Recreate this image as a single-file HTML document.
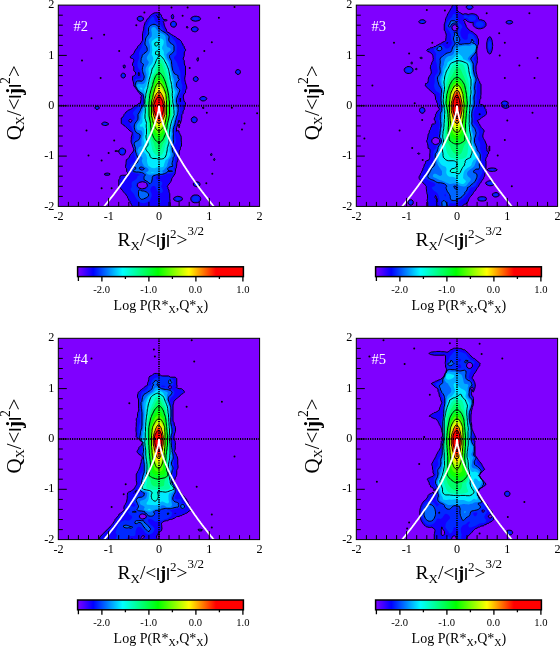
<!DOCTYPE html><html><head><meta charset="utf-8"><style>html,body{margin:0;padding:0;background:#fff;width:560px;height:646px;overflow:hidden}svg{display:block;font-family:"Liberation Serif",serif}</style></head><body>
<svg width="560" height="646" viewBox="0 0 560 646">
<defs><linearGradient id="cbg" x1="0" x2="1" y1="0" y2="0"><stop offset="0.0000" stop-color="#7f00ff"/><stop offset="0.0943" stop-color="#0000ff"/><stop offset="0.2714" stop-color="#00ffff"/><stop offset="0.4857" stop-color="#00ff00"/><stop offset="0.6714" stop-color="#ffff00"/><stop offset="0.8343" stop-color="#ff0000"/><stop offset="1.0000" stop-color="#ff0000"/></linearGradient><clipPath id="pc"><rect x="58.3" y="5.1" width="201.3" height="201.3"/></clipPath></defs>
<g transform="translate(0,0)">
<rect x="58.3" y="5.1" width="201.3" height="201.3" fill="#7f00ff"/>
<g clip-path="url(#pc)">
<g transform="scale(.25)">
<path fill="#1300ff" d="M527 821l3 5 151 0 0-15-1-5 0-5-1-6 0-20-2-5-1-5 0-5-4-5 0-5-1-2-2-3 2-2 2-3 3-4 5-5 0-1 3-5 2-5 1-5 3-5 1-2 3-3 2-4 1-1 3-5 1-2 0-3 1-5 0-5 1-5 3-5 0-5 1-5 0-5 1-5 2-6 1-2 1-3 0-5 2-10 2-3 1-2 0-15 4-5 1-5 0-5 4-5 0-15-1-5 0-15-1-5-3-5-2-5-3-5 0-5-5-2-4 2-1 1 0-14 1-2 2-5 1-5 1-3 1-2 2-6 1-5 1-3 2 3 2 5 1 6 1 0 1-6 2-5 1-5 0-3 1-2 0-10 1-5 3-3 1-2 0-5 1-5 3-3 1-2 0-15 5-5 0-7-3-3-3-4 0-1-3-15 2-10 1-2 4-3 2-2 0-8 2-5 3-4 0-6-1-5-2-6-2-5 0-2-1-3-2-10 0-5 2-10 1-2 0-36-3-2-2-10 0-10-1-1-3-4 0-5 3-5 0-1 1-4 0-10 1-5 4-4 0-6-5-5 0-6-1 0-4-5 0-5-1 0-4-5-1-5-5-5-5-4 0-1-5 0-4-5-1 0-5-5-5-1-4-4-1 0-5-3-2-2-3-1-5-4-5-2-4-3-1-5 0-1-2-4-3-5 0-1-2-4-2-5-1-5 0-3-1-2-2-5 3-3 5 1 5-1 3-2-3-2-5-1-5 1-4-3-1-3-1-2-4-5 0-5-5-5 0-1-5-3-5-1-10 0-5 1-5 3-2 1-3 2-3 3-2 1-3 4-2 3-1 2-5 5-4 5 0 1-2 4-4 4 0 1-1 5-2 5-1 5-1 1 0 9-1 5-2 5-1 5-1 4 0 26-3 5-2 3 0 2-5 5 0 1-10 10-1 5-4 4 0 1-5 4 0 1-4 10-1 1-2 4-3 1-5 4-4 5 1 5 3 1 5 1 4 3 1 4 0 1-1 5-3 5-1 3 0 7 5 5 0 16 5 4 3 5-1 5-2 3-2 2-3 2-5 1 0 15 1 2 2 5 2 10 0 6 4 5 1 1 3 4 2 4 1 1 4 5 0 1 4 4 1 2 3 3 2 4 1 1 4 2 2 3-2 3-2 2 1 5 0 5-2 10 0 5-7 0-5 5-5 4-5 1-5 5-5 4-1 1-4 3-4 2-1 1-5 1-5 3-5 5-1 0-3 5-5 5-1 4-1 1-3 5-1 2-5 2 0 22 5 3 2 2 3 1 3 4 2 1 4 4 1 0 4 5 1 0 10 10 5 2 3 3 1 5-2 10-2 4 0 11-1 5 1 5 0 3 1 2 3 5 1 5 0 2 2 3 2 5 1 5-1 5-8 10-5 5-1 2-1 3-3 5-1 2-3 3-2 3-5 2 0 5-1 6 0 5-2 10 0 5 3 3 1 2 1 5-1 5 4 5 0 5-3 5-2 0-5 1-10 0-5 1-5 3-1 5 0 5-4 4 0 26 4 5 6 6 3 4 2 2 2 3 3 4 6 6 4 5 0 1 4 4 1 5 0 2 4 3 1 6 5 5 0 4 1 1 4 5 0 1 2 4zM555 751l-1-1-4-5-1-5 1-2 1-3 4-4 2-1 3-1 10-2 10 2 2 1 4 3 1 2 2 5 0 5-3 4-1 1-5 3-10 2-5 0-10-4zM626 62l-1-1 1-1 0 2zM631 70l-2-4 2-1 0 5zM636 73l-4-2 4-1 0 3zM721 407l0-4-1-5 1-5 0-1 1 1 0 10-1 4zM555 304l-1-2-1-5 1-5 1-3 2 3 0 10-2 2zM520 490l-2-2-3-5 3-5 2-2 3 2 2 1 3 4-3 4-2 1-3 2zM776 811l13 0 3-1 5-3 1-1 4-5 1-6-1-5-4-5-1-1-5-3-3-1-13 0-4 2-5 3 0 1-3 4-1 5 1 6 3 4 0 1 5 3 4 2zM697 801l4 2 5 2 5 1 10-2 5-3 2 0 2-6-2-5-2-1-5-2-10-2-5 1-5 2-4 2-1 1-2 4 2 5 1 1zM779 745l3 1 5 1 5-1 3-1 2-1 3-4 0-5-3-5-5-2-5-1-5 1-5 2-4 5 1 5 3 4 2 1zM419 700l5 1 11 0 3-1 2-5-5-2-6-1-10 2-1 1 1 5zM854 639l3 4 3-4-2-5-2 0-2 5zM484 619l1 1 5 0 4-1 1 0 5-4 0-1 2-5 1-5-2-5-5-5-1 0-5-2-5 1-3 1-5 5-2 5 0 5 3 5 2 3 4 2zM842 619l0 2 5 1 1-3-1-5-2 0-3 2 0 3zM459 604l1 1 5 1 5-1 4-1-4 0-5-2-5 2-1 0zM716 509l0 3 1-3 1-5 2-5-4-2-3 2 2 5 1 5zM408 499l1 0 5 2 5 1 5 0 5-2 4-1 1-5-5-3-5-2-5-1-5 1-5 3-2 2 1 5zM769 488l3 2 5 1 5-1 2-2 3-2 1-3 1-5-2-5-5-5-1 0-4-1-5 1-5 5-1 0-1 5 1 5 1 3 2 2zM380 433l4 4 5 1 5-2 3-3-1-5-2-2-5-2-5 1-4 3 0 5zM810 433l2 1 4-1-2-5-3 0-1 5zM807 403l5 1 5-1 2 0 3-2 4-3 1-5-5-5-5-2-5 0-5 1-2 1-3 2-3 3 1 5 2 2 5 3zM775 322l2 2 5 2 5-1 4-3 1-2 1-3-1-5-5-5-5-1-3 1-5 5-1 5 2 5zM485 307l5 5 5 0 5-4 1-1 1-5-1-5-1-1-5-3-5 0-5 4 0 1-1 4 1 4 0 1zM948 297l5 1 3-1 2-1 3-4 1-5-2-5-2-2-5-2-5 1-4 3-1 3-1 2 1 5 5 5zM495 272l3 0 2-1 1-4 0-5-1-1-5-1-2 2 0 5 2 5zM788 242l4 3 1-3 1-5-1-5-1-2-2 2-3 5 1 5zM773 126l4 1 5 0 2-1 3-1 5-4 0-1 1-4-1-2-2-3-3-2-5-2-5 0-5 2-4 2-1 1-2 4 1 5 1 1 5 4 1 0zM746 111l1 1 5-1 0-3-2-2-4 0 0 5zM686 106l5 2 5 1 5-2 1-1 3-5 1-5-2-5-3-4-3-1-2-1-5 0-1 1-4 2-2 3-2 5 1 5 3 5zM551 81l4 2 5 2 5-1 5-2 2-1 2-5-1-5-3-3-3-2-2-1-5 0-4 1-1 0-5 4-1 1 0 5 1 4 1 1zM767 81l5 2 10 2 15-3 2-1 3-4 1-1-1-3-1-2-4-3-5-2-1 0-4-1-10 0-3 1-2 1-5 2-2 2-2 5 4 5zM690 76l2 0 2-5 1-5-2-5-2-4-5 4-1 5 1 5 0 1 4 4z"/>
<path fill="#0029ff" d="M563 811l2 0 10 2 5-1 6-2 5-3 3-1 2-1 3-4 2-2 1-4 2-5 2-3 0-2 1-5-1-5 0-2-2-3-2-5-1-5 1-5 2-5 5-5 2-1 5 0 3 1 2 1 2 4 2 5 1 2 1 3 3 5 1 1 5 3 3 1 2 1 5 1 5-5 0-7-2-5-3-5 0-1-2-4 2-3 1-2 2-5 0-5-5-5-3-1-5-3-3-1-2-1-5-3-1-1-2-5 3-3 5-2 5 0 5-1 5 0 20-8 4-1 1-1 10 0 5-1 5-2 2-1 5-5-4-10 2-5 0-1 4-4 0-21 1-5-1-5 1-5 0-1 1-4 1-5-1-5-1-4 0-1-2-5-3-2-2-3-1-5 1-5 0-5 2-4 2-1 3-4 1-1 2-5 0-10-3-15 0-5-2-10 0-15 2-5 0-2 1-3 4-10 0-2 1-4 2-10 2-5 0-2 1-3 4-10 0-1 3-4 2-10 0-5-2-5 0-5-2-5-1-3 0-2-4-10 0-10 1-5 2-5 1-3 1-2 2-5 2-4 2-1 3-5 0-4 1-1 2-10 0-5 1-5-2-6-2-4 0-1-2-10 0-5-2-10 0-15-1-2 0-3-4-10-1-3 0-2-2-5-3-5-1-5-2-5-2-3 0-2-4-5-1-1-3-4-2-3 0-5 1-2 5-5 4-5 0-15 1-5 0-11-2-10-2-5-2-4 0-1-4-5-1-1-3-4-2-2-2-3-3-3-1-2-4-3-1-2-4-2-3-3-2-1-10-8-1-1-8-10-1-2-2-3-3-4-1-1-2-5-2-3-3-2-2-2-5-2-2-1-3-2-4-3-1-2-2-3-1-5-2-5 0-1-5-4-5 4-1 1-4 5-3 5-2 5 0 1-3 4-1 5-1 3-2 2-3 5 0 7-1 3 0 15-4 10-1 0-2 5-2 10 0 5-1 1-1 4-2 5-1 5-1 2-1 3-2 5-1 6-1 0-3 5-2 3 0 2-3 5-1 5 0 5 1 5 0 10-6 15-1 5 0 11 1 4 2 5 2 3 2 2 3 5 4 10 2 10 0 5-1 2-4 3-1 1-10 2-5 0-3 2-2 5-1 5-2 5 1 5 0 6 2 3 1 2 4 5 0 1 3 4 2 3 2 2 3 4 5 5 2 1 3 3 3 2 2 3 1 2 2 10 0 10 1 5 1 2 1 3-5 5-1 0-10 4-1 1-4 2-4 3-5 5-1 2-4 3-1 2-2 3-5 5-1 5 1 5 2 2 2 3 2 5 0 5-3 5-1 1-5 2 0 2-1 5-4 4-5 1-2 1 2 4 0 1 4 5 1 1 2 4 1 5 2 3 0 2 4 10 1 5 0 7 1 3 1 5-2 5-3 5-2 10 3 15 4 10 0 10 1 5-1 5 0 5 2 5 1 5 1 0 1 5 0 5-2 5-5 4-1 2-4 3-2 2-3 2-5 5-1 3 5 5 1 2 1 3-1 1-2 4-1 5 3 2 5 2 2 1 3 1 5 2 10 2 5 2 5 3 1 0-1 0-10 4 0 1-1 5-3 5-1 1-5 4-5 3-4 2-1 1-3 4-1 5 1 5 0 5-1 5-1 2-3 3 1 5 2 4 1 1 4 5 1 0 4 5 0 1 3 4 2 5 0 1 3 4 2 4 1 1 4 6 5 4 0 1 5 4 3 1zM555 755l-5-3-2-2-3-5 0-1-1-4 1-1 1-4 4-5 1 0 4-3 5-2 1 0 4-1 10 0 3 1 2 1 6 2 5 5 1 2 2 5-1 5-2 5-1 0-4 4-3 1-3 2-5 1-10 0-5-1-5-2zM632 811l9 0 3-5-2-5-1-2-5 0-3 2-5 5 3 4 1 1zM776 806l1 0 5 1 5-1 2 0 3-2 3-3 2-5 0-1-2-5-3-3-3-2-2 0-5-1-5 1-1 0-4 4-2 1-1 5 1 6 2 1 4 4zM706 801l5 1 5-1 3 0 2-2 3-4-5-5-3 0-5-1-5 1-5 5 0 1 5 5zM779 740l3 2 5 1 5-1 2-2 1-5-3-3-5-1-5 1-3 3 0 5zM485 614l5 1 2-1 3-2 2-3 0-5-2-4-1-1-4-1-5 0-1 1-4 5 1 5 4 5zM418 499l5 0 1-1 2-4-2-1-5 0-4 1 3 5zM771 483l1 2 5 2 5-2 1-2 1-5-2-4-1-1-4-1-5 1 0 1-2 4 1 5zM383 433l1 1 5 1 4-2-1-5-3-1-5 1-1 5zM806 398l1 1 5 1 5-1 3-1 1-5-4-3-5 0-5 1-2 2 1 5zM781 322l1 1 1-1 4-1 2-4-2-5-5-1-4 1-1 4 0 2 4 4zM490 307l0 1 5 0 1-1 2-5-2-5-6 0-2 5 2 5zM947 292l1 1 5 1 3-2 2-4 0-1-5-5-1 0-4 2-2 3 1 5zM772 121l5 2 5 0 3-2 2-3 0-3-5-4-6 0-4 3-2 2 2 5zM687 101l4 4 5 0 5-4 1 0 0-5-1-3-1-2-4-2-5 0-2 2-3 4 0 3 1 3zM560 81l2 0 3-1 4-4-2-5-2-1-5-1-5 2-1 5 1 2 5 3zM780 81l7 0 5-3 3-2-2-5-1-1-5-1-5 0-5 1-4 1-1 2-2 3 2 1 5 3 3 1z"/>
<path fill="#0067ff" d="M563 795l2 2 5 0 5-1 1-1 4-2 6-2 0-1 5-3 2-2 2-5-2-5-2-3-2-2-3-2-6-2-2-1-3-1-5 0-5-1-3-3-6 0-1 1-1 4 0 15 1 5 3 5 2 3 3 2zM594 730l2 3 5 1 5-5 1-4 2-10 0-5 2-5 5-3 5-1 2-1 3-1 10 0 5-1 5 0 5-1 5-2 1 0 4-2 5-2 2-1 3-5 5 0 5 1 5 0 4-1-4-2-5 0-5 1-4-4-1-3 0-3 5-5 5-2 10-2 0-2-2-3-1-5 1-5 1-6 1-2 1-3 0-5 1-5 3-3 1-2 0-5-1-4 0-1-5-5-2-10 0-10-2-5 2-5 2-4 1-1 2-5 0-5-1-5 0-15 1-5 0-5-1-5 0-10 2-10 1-4 1-1 2-5 2-10 0-1 1-5 2-5 1-5 1-4 0-1 4-10 1-5 0-3 1-2 0-5 1-5-1-5 0-5-1-1 0-4-4-10-1-3 0-13 1-4 4-10 0-2 2-3 2-5 1-3 1-2 2-5-1-5-2-3-3-2-5-5-2-5 0-8 1-3 3-5 1-2 5-5 1-3-1 0-4-5 0-10-1 0-5-3-5-2-5-4 0-1-2-5-3-4 0-1-4-20 0-5-1-5 0-5-1-5-3-5-1-2-2-3-1-5 0-5 3-4 2-1 3-2 4-3 1-2 3-3 2-5 0-16-2-5-5-5-3-1-5-3 0-1-4-5-1-2-1-3 0-5 1-5 0-5-4-5-6-6-5-4-5-3-4-2-1-1-5-3-2-1-3-3-3-2-2-4-1-1-3-5-6-6-5-2-5-1-5 1-5 2-2 1-3 2-3 3-2 3-1 2-1 5 0 10 1 5-1 5-3 5-4 5-1 2-2 3-2 5 0 5-1 5-1 3 0 8 2 4 4 5 2 6 1 5 0 5-3 5-6 4 0 1-5 3-5 5-1 2-1 5-2 5-1 2 0 3-1 5 0 5 1 3 2 2 3 2 4 3-1 5-2 5-1 3 0 2-1 5 1 5 0 3 1 2 1 5 2 5 1 3 1 2 1 5-1 5-1 3 0 2-4 5-1 1-5 2-5-1-10 0-5 2 0 1-2 5-1 5-1 6 3 5 1 1 2 4 3 5 4 5 6 6 5 3 2 1 5 5 2 5 1 5 0 5 1 5 0 10 1 5-2 3-2 2-2 5-1 2-2 3-6 10-1 5-1 1-2 4-6 10 0 15-1 5-1 2-2 3-3 4-1 1-4 6-2 5-1 5 0 5 2 10 1 3 1 2 4 5 0 1 5 3 3 1 2 1 5 4 1 5-1 3 0 2-2 5-3 5-5 4-1 1-4 1-5 3-1 1-2 5 0 5 2 5 1 3 1 2 1 5-1 5 2 10 2 5 0 3 1 2 3 5 1 5 1 0 2 10-1 5-2 6-5 4 0 1-5 2-5 1-1 2-1 5 2 2 5 1 3 2 0 5-3 2-5 5-2 3 2 2 5 0 5 1 10 0 10 2 1 0 4 1 5 3 2 1 5 5-5 5-1 5 0 5 1 5 3 1 6 3 0 1 5 2 3 3zM570 680l-5 0-5-3-3-2 1-5 2-1 5-1 5 1 1 1 4 2 3 3-3 3-4 2-1 0z"/>
<path fill="#00a9ff" d="M588 695l3 2 5 2 10 0 15-3 5 0 5-1 5 0 5-1 5-2 5-1 2-1-2-3-5-2-17 0 2-2 5-1 10 2 5-2 3-2 2-1 3-4 5-5 2-3 3-2 0-5 1-5 1-3 1-2 2-6 0-5 2-1 4-4 1-2 2-3 2-5 1-4 0-1 1-5-1-4 0-6-2-10 1-5-3-5 4-10 0-1 1-4 0-10-1-5 0-5 2-10 0-20 2-10 1-4 1-1 1-5 2-5 1-6 0-1 1-4 2-5 1-5 1-2 1-3 2-5 1-5 0-5 1-5 0-20-1-5-2-5-1-5-1-1 0-4-1-5 1-5 0-4 1-1 2-10 2-5 0-1 2-4 1-5-1-5-2-2-2-3-3-5-2-5-1-5 0-16-1-5-1-3 0-2-4-10-1-2 0-3-2-5-2-10-1-1-1-4-7-35-2-4-1-1-4-5 0-1-3-4-2-10 0-5 5-5 0-1 5-4 1 0 4-4 2-1 0-5-2-4-2-1-3-2-5-1-3-3-2-5 0-5-1-5 0-5-2-10 0-5-1-5-1-2-2-3-3-3-4-2-1-1-5-2-4-2-1-1-5-3-1-1-4-3-2-2-3-4-1-1-3-5-1-1-5-2-5 1-4 2-1 3-1 2 0 5 1 5 0 1 1 4 0 10-1 5 0 1-5 4 0 1-5 4 0 2-2 3 1 5 1 2 0 3 2 5 2 10 0 16-1 5-2 5-1 3-2 2-3 5 0 1-3 4-1 5 1 5 3 4 0 1 4 5 0 5-3 5-1 3-2 2-6 10-1 5 0 5 2 10 2 5 0 14-1 1-2 10-2 5-1 2-2 3-3 3-5 2-5 0-10-2-4 2-1 1-3 5 2 5 1 2 1 3 3 5 6 6 5 3 1 1 4 2 3 3 2 3 1 2 1 5 0 30-1 5-1 2-1 3-2 10-2 5-1 5-6 15-1 5 0 10-1 5-1 2-1 3-4 5 0 1-4 5-1 1-2 4-2 5 0 5 1 5 3 5 5 2 5 0 5 1 2 2 2 5 1 5 0 5-4 20 0 25-1 0-5 3-4 2-1 1-1 4-3 5-1 2 0 5 1 3 3 5 1 2 4 3 1 2 5 3 0 1 3 4 2 4 1 1-1 1-2 4-1 5 3 9 1 2 3 5 1 3 1 2 4 2 6 2 0 1 5 3 2 2 2 5-3 5-1 1-5 2-3 2 3 2 2 3z"/>
<path fill="#00eaff" d="M602 690l4 1 5 0 5-1 2 0-2-1-10 0-4 1zM604 670l2 1 10 2 5-1 5-2 2 0 3-1 5-1 5 1 5 0 5-1 4-3 1-5 0-1 1-4 2-5 2-6 2-5 3-1 5-4 4-5 1-1 2-4 2-5 0-5-2-10 0-10 1-5-1-5 2-5 2-10 0-5-1-5 0-5 1-5 0-5 1-5 0-15 1-5 0-5 1-5 1-3 1-2 2-10 2-6 1-5 8-20 1-5 0-30-2-5-2-10-1-3 0-22 2-10 2-5 0-5-6-15-1-5 0-5-1-6-1-5 0-5-1-5-2-5-1-5-1-4 0-1-4-20-1-3 0-2-1-5-2-5-1-5-1-3-1-2-1-5-2-5-1-3-1-2-4-5-3-5-2-3-1-2-1-5-2-5-1-3-2-2 2-5-1-5-2-5-2-3-2-2-1-5 1-6 2-3 1-2 2-5 1-5 0-5-1-5-5-5-3-1-5-1-5-2-5-1-5 1-5 3-2 1-3 2-5 3 0 1-4 4-1 5 0 5 2 10 0 6 1 5 0 5-1 5 0 5-2 5 3 5 4 10 0 5-2 10-2 5-3 5-5 5-4 5-1 2-2 3 0 10 1 5 0 10-4 20 0 2-1 3-1 5-2 5-1 5 0 2-2 4-2 5-2 3-1 2-3 5 1 5 2 5 0 5 1 5 0 5-1 5 0 20-1 5 0 5-2 10 0 15-1 1 0 4-2 5-2 10-1 4 0 21-3 6-2 1-4 4-1 0-1 5 1 2 5 1 5-1 2 3 3 4 1 1 2 10 0 10-2 10-1 1 0 4-1 5 1 5 0 5 1 0 1 5 0 10-2 5-4 5-1 3 0 9 2 3 3 4 6 6 4 5 1 3 0 2 2 5 1 5-1 5 0 5 1 6 1 5 1 2 1 3 2 5 2 0 5 3 3 2zM565 358l5 0-1-5-4-3-5 1 0 2 5 5z"/>
<path fill="#00ffda" d="M626 634l5 2 15 0 5-1 4-1 6-6 2-4 2-5 1-4 0-1 3-15 0-5 1-5 1-2 1-3 1-5 2-5 1-5 0-20 1-5 0-5 1-5 0-5 1-5 0-5 2-10 0-2 1-3 2-10 2-6 0-1 1-4 2-5 2-4 0-1 4-10 1-3 1-2-1-5 0-10-1-5 0-10-4-20 0-10-1-5 0-5-1-5 0-10 1-5-1-5 0-5-2-10 0-5-1-4 0-2-2-10-2-5-1-5 0-1-1-4 0-5-4-20 0-1-1-4-1-5-2-5-1-2-1-3-2-5-2-4 0-1-3-5-2-4-1-1-2-5-2-3-1-2-4-5-5-5 0-1-5-4-5 1-2 4-3 4 0 1-4 5-1 3-1 2-4 10 0 1-2 4-3 5 0 2-2 3-3 4-1 1-2 5-2 10 0 1-1 4-2 5-1 5-1 3-1 2-1 5-2 5-1 5 0 4-1 1-2 10-1 6-1 5 0 2-1 3-2 5-2 10-2 5-1 5 0 5-2 10-1 4 0 11-1 5 1 5 0 13 1 2 0 20-1 5 0 16 2 4 1 5 2 5 1 5 0 2-1 4 0 10 1 4 0 25-1 1-1 5 0 5 1 5 1 2 1 3 3 5 1 2 0 3 1 5 0 5-1 3-1 2-5 5-2 5 1 5 2 3 1 2 5 5 4 5 3 5 1 5 1 2 2 3 3 3 5 2 15 0zM622 217l4 1 5 2 5 0 1-3 0-5-1-3-5-5-5 0-3 3-1 5 0 5zM620 181l1 2 5 1 4-3 1 0 3-5 0-5-3-1-5-1-5 2-1 0-1 5 1 5z"/>
<path fill="#00ffa0" d="M622 619l4 3 5 2 5 0 5-1 5-3 1-1 4-5 2-5 3-5 3-15 2-4 0-1 1-5 4-10 0-1 1-4 7-35 0-5 2-10 0-3 1-2 0-5 2-10 2-6 0-1 1-4 4-10 0-1 1-4 2-5 1-5 0-10-1-5 0-10-1-5 0-10-1-5 0-5-1-4 0-1-1-5 0-5-1-5 0-5-1-5 0-5-2-10 0-10-2-10-1-6-1-5-1-2 0-3-4-20-1-4 0-1-2-5-2-10-1-3-1-2-1-5-2-5-1-3-1-2-1-5-2-5-1-3-1-2-4-10-5-5 0-1-5-1-3 2-2 1-3 4-2 5 0 1-2 4-1 5-2 5 0 1-1 4-8 20-1 2-1 3-4 5-1 0-4 10 0 4-1 1-2 10-2 5 0 5-1 5-1 6-2 5-1 5-2 5-1 5-2 5 0 1-2 4-3 15 0 2-1 3-3 15-2 3 0 3 3 4 2 10 0 5 1 0 0 10 1 5 0 15 2 10 0 5 1 5 1 1 0 4 1 6 0 25 1 5 0 10 1 5 2 5 2 10 2 5 1 2 1 3 3 15 1 4 0 1 3 15 2 4 0 1 3 5 2 3 2 2 3 4 1 1z"/>
<path fill="#00ff66" d="M627 604l4 4 5 0 5-5 2-4 2-5 1-2 1-3 2-5 1-5 1-1 1-4 4-5 3-5 4-10 1-5 2-5 0-1 1-4 1-5 2-5 0-5 1-5 0-1 1-4 0-5 2-10 0-5 2-6 1-5 2-5 1-5 1-3 1-2 2-10 0-15-1-5 0-25-1-5 0-5-1-4 0-1-1-5 0-5-1-5 0-5-7-35-1-4 0-2-2-10-2-5-2-10-2-5-1-5-1-2-1-3-1-5-2-5-1-3-1-2-1-5-2-5-1-4 0-1-4-10-1-2-5-3-3 5-2 4-1 1-1 5-2 5-1 3-1 2-6 15-3 2-4 3-1 3-1 2-4 10 0 2-1 3-2 5-2 10 0 3-1 2-1 6-1 5-2 5 0 1-2 4-1 5-2 5 0 2-1 3-2 5 0 5-2 10 0 5-1 0 0 5-2 5-2 4-1 1 1 1 3 4 1 5 0 5 1 4 0 26 2 10 0 5 2 10 1 4 0 1 1 6 0 10 1 5 0 20 2 5 1 3 0 2 2 5 1 5 2 3 0 2 2 5 6 10 1 5 1 2 1 3 1 5 2 5 1 2 1 3 2 5 2 4 1 1z"/>
<path fill="#00ff29" d="M631 569l5 1 4-1 1 0 5-4 1-1 4-5 3-5 2-4 0-1 2-5 3-5 0-1 1-4 2-5 2-10 0-1 1-4 1-5 0-5 2-10 1-4 0-2 2-5 5-25 0-50-2-10 0-5-1-5 0-5-6-30-2-5-1-5-2-6-1-5-2-4 0-1-4-10-1-2-1-3-3-5-1-2-2-3-3-4-1-1-4-5-10 4-4 1-1 2-2 3-3 5 0 1-2 4-2 5-1 4-1 1-1 5-2 5-1 5 0 1-1 5-4 10 0 2-1 3-2 5-2 10-2 5 0 5-1 5 0 5-1 5 0 5-1 5 0 55 5 25 1 6 0 5 1 5 0 5 1 5 0 5 3 15 3 5 1 3 1 2 2 5 2 3 1 2 3 5 6 6 5 4z"/>
<path fill="#10ff00" d="M629 549l2 1 5 1 5-2 1 0 5-5 4-5 3-5 2-4 1-1 1-5 2-5 1-2 1-3 2-10 2-5 0-2 1-3 1-6 3-15 0-1 1-4 1-5 0-10 1-5 0-35-1-5 0-10-1-5 0-5-1-5 0-5-2-10-2-5-1-4 0-1-2-5-1-5-2-5-2-6-2-5-1-1-2-4-3-5 0-1-3-4-2-3-5-5-5-1-5 2-2 2-3 4-1 1-3 5-1 4-1 1-4 10-2 6-2 5-1 5-2 5-2 10-1 4 0 1-4 20 0 5-1 5 0 3-1 2 0 10-1 5 0 35 1 5 1 4 0 1 4 20 1 6 0 5 3 15 4 10 1 5 2 4 0 1 4 5 1 1 3 4 5 5z"/>
<path fill="#4eff00" d="M628 534l3 1 5 1 5-1 6-6 4-5 3-5 2-4 1-1 1-5 2-5 1-2 1-3 2-5 1-6 0-5 1-3 0-2 3-15 0-15 1-5 0-30-1-5 0-15-1-5 0-10-2-5 0-2-1-3-2-5-1-5-1-3-1-2-4-10 0-1-3-5-2-4-1-1-3-5-1-1-3-4-2-2-5-1-5 3-4 5-1 2-3 3-2 4-1 1-2 6-1 5-1 2-1 3-1 5-2 5-1 5 0 2-1 3-4 20 0 5-3 15 0 50 2 10 1 2 0 3 2 10 1 6 2 5 1 5 2 5 1 5 1 1 1 4 4 5 2 5 5 5z"/>
<path fill="#8dff00" d="M627 519l4 3 5 2 5-2 4-3 1-1 3-4 2-2 2-3 2-5 1-1 2-4 2-5 1-5 0-1 5-25 0-60-1-5 0-10-1-5 0-5-2-5-1-5-4-10-1-3-1-2-3-5-1-3-2-2-3-6-5-5-5-1-5 1-4 5-3 6-2 5-1 2-1 3-2 5-2 10-2 5-3 15 0 2-1 3-2 5-2 10 0 55 1 5 2 5 1 5 1 4 0 1 1 5 2 6 6 15 1 1 2 4 3 4 1 1z"/>
<path fill="#d0ff00" d="M629 509l2 1 5 2 5-1 7-7 3-4 1-1 2-5 3-6 2-10 2-5 0-1 1-4 2-10 0-45-2-10 0-5-1-5 0-5-3-15-2-4-1-1-4-10-1 0-3-5-1-2-3-3-2-3-5-1-5 3 0 1-4 5-1 2-1 3-2 5-2 4-1 1-2 5-1 5-1 3-1 2-1 5-2 5-1 5 0 2-1 3-2 5-1 5 0 5 1 5 0 35 1 5 2 5 2 10 2 5 1 3 1 2 2 6 2 3 1 2 3 5 1 1 3 4z"/>
<path fill="#ffe900" d="M629 499l2 1 5 3 5-2 3-2 2-2 2-3 3-4 1-2 6-15 1-5 2-5 1-5 0-25-1-5 0-16-1-4-4-20 0-2-1-3-1-5-2-5-1-2-2-3-2-5-6-6-5-1-2 2-3 2-2 3-3 3-1 2-3 5-1 2-1 3-4 10 0 1-1 4-2 5-1 5-1 3-1 2-1 5 0 5 1 5 0 15 1 4 0 16 1 5 2 5 1 5 1 3 1 2 4 10 4 6 1 1 3 4z"/>
<path fill="#ff9800" d="M627 488l4 4 5 2 5-2 5-5 3-4 2-3 1-2 2-5 2-4 0-1 4-10 0-35-1-5 0-5-1-5-2-5 0-2-1-3-1-5-2-5-1-2-1-3-3-5-1-3-2-2-3-5-2 0-3-1-3 1-2 1-5 5-2 4-3 5 0 1-2 4-2 5-1 4-1 1-1 5-2 5-1 5 0 10 1 5 0 20 3 15 1 3 1 2 4 10 3 5 2 4 1 1z"/>
<path fill="#ff5100" d="M629 483l2 2 5 2 5-2 5-5 1-2 3-5 1-1 2-4 2-5 1-1 1-4 0-5 1-5 0-30-2-10-2-5-1-5-2-5-3-5-2-4-1-1-3-5-1-2-5-3-5 3-2 2-3 4-1 1-3 5-1 3-1 2-6 15-1 5 0 30 2 10 1 4 0 1 4 10 1 2 2 3 3 5 0 1 3 4z"/>
<path fill="#ff0900" d="M631 478l5 3 5-2 0-1 4-5 1 0 3-5 2-3 1-2 2-5 0-5 1-5 1-2 0-3 1-5 0-15-1-5 0-3-1-2-2-5-1-5-1-4-1-1-2-5-2-4-1-1-4-5-5-4-5 3-1 1-4 5-3 5-2 4-1 1-4 10 0 1-1 4-1 5 0 25 2 5 0 1 2 4 2 10 1 1 2 4 3 4 1 1 4 5z"/>
<path fill="#ff0000" d="M629 468l2 2 5 3 5-3 2-2 3-4 0-1 3-5 2-5 3-15 0-5 2-10-4-10-1-5 0-1-2-4-2-5-1-2-3-3-2-4-3-1-2-1-2 1-3 1-3 4-2 2-1 3-4 5 0 1-1 4-2 5-2 4 0 1-1 5 0 10 1 5 0 5 3 5 1 5 1 3 1 2 3 5 1 2 3 3z"/>
<path fill="none" stroke="#000" stroke-width="3.8" d="M681 826l0-15-1-5 0-5-1-6 0-20-2-5-1-5 0-5-4-5 0-5-1-2-2-3 2-2 2-3 3-4 5-5 0-1 3-5 2-5 1-5 3-5 1-2 3-3 2-4 1-1 3-5 1-2 0-3 1-5 0-5 1-5 3-5 0-5 1-5 0-5 1-5 2-6 1-2 1-3 0-5 2-10 2-3 1-2 0-15 4-5 1-5 0-5 4-5 0-15-1-5 0-15-1-5-3-5-2-5-3-5 0-5-5-2-4 2-1 1 0-14 1-2 2-5 1-5 1-3 1-2 2-6 1-5 1-3 2 3 2 5 1 6 1 0 1-6 2-5 1-5 0-3 1-2 0-10 1-5 3-3 1-2 0-5 1-5 3-3 1-2 0-15 5-5 0-7-3-3-3-4 0-1-3-15 2-10 1-2 4-3 2-2 0-8 2-5 3-4 0-6-1-5-2-6-2-5 0-2-1-3-2-10 0-5 2-10 1-2 0-36-3-2-2-10 0-10-1-1-3-4 0-5 3-5 0-1 1-4 0-10 1-5 4-4 0-6-5-5 0-6-1 0-4-5 0-5-1 0-4-5-1-5-5-5-5-4 0-1-5 0-4-5-1 0-5-5-5-1-4-4-1 0-5-3-2-2-3-1-5-4-5-2-4-3-1-5 0-1-2-4-3-5 0-1-2-4-2-5-1-5 0-3-1-2-2-5 3-3 5 1 5-1 3-2-3-2-5-1-5 1-4-3-1-3-1-2-4-5 0-5-5-5 0-1-5-3-5-1-10 0-5 1-5 3-2 1-3 2-3 3-2 1-3 4-2 3-1 2-5 5-4 5 0 1-2 4-4 4 0 1-1 5-2 5-1 5-1 1 0 9-1 5-2 5-1 5-1 4 0 26-3 5-2 3 0 2-5 5 0 1-10 10-1 5-4 4 0 1-5 4 0 1-4 10-1 1-2 4-3 1-5 4-4 5 1 5 3 1 5 1 4 3 1 4 0 1-1 5-3 5-1 3 0 7 5 5 0 16 5 4 3 5-1 5-2 3-2 2-3 2-5 1 0 15 1 2 2 5 2 10 0 6 4 5 1 1 3 4 2 4 1 1 4 5 0 1 4 4 1 2 3 3 2 4 1 1 4 2 2 3-2 3-2 2 1 5 0 5-2 10 0 5-7 0-5 5-5 4-5 1-5 5-5 4-1 1-4 3-4 2-1 1-5 1-5 3-5 5-1 0-3 5-5 5-1 4-1 1-3 5-1 2-5 2 0 22 5 3 2 2 3 1 3 4 2 1 4 4 1 0 4 5 1 0 10 10 5 2 3 3 1 5-2 10-2 4 0 11-1 5 1 5 0 3 1 2 3 5 1 5 0 2 2 3 2 5 1 5-1 5-8 10-5 5-1 2-1 3-3 5-1 2-3 3-2 3-5 2 0 5-1 6 0 5-2 10 0 5 3 3 1 2 1 5-1 5 4 5 0 5-3 5-2 0-5 1-10 0-5 1-5 3-1 5 0 5-4 4 0 26 4 5 6 6 3 4 2 2 2 3 3 4 6 6 4 5 0 1 4 4 1 5 0 2 4 3 1 6 5 5 0 4 1 1 4 5 0 1 2 4 3 5M776 811l13 0 3-1 5-3 1-1 4-5 1-6-1-5-4-5-1-1-5-3-3-1-13 0-4 2-5 3 0 1-3 4-1 5 1 6 3 4 0 1 5 3 4 2M697 801l4 2 5 2 5 1 10-2 5-3 2 0 2-6-2-5-2-1-5-2-10-2-5 1-5 2-4 2-1 1-2 4 2 5 1 1M555 751l-1-1-4-5-1-5 1-2 1-3 4-4 2-1 3-1 10-2 10 2 2 1 4 3 1 2 2 5 0 5-3 4-1 1-5 3-10 2-5 0-10-4M779 745l3 1 5 1 5-1 3-1 2-1 3-4 0-5-3-5-5-2-5-1-5 1-5 2-4 5 1 5 3 4 2 1M419 700l5 1 11 0 3-1 2-5-5-2-6-1-10 2-1 1 1 5M854 639l3 4 3-4-2-5-2 0-2 5M484 619l1 1 5 0 4-1 1 0 5-4 0-1 2-5 1-5-2-5-5-5-1 0-5-2-5 1-3 1-5 5-2 5 0 5 3 5 2 3 4 2M842 619l0 2 5 1 1-3-1-5-2 0-3 2 0 3M459 604l1 1 5 1 5-1 4-1-4 0-5-2-5 2-1 0M716 509l0 3 1-3 1-5 2-5-4-2-3 2 2 5 1 5M408 499l1 0 5 2 5 1 5 0 5-2 4-1 1-5-5-3-5-2-5-1-5 1-5 3-2 2 1 5M520 490l-2-2-3-5 3-5 2-2 3 2 2 1 3 4-3 4-2 1-3 2M769 488l3 2 5 1 5-1 2-2 3-2 1-3 1-5-2-5-5-5-1 0-4-1-5 1-5 5-1 0-1 5 1 5 1 3 2 2M380 433l4 4 5 1 5-2 3-3-1-5-2-2-5-2-5 1-4 3 0 5M810 433l2 1 4-1-2-5-3 0-1 5M721 407l0-4-1-5 1-5 0-1 1 1 0 10-1 4M807 403l5 1 5-1 2 0 3-2 4-3 1-5-5-5-5-2-5 0-5 1-2 1-3 2-3 3 1 5 2 2 5 3M775 322l2 2 5 2 5-1 4-3 1-2 1-3-1-5-5-5-5-1-3 1-5 5-1 5 2 5M485 307l5 5 5 0 5-4 1-1 1-5-1-5-1-1-5-3-5 0-5 4 0 1-1 4 1 4 0 1M555 304l-1-2-1-5 1-5 1-3 2 3 0 10-2 2M948 297l5 1 3-1 2-1 3-4 1-5-2-5-2-2-5-2-5 1-4 3-1 3-1 2 1 5 5 5M495 272l3 0 2-1 1-4 0-5-1-1-5-1-2 2 0 5 2 5M788 242l4 3 1-3 1-5-1-5-1-2-2 2-3 5 1 5M773 126l4 1 5 0 2-1 3-1 5-4 0-1 1-4-1-2-2-3-3-2-5-2-5 0-5 2-4 2-1 1-2 4 1 5 1 1 5 4 1 0M746 111l1 1 5-1 0-3-2-2-4 0 0 5M686 106l5 2 5 1 5-2 1-1 3-5 1-5-2-5-3-4-3-1-2-1-5 0-1 1-4 2-2 3-2 5 1 5 3 5M551 81l4 2 5 2 5-1 5-2 2-1 2-5-1-5-3-3-3-2-2-1-5 0-4 1-1 0-5 4-1 1 0 5 1 4 1 1M767 81l5 2 10 2 15-3 2-1 3-4 1-1-1-3-1-2-4-3-5-2-1 0-4-1-10 0-3 1-2 1-5 2-2 2-2 5 4 5M690 76l2 0 2-5 1-5-2-5-2-4-5 4-1 5 1 5 0 1 4 4M636 73l-4-2 4-1 0 3M631 70l-2-4 2-1 0 5M626 62l-1-1 1-1 0 2M563 795l2 2 5 0 5-1 1-1 4-2 6-2 0-1 5-3 2-2 2-5-2-5-2-3-2-2-3-2-6-2-2-1-3-1-5 0-5-1-3-3-6 0-1 1-1 4 0 15 1 5 3 5 2 3 3 2M594 730l2 3 5 1 5-5 1-4 2-10 0-5 2-5 5-3 5-1 2-1 3-1 10 0 5-1 5 0 5-1 5-2 1 0 4-2 5-2 2-1 3-5 5 0 5 1 5 0 4-1-4-2-5 0-5 1-4-4-1-3 0-3 5-5 5-2 10-2 0-2-2-3-1-5 1-5 1-6 1-2 1-3 0-5 1-5 3-3 1-2 0-5-1-4 0-1-5-5-2-10 0-10-2-5 2-5 2-4 1-1 2-5 0-5-1-5 0-15 1-5 0-5-1-5 0-10 2-10 1-4 1-1 2-5 2-10 0-1 1-5 2-5 1-5 1-4 0-1 4-10 1-5 0-3 1-2 0-5 1-5-1-5 0-5-1-1 0-4-4-10-1-3 0-13 1-4 4-10 0-2 2-3 2-5 1-3 1-2 2-5-1-5-2-3-3-2-5-5-2-5 0-8 1-3 3-5 1-2 5-5 1-3-1 0-4-5 0-10-1 0-5-3-5-2-5-4 0-1-2-5-3-4 0-1-4-20 0-5-1-5 0-5-1-5-3-5-1-2-2-3-1-5 0-5 3-4 2-1 3-2 4-3 1-2 3-3 2-5 0-16-2-5-5-5-3-1-5-3 0-1-4-5-1-2-1-3 0-5 1-5 0-5-4-5-6-6-5-4-5-3-4-2-1-1-5-3-2-1-3-3-3-2-2-4-1-1-3-5-6-6-5-2-5-1-5 1-5 2-2 1-3 2-3 3-2 3-1 2-1 5 0 10 1 5-1 5-3 5-4 5-1 2-2 3-2 5 0 5-1 5-1 3 0 8 2 4 4 5 2 6 1 5 0 5-3 5-6 4 0 1-5 3-5 5-1 2-1 5-2 5-1 2 0 3-1 5 0 5 1 3 2 2 3 2 4 3-1 5-2 5-1 3 0 2-1 5 1 5 0 3 1 2 1 5 2 5 1 3 1 2 1 5-1 5-1 3 0 2-4 5-1 1-5 2-5-1-10 0-5 2 0 1-2 5-1 5-1 6 3 5 1 1 2 4 3 5 4 5 6 6 5 3 2 1 5 5 2 5 1 5 0 5 1 5 0 10 1 5-2 3-2 2-2 5-1 2-2 3-6 10-1 5-1 1-2 4-6 10 0 15-1 5-1 2-2 3-3 4-1 1-4 6-2 5-1 5 0 5 2 10 1 3 1 2 4 5 0 1 5 3 3 1 2 1 5 4 1 5-1 3 0 2-2 5-3 5-5 4-1 1-4 1-5 3-1 1-2 5 0 5 2 5 1 3 1 2 1 5-1 5 2 10 2 5 0 3 1 2 3 5 1 5 1 0 2 10-1 5-2 6-5 4 0 1-5 2-5 1-1 2-1 5 2 2 5 1 3 2 0 5-3 2-5 5-2 3 2 2 5 0 5 1 10 0 10 2 1 0 4 1 5 3 2 1 5 5-5 5-1 5 0 5 1 5 3 1 6 3 0 1 5 2 3 3M570 680l-5 0-5-3-3-2 1-5 2-1 5-1 5 1 1 1 4 2 3 3-3 3-4 2-1 0M626 634l5 2 15 0 5-1 4-1 6-6 2-4 2-5 1-4 0-1 3-15 0-5 1-5 1-2 1-3 1-5 2-5 1-5 0-20 1-5 0-5 1-5 0-5 1-5 0-5 2-10 0-2 1-3 2-10 2-6 0-1 1-4 2-5 2-4 0-1 4-10 1-3 1-2-1-5 0-10-1-5 0-10-4-20 0-10-1-5 0-5-1-5 0-10 1-5-1-5 0-5-2-10 0-5-1-4 0-2-2-10-2-5-1-5 0-1-1-4 0-5-4-20 0-1-1-4-1-5-2-5-1-2-1-3-2-5-2-4 0-1-3-5-2-4-1-1-2-5-2-3-1-2-4-5-5-5 0-1-5-4-5 1-2 4-3 4 0 1-4 5-1 3-1 2-4 10 0 1-2 4-3 5 0 2-2 3-3 4-1 1-2 5-2 10 0 1-1 4-2 5-1 5-1 3-1 2-1 5-2 5-1 5 0 4-1 1-2 10-1 6-1 5 0 2-1 3-2 5-2 10-2 5-1 5 0 5-2 10-1 4 0 11-1 5 1 5 0 13 1 2 0 20-1 5 0 16 2 4 1 5 2 5 1 5 0 2-1 4 0 10 1 4 0 25-1 1-1 5 0 5 1 5 1 2 1 3 3 5 1 2 0 3 1 5 0 5-1 3-1 2-5 5-2 5 1 5 2 3 1 2 5 5 4 5 3 5 1 5 1 2 2 3 3 3 5 2 15 0M622 217l4 1 5 2 5 0 1-3 0-5-1-3-5-5-5 0-3 3-1 5 0 5M620 181l1 2 5 1 4-3 1 0 3-5 0-5-3-1-5-1-5 2-1 0-1 5 1 5M631 569l5 1 4-1 1 0 5-4 1-1 4-5 3-5 2-4 0-1 2-5 3-5 0-1 1-4 2-5 2-10 0-1 1-4 1-5 0-5 2-10 1-4 0-2 2-5 5-25 0-50-2-10 0-5-1-5 0-5-6-30-2-5-1-5-2-6-1-5-2-4 0-1-4-10-1-2-1-3-3-5-1-2-2-3-3-4-1-1-4-5-10 4-4 1-1 2-2 3-3 5 0 1-2 4-2 5-1 4-1 1-1 5-2 5-1 5 0 1-1 5-4 10 0 2-1 3-2 5-2 10-2 5 0 5-1 5 0 5-1 5 0 5-1 5 0 55 5 25 1 6 0 5 1 5 0 5 1 5 0 5 3 15 3 5 1 3 1 2 2 5 2 3 1 2 3 5 6 6 5 4M627 519l4 3 5 2 5-2 4-3 1-1 3-4 2-2 2-3 2-5 1-1 2-4 2-5 1-5 0-1 5-25 0-60-1-5 0-10-1-5 0-5-2-5-1-5-4-10-1-3-1-2-3-5-1-3-2-2-3-6-5-5-5-1-5 1-4 5-3 6-2 5-1 2-1 3-2 5-2 10-2 5-3 15 0 2-1 3-2 5-2 10 0 55 1 5 2 5 1 5 1 4 0 1 1 5 2 6 6 15 1 1 2 4 3 4 1 1M627 488l4 4 5 2 5-2 5-5 3-4 2-3 1-2 2-5 2-4 0-1 4-10 0-35-1-5 0-5-1-5-2-5 0-2-1-3-1-5-2-5-1-2-1-3-3-5-1-3-2-2-3-5-2 0-3-1-3 1-2 1-5 5-2 4-3 5 0 1-2 4-2 5-1 4-1 1-1 5-2 5-1 5 0 10 1 5 0 20 3 15 1 3 1 2 4 10 3 5 2 4 1 1M629 468l2 2 5 3 5-3 2-2 3-4 0-1 3-5 2-5 3-15 0-5 2-10-4-10-1-5 0-1-2-4-2-5-1-2-3-3-2-4-3-1-2-1-2 1-3 1-3 4-2 2-1 3-4 5 0 1-1 4-2 5-2 4 0 1-1 5 0 10 1 5 0 5 3 5 1 5 1 3 1 2 3 5 1 2 3 3"/>
</g>
<g fill="#000"><circle cx="136.3" cy="25.2" r="1"/><circle cx="144.4" cy="12.6" r="1"/><circle cx="104.1" cy="34.8" r="1"/><circle cx="91.5" cy="38.3" r="1"/><circle cx="119.2" cy="50.9" r="1"/><circle cx="82.0" cy="60.5" r="1"/><circle cx="100.6" cy="78.1" r="1"/><circle cx="171.5" cy="7.6" r="1"/><circle cx="187.6" cy="7.6" r="1"/><circle cx="182.6" cy="15.7" r="1"/><circle cx="218.9" cy="17.7" r="1"/><circle cx="234.5" cy="7.1" r="1"/><circle cx="211.8" cy="42.3" r="1"/><circle cx="204.3" cy="50.9" r="1"/><circle cx="189.7" cy="68.0" r="1"/><circle cx="86.5" cy="130.4" r="1"/><circle cx="114.2" cy="140.5" r="1"/><circle cx="108.6" cy="153.1" r="1"/><circle cx="88.5" cy="155.6" r="1"/><circle cx="101.6" cy="160.6" r="1"/><circle cx="101.6" cy="188.3" r="1"/><circle cx="111.6" cy="188.3" r="1"/><circle cx="206.8" cy="112.8" r="1"/><circle cx="231.9" cy="107.8" r="1"/><circle cx="257.1" cy="113.3" r="1"/><circle cx="244.5" cy="123.4" r="1"/><circle cx="242.0" cy="129.4" r="1"/><circle cx="212.3" cy="173.7" r="1"/><circle cx="206.3" cy="183.3" r="1"/></g>
<line x1="159.0" y1="5.1" x2="159.0" y2="206.4" stroke="#000" stroke-width="1.9" stroke-dasharray="1.1 1.2"/>
<line x1="58.3" y1="105.8" x2="259.6" y2="105.8" stroke="#000" stroke-width="1.9" stroke-dasharray="1.1 1.2"/>
<path fill="none" stroke="#fff" stroke-width="1.8" d="M98.6 213.2 99.1 212.6 99.6 212.0 100.1 211.4 100.6 210.8 101.1 210.2 101.6 209.6 102.1 209.0 102.6 208.3 103.1 207.7 103.6 207.1 104.1 206.5 104.6 205.9 105.1 205.3 105.6 204.6 106.1 204.0 106.6 203.4 107.1 202.8 107.6 202.1 108.1 201.5 108.6 200.9 109.1 200.2 109.6 199.6 110.1 199.0 110.6 198.3 111.1 197.7 111.6 197.0 112.2 196.4 112.7 195.7 113.2 195.1 113.7 194.4 114.2 193.8 114.7 193.1 115.2 192.4 115.7 191.8 116.2 191.1 116.7 190.4 117.2 189.8 117.7 189.1 118.2 188.4 118.7 187.7 119.2 187.0 119.7 186.4 120.2 185.7 120.7 185.0 121.2 184.3 121.7 183.6 122.2 182.9 122.7 182.2 123.2 181.5 123.7 180.7 124.2 180.0 124.7 179.3 125.2 178.6 125.7 177.9 126.2 177.1 126.7 176.4 127.3 175.7 127.8 174.9 128.3 174.2 128.8 173.4 129.3 172.7 129.8 171.9 130.3 171.2 130.8 170.4 131.3 169.6 131.8 168.8 132.3 168.1 132.8 167.3 133.3 166.5 133.8 165.7 134.3 164.9 134.8 164.1 135.3 163.3 135.8 162.4 136.3 161.6 136.8 160.8 137.3 159.9 137.8 159.1 138.3 158.3 138.8 157.4 139.3 156.5 139.8 155.7 140.3 154.8 140.8 153.9 141.3 153.0 141.8 152.1 142.4 151.2 142.9 150.3 143.4 149.3 143.9 148.4 144.4 147.4 144.9 146.5 145.4 145.5 145.9 144.5 146.4 143.5 146.9 142.5 147.4 141.5 147.9 140.4 148.4 139.4 148.9 138.3 149.4 137.2 149.9 136.1 150.4 134.9 150.9 133.8 151.4 132.6 151.9 131.4 152.4 130.2 152.9 128.9 153.4 127.6 153.9 126.3 154.4 124.9 154.9 123.4 155.4 121.9 155.9 120.3 156.4 118.7 156.9 116.9 157.5 114.9 158.0 112.8 158.5 110.2 159.0 105.8 159.5 110.2 160.0 112.8 160.5 114.9 161.0 116.9 161.5 118.7 162.0 120.3 162.5 121.9 163.0 123.4 163.5 124.9 164.0 126.3 164.5 127.6 165.0 128.9 165.5 130.2 166.0 131.4 166.5 132.6 167.0 133.8 167.5 134.9 168.0 136.1 168.5 137.2 169.0 138.3 169.5 139.4 170.0 140.4 170.5 141.5 171.0 142.5 171.5 143.5 172.0 144.5 172.5 145.5 173.1 146.5 173.6 147.4 174.1 148.4 174.6 149.3 175.1 150.3 175.6 151.2 176.1 152.1 176.6 153.0 177.1 153.9 177.6 154.8 178.1 155.7 178.6 156.5 179.1 157.4 179.6 158.3 180.1 159.1 180.6 159.9 181.1 160.8 181.6 161.6 182.1 162.4 182.6 163.3 183.1 164.1 183.6 164.9 184.1 165.7 184.6 166.5 185.1 167.3 185.6 168.1 186.1 168.8 186.6 169.6 187.1 170.4 187.6 171.2 188.2 171.9 188.7 172.7 189.2 173.4 189.7 174.2 190.2 174.9 190.7 175.7 191.2 176.4 191.7 177.1 192.2 177.9 192.7 178.6 193.2 179.3 193.7 180.0 194.2 180.7 194.7 181.5 195.2 182.2 195.7 182.9 196.2 183.6 196.7 184.3 197.2 185.0 197.7 185.7 198.2 186.4 198.7 187.0 199.2 187.7 199.7 188.4 200.2 189.1 200.7 189.8 201.2 190.4 201.7 191.1 202.2 191.8 202.7 192.4 203.3 193.1 203.8 193.8 204.3 194.4 204.8 195.1 205.3 195.7 205.8 196.4 206.3 197.0 206.8 197.7 207.3 198.3 207.8 199.0 208.3 199.6 208.8 200.2 209.3 200.9 209.8 201.5 210.3 202.1 210.8 202.8 211.3 203.4 211.8 204.0 212.3 204.6 212.8 205.3 213.3 205.9 213.8 206.5 214.3 207.1 214.8 207.7 215.3 208.3 215.8 209.0 216.3 209.6 216.8 210.2 217.3 210.8 217.8 211.4 218.3 212.0 218.9 212.6 219.4 213.2"/>
</g>
<rect x="58.3" y="5.1" width="201.3" height="201.3" fill="none" stroke="#000" stroke-width="1"/>
<path stroke="#000" stroke-width="1" d="M68.4 206.4V201.9M58.3 196.4H62.8M78.4 206.4V201.9M58.3 186.3H62.8M88.5 206.4V201.9M58.3 176.2H62.8M98.6 206.4V201.9M58.3 166.2H62.8M108.6 206.4V197.9M58.3 156.1H66.8M118.7 206.4V201.9M58.3 146.0H62.8M128.8 206.4V201.9M58.3 136.0H62.8M138.8 206.4V201.9M58.3 125.9H62.8M148.9 206.4V201.9M58.3 115.8H62.8M159.0 206.4V197.9M58.3 105.8H66.8M169.0 206.4V201.9M58.3 95.7H62.8M179.1 206.4V201.9M58.3 85.6H62.8M189.2 206.4V201.9M58.3 75.6H62.8M199.2 206.4V201.9M58.3 65.5H62.8M209.3 206.4V197.9M58.3 55.4H66.8M219.4 206.4V201.9M58.3 45.4H62.8M229.4 206.4V201.9M58.3 35.3H62.8M239.5 206.4V201.9M58.3 25.2H62.8M249.6 206.4V201.9M58.3 15.2H62.8"/>
<text x="54.3" y="209.5" font-size="12.2" text-anchor="end">-2</text>
<text x="58.5" y="220.2" font-size="12.2" text-anchor="middle">-2</text>
<text x="54.3" y="159.2" font-size="12.2" text-anchor="end">-1</text>
<text x="108.8" y="220.2" font-size="12.2" text-anchor="middle">-1</text>
<text x="54.3" y="108.9" font-size="12.2" text-anchor="end">0</text>
<text x="159.0" y="220.2" font-size="12.2" text-anchor="middle">0</text>
<text x="54.3" y="58.5" font-size="12.2" text-anchor="end">1</text>
<text x="209.3" y="220.2" font-size="12.2" text-anchor="middle">1</text>
<text x="54.3" y="8.2" font-size="12.2" text-anchor="end">2</text>
<text x="259.6" y="220.2" font-size="12.2" text-anchor="middle">2</text>
<text x="73.4" y="30.9" font-size="14.5" fill="#fff">#2</text>
<text transform="translate(21.0,140.3) rotate(-90)" font-size="21">Q<tspan font-size="12.5" dy="2.5">X</tspan><tspan dy="-2.5">/&lt;</tspan><tspan font-family="Liberation Sans" font-weight="bold" font-size="13.4" dy="-2.9">|</tspan><tspan font-weight="bold" dy="2.9">j</tspan><tspan font-family="Liberation Sans" font-weight="bold" font-size="13.4" dy="-2.9">|</tspan><tspan font-size="13.7" dy="-8.1">2</tspan><tspan dy="11">&gt;</tspan></text>
<text x="117.5" y="246.3" font-size="19.5">R<tspan font-size="13" dy="4">X</tspan><tspan dy="-4">/&lt;</tspan><tspan font-family="Liberation Sans" font-weight="bold" font-size="12.6" dy="-2.7">|</tspan><tspan font-weight="bold" dy="2.7">j</tspan><tspan font-family="Liberation Sans" font-weight="bold" font-size="12.6" dy="-2.7">|</tspan><tspan font-size="13" dy="-6.1">2</tspan><tspan dy="8.8">&gt;</tspan><tspan font-size="13" dy="-11.5">3/2</tspan></text>
<rect x="77.6" y="266.8" width="165.8" height="9.8" fill="url(#cbg)" stroke="#000" stroke-width="1.5"/>
<path stroke="#000" stroke-width="1.3" d="M78.4 276.6V281.1M101.9 276.6V281.6M125.4 276.6V279.1M148.9 276.6V281.6M172.4 276.6V279.1M195.9 276.6V281.6M219.4 276.6V279.1M242.9 276.6V281.6"/>
<text x="101.6" y="293.2" font-size="10.6" text-anchor="middle">-2.0</text>
<text x="148.6" y="293.2" font-size="10.6" text-anchor="middle">-1.0</text>
<text x="195.4" y="293.2" font-size="10.6" text-anchor="middle">0.0</text>
<text x="242.9" y="293.2" font-size="10.6" text-anchor="middle">1.0</text>
<text x="113.6" y="309.5" font-size="14">Log P(R*<tspan font-size="10" dy="3">X</tspan><tspan dy="-3">,Q*</tspan><tspan font-size="10" dy="3">X</tspan><tspan dy="-3">)</tspan></text>
</g>
<g transform="translate(298,0)">
<rect x="58.3" y="5.1" width="201.3" height="201.3" fill="#7f00ff"/>
<g clip-path="url(#pc)">
<g transform="scale(.25)">
<path fill="#1300ff" d="M519 826l139 0 2-5 1-1 5-3 5-1 5-3 1-2 3-5 1-2 3-9 2-3 1-2 4-5 5-5 3-5 2-2 1-3 4-5 5-5 2-5 3-3 1-2 5-5 2-5 2-3 1-2 4-5 1 0 2-5 2-3 1-2 5-5 1-5 3-5 1-1 0-9 3-5 1-5 0-5 1-3 0-32-1-1-1-5 2-1 0-4 2-5 3-3 0-7 5-4 0-8-5-2-1-1 0-5-2-10 2-5-8-20-1-2-2-3-3-5 0-1-2-4-1-5 2-10 1-3 1-2 2-5-3-5 0-1-5-4-5-5-1-3-2-2-2-5-1-3-3-2-1-6-1 0-4-5 4-3 5-1 10-10 3-1 3-2 5-3 5-5 2-5 0-5-2-5 0-5-5-5 0-10-5 0-5-5-6 0-5-5 1-5 0-5 1-5 3-5 1 0-1-5 0-5 1-5 0-41-1 0-4-5 0-5-1-1-3-4-1-5-1-1-2-4-2-5-2-10-2-5 0-5-1-5 0-15 1-5 2-5 1-4 1-1 0-10 1-5-1-5 0-5-1-5 0-5-1-5 0-10 1-5 0-2 1-3 1-6 1-5 2-3 1-2 0-20-1-1-3-4-1-5-1-2-2-3-5-5-3-1-4-4-1 0-4-5-1 0-5-1-4-4-1 0-10-10 0-1-3-4-1-5-1-2-2-3-2-5 0-5-5-5 4-3 5 1 7 7 3 1 5 2 10 2 5-1 1 1-1 2-1 3 1 5 0 1 3 4 2 2 4 3 1 1 5 1 5 2 10 0 5-2 6-1 1-1 4-3 2-2 3-4 0-9-1-2-4-5 0-1-5-3-4-1-2-1-5-1-5 0-4-3 0-5-1-3-1-2-4-5-5-3-5-2-2 0-3-1-10 0-3 1-2 0-5 2-5-2-5-1-5 0-2 1-3 1-5-1-5-4-2-1-3-1-5-4 0-1-5-4 0-11-2-5-3-5-10 0-5 5-1 5-4 5-3 6-2 3-1 2-3 5-1 2-2 3-2 5-1 3-1 2-3 5-1 3-1 2 0 5-1 5-2 5-1 4-1 1 0 25 1 0 3 5 1 5 1 1 1 4 1 5-1 5 0 5-1 5 0 6-5 4-6 2-5 3-5 4-5 1-5 4-5 1-5 5-6 0-4 4-5 1-5 0 0 1-5 4-5 0-5 5 0 1 5 5 5 0 5 5 5 3 2 2 2 5 1 5 0 3 1 2 0 5-1 1 0 4-3 5-2 3 0 2-1 5-4 5 0 5-1 5 1 4 1 1 2 10 0 5-2 5-1 1-3 4-2 4-1 1-2 5-1 5 0 5-1 5 0 1-2 4-3 2-5 0 0 3-1 6 1 0 4 5 10 10 1 0 4 5 1 0 10 10 5 3 2 2 1 5 2 5 0 10 4 5 1 5 0 2 3 3 0 5-1 5 3 5 4 5 1 5-10 10-1 5-4 4 0 6-1 5-4 4 0 8 4 3 0 5-1 6-3 3-5-2-5 3 0 6-2 5-3 2 0 3-1 5-4 4 0 6-1 5-4 3 0 7-3 15-2 2 0 7 1 1 2 5 2 10 0 9 5 1 3 5 0 10-1 5 0 15-1 5-1 4-1 1-4 2-5 2-2 1-3 2 0 4-1 5-4 3 0 2-1 5-2 5-2 2-1 3 0 5-4 4 0 1-1 5-4 4 0 1-1 5-4 5-1 5 1 4 0 1 4 5 20 20 1 2 3 3 0 10 1 5 0 5 1 5 0 2 1 3 2 5 0 15-2 6 2 5 1 5 0 15zM540 574l-4-5-1-5 1-5 4-5 5-3 5-1 5 1 5 2 2 1 3 4 1 1 1 5-1 5-1 1-3 4-2 1-5 2-5 1-5-1-5-3zM550 793l-2-3 1-5 1-3 2 3 2 5-4 3zM555 807l-2-1 1-5 1-6 0-2 1 2 1 6 1 5-3 1zM560 821l0-1 0 1zM596 174l-1-3 1-1 3 1-3 3zM626 123l-5-2-4-5-1-5 1-5 4-5 5-2 5 1 3 1 2 1 2 4 2 5-2 5-2 4-2 1-3 1-5 1zM442 816l3 3 5 2 5-1 5-4 1-5 0-5-1-2-5-5-5 0-5 1-1 1-3 5-1 5 2 5zM721 801l5 2 5 1 11 0 5-1 5-2 0-1 2-5-2-5-5-2-5-1-11 0-5 1-5 2-2 5 2 5 0 1zM781 785l1 1 5 2 5 0 5-1 4-2 1 0 3-5-2-5-1-1-5-3-5-1-5 1-5 2-4 2-1 5 4 5zM756 740l1 0 5 2 5 1 5 0 5-1 5-2 4-5 0-5-4-4-3-1-2-1-5-1-5 0-5 1-4 1-1 1-5 4-1 0 0 5 5 5zM766 685l6 0 5 1 5-1 5 0 5-2 5-3-4-5-1-1-10-2-10 0-10 2-2 1-3 5 5 3 4 2zM478 614l2 2 5 1 2-3-2-2-5 0-2 2zM764 604l3 0 0-20-2 0-2 10 1 5 0 5zM488 448l2 2 5 3 5 0 5-4 1-1 2-5-1-5-2-5-5-3-5-1-5 3-1 1-3 5 0 5 2 5zM817 428l5 3 5 2 5 0 5-1 5-2 3-2-3-4-1-1-2-5 2-5-2-5-2-1-5-2-5-1-5 1-5 2-1 1-3 5 3 5 1 2 4 3-4 5zM433 292l2 1 5 1 5 0 5-1 2-1 3-2 3-3 2-3 0-8-3-4-2-2-5-3-1 0-4-1-5 0-4 1-1 1-6 3-1 1-3 5 0 5 2 5 2 3 4 2zM469 277l1 1 5 1 1-2-1-4-5 2-1 2zM455 257l3-5-3-5-4 5 4 5zM487 232l3 2 5 1 3-3-3-3-5 0-3 3zM761 212l1 1 5 3 5-3 0-1 4-10 1-2 0-3 1-5 0-6 1-5-1-5 0-5-1-5 0-3-1-2-4-10 0-1-5-3-5 3-1 1-4 10 0 2-1 3-1 5 0 21 1 5 1 3 0 2 4 10zM485 91l5 2 5 1 5 0 5-1 4-2 1-3 1-2-6-6-5-1-5 0-5 1-2 1-5 5 2 5zM832 91l5 3 5 2 5 0 5-1 5-3 2-1-1-5-1-1-5-2-5-1-5 0-5 2-4 2-1 2 0 3zM678 35l3 2 10 0 4-2 5-5-1-5-3-2-4-3-12 0-4 3-3 2 0 5 3 4 2 1z"/>
<path fill="#0029ff" d="M569 821l1 4 0 1 33 0 0-5 2-5 1-1 5-2 5 0 5 1 10 0 5-2 1-1 4-3 3-2 2-1 5-4 0-1 5-3 3-2 2-1 5-5 3-4 2-2 2-3 5-5 3-4 1-1 6-15 3-4 1-1 4-1 5 0 5-3 3-1 2-3 1-2 4-10 0-1 4-4 1-5 3-5 2-3 2-2 2-5 1-3 2-2 3-5 0-2 1-3 1-5 0-5 1-5-1-5 0-5-1-5 0-5-1-1 0-4-2-6 0-5 2-5 0-10-2-10-2-5-1 0 0-5-2-5-1-5 0-5 1-5 0-5-2-10-1-1-2-4-3-4 0-1-1-5 1-5 2-5 2-10-3-15-1-2-1-3-3-5-1-1-2-4-3-3-1-2-4-3-2-2-2-6 0-5 2-10-3-15 2-10 2-5 1-3 1-2 2-5 2-4 1-1 3-5-1-5-2-5 2-5 0-5 1-5 0-5-2-5 3-15 0-31 2-10 0-10-1-5-1-1 0-4-4-10-1-2 0-3-1-5-2-5-1-5-1-3 0-15 1-2 2-10 0-5-3-4 0-1-3-5 1-5 2-4 1-1 4-10 1 0 1-5 0-10 1-5 2-5 0-4 1-2-1-2 0-3-2-5-1-5 1-5-1-5-2-5-3-5-2-3-1-2-3-5-1 0-5-4-1-1-4-1-5-2-5 3 0 1-1 4-1 5 0 5-1 5-2 2-5 1-5 0-4-3-1 0-5-5-3-5-2-4 0-1-2-10 2-10 0-2 1-3 5-5 0-5-1-2-1-3-4-5-5-3-2-2-6-10-1-5-1-4 0-1-4-10-1-2-4-3-1-2-2 2-3 1-3 4-1 5-1 1-3 4-2 1-3 4-10 10-2 4-1 1-2 5 0 10 2 5 1 1 2 4 3 3 1 2 4 5 2 5 3 4 0 1 1 5-1 5 0 10 4 10 1 4 0 3-2 3-2 5-1 2-3 3-2 3-3 3-2 1-5 1-5-1-2-1-3-4-1-2-5-3-1-2-4-2-5 2-2 0-3 1-10 4-5 4-1 2-5 5 0 5 1 1 3 4 2 3 1 2 2 5-2 10 1 5 0 5-1 5 1 5 2 5 1 5 0 2 1 3 0 5 3 15 0 5-2 5-2 3-2 2-3 4-1 1-2 5-1 5 0 5 1 5 0 5-2 10-1 6 2 10 3 5 1 2 2 3 3 3 4 2 1 1 5 3 1 1 1 5 0 30 2 5 1 5 0 1 1 4 0 10-1 4 0 6-4 5-4 20 0 5 1 5 0 5 2 5 0 2 1 4 1 5-1 5-1 4 0 1-2 10 0 15-2 10 0 5 4 3 2 2 3 5 0 1 1 4-1 4 0 1-3 5-2 2-4 3-1 1-5 4-2 0 2 5-3 5-2 2-4 3-1 1-2 4-2 10 0 15 2 5-2 10-1 3-2 3-5 5-3 2-4 3-1 1-3 4-2 10-3 5-1 5-1 3-1 2-4 5-3 5-2 3-2 2-3 4-2 1 2 1 5 2 4 2 1 0 5 3 5 2 5 3 10 4 5 3 2 0 3 3 3 2 2 5-5 5-5 2-5 3-1 0 1 2 2 3 3 4 5 5 3 1 2 2 5 3 0 1 4 4 1 3 1 2 2 5 2 10 0 2 1 4 0 5 3 15zM591 786l-2-1-3-3-1-2 1-2 5-1 1 3-1 5 0 1zM626 127l-3-1-2-1-5-4-1 0-2-5-1-5 1-5 2-5 1 0 5-4 2-1 3-1 5 0 1 1 4 1 5 5 3 4 1 5-1 5-3 4-5 5-4 1-1 1-5 0zM448 816l5 0 2-1 2-4-1-5-1-2-5-1-5 3 0 1-1 4 1 1 3 4zM731 801l11 0 5-4 1-2-1-1-5-4-11 0-5 4-1 1 1 2 5 4zM782 780l5 4 5 1 5-2 2-3-2-5-5-1-5 1-2 0-3 5zM758 735l4 2 5 2 5 0 5-2 2-2 0-5-2-1-5-2-5 0-5 2-3 1-1 5zM767 680l5 1 10 0 4-1-4-3-5-1-5 1-5 3zM495 448l5 0 3-5 0-5-3-3-5-1-4 4-1 5 5 5zM825 428l2 1 5 0 5-1 1 0-1 0-5-3-5 1-2 2zM823 418l4 1 4-1 5-5-5-5-4-1-4 1-5 5 5 5zM434 287l1 1 10 2 5-2 5-5 0-6-5-5-5-1-5 0-5 1-4 5-1 5 4 5zM763 197l4 4 3-4 2-3 0-2 1-6 0-10-1-5 0-2-2-3-3-4-4 4-1 3-1 2-1 5 0 10 1 6 1 2 1 3zM716 106l5 2 10 0 5-2 1 0 5-5 1-5-1-3-2-2-4-3-5-2-10 0-5 2-5 5-1 3 1 5 5 5zM492 91l3 1 5-1 2 0 3-4 1-1-1-1-5-2-5-1-5 3-2 1 2 3 2 2zM840 91l2 1 5 0 3-1-2-5-6 0-2 5zM685 81l1 1 10 2 10-2 2-1 3-4 1-1 0-5-1-2-2-3-3-2-5-2-5-1-5 1-5 2-3 2-2 3-2-3-3-2-5-3-5 1-4 4 3 5 1 1 5 0 5-1 4 5 5 5zM678 30l3 2 5 2 5-2 3-2-1-5-2-1-5-1-5 1-2 1-1 5z"/>
<path fill="#0067ff" d="M577 826l19 0 0-6-1-4-4-10-2 0-3-3-6 0-3 3-2 5 1 5 0 5 1 5zM614 801l2 0 5 1 5 0 5-1 5-4 4-2 1 0 10-4 0-1 5-3 1-2 10-10 0-5 5-5 4-5 2-10 3-1 5-3 2-1 3-5 5-4 2-1 3-2 5-5 2-3 3-5 4-10 1-5 0-5-2-5-3-2-5-2-3-1-1-5 4-5 1 0 4-3 5-1 5 1 3-2 2-5 0-5-1-5 0-5 1-5 0-3 1-3 2-10 0-15-2-5-1-2-2-3-3-3-1-2-3-5-1-2 0-3-2-5-1-5-2-2-1-3-2-5-2-4 0-17 2-4 2-5 1-5 0-2 1-3 0-5-1-2-1-3-1-5-2-5-1-1-3-4-2-2-1-3-3-5-1-2-1-3 1-6 0-15-1-5 0-15 1-5 0-2 1-3 1-5 2-5 1-5 3-5 1-5 0-15-1-5 0-10 2-10 1 0 1-5 0-10-2-10 1-5 0-5 1-6 1-5 2-5 0-1 1-4 0-10-1-1-2-4-2-5-1-2-1-3-4-20 0-20-1-5-3-5-1-2-2-3-3-5 1-5 4-5 0-1 5-4 0-1 5-4 0-1 3-4 2-4 1-1 0-5 2-10 0-6-1-5-2-2-2-3-3-2-5-1-3-2 3-2 3-3-3-2-4-3-1-5-1 5-2 5-1 5-1 1-5 2-5 1-15 0-5 1-3 0-2 1-10 0-2-1-2-5 3-5 1-1 1-4 0-5-1-2-1-3-3-5-1-2-2-3-2-5 0-5-1 0-5-1-5 1-2 0 2 3 1 2-1 5 0 1-2 4-2 5 0 5 1 5 2 5 1 1 2 4 1 5-3 3-1 2-4 5-1 0-2 6-2 5 0 1-1 4-3 5-1 1-5 2-5 1-4 1-1 0-5 3-3 2-2 2-4 3-2 1-4 4-1 0-5 5-2 5 1 5 0 10-1 5 0 5-1 5 1 5 0 5 1 5 0 5-1 5-2 5-1 2-2 3-3 4-1 1-1 5 0 5 2 10 2 5 1 5 2 5 1 1 3 5 1 2 2 3 2 5 0 10-1 5 0 10-1 5 0 15 1 5 0 5 3 15-1 5 0 10-3 5-2 4 0 1-1 5 0 20 1 5 0 3 1 2 0 6 1 5 0 5-1 5-1 4 0 1-1 5 0 5-1 5 0 5-2 10 0 5 5 5 2 5 1 5-1 5-2 5-5 5-1 2-2 3-2 5-1 1 0 4-2 5-1 5-2 5-5 5-1 5 0 20-1 5 0 6-1 5 0 5-2 3-1 2-4 3-5 5-1 2-2 5-2 3-1 2-2 5-2 3-1 2-3 5-1 2-1 3 1 5 5 4 2 1 3 2 5 2 4 1 1 0 5 3 4 2 1 1 5 3 4 1 1 1 10 0 10 2 5 2 1 0 5 4 1 1 3 5-3 5 1 5 2 5 1 2 1 3 3 5 1 0 3 5 2 3 1 2 2 5 0 5 1 5 1 2 3 4zM631 756l-2-1-3-2-1-3-2-5 3-1 5 1 1 0 4 5 1 0-1 4-1 1-4 1zM560 202l5 1 5-1 1 0 4-5 0-5-3-6-8 0-4 4-1 2-4 4 0 2 5 4zM603 106l3 3 3-3 2-3 1-2 4-5 5-3 5-1 5 0 3-1-3-4-1-1-4-3-10 0-5 1-1 2-2 5-1 5-5 5 1 5z"/>
<path fill="#00a9ff" d="M657 745l4 1 5 0 3-1 2-1 5-4 3-5 2-3 7-7 3-5 0-5-5-5-5-4-1-1-3-5-1-5 1-5 3-5 1-1 5-4 0-1 5-3 2-1 3-3 4-2 1-2 4-3 1-3 1-2 4-10 0-1 3-5 2-5 0-2 3-3 2-3 1-2 0-5-1-1-3-4-2-1-1-4-1-5-3-5-1-5 0-5-1-5-3-4-1-1-1-5-2-5-1-4 0-19 1-2 0-5-2-10-2-5-1-5-1-3 0-2-1-5 0-5-2-5-2-10 1-6 0-35 1-5 0-5 3-15 0-3 1-2 1-5 0-5 1-5-1-5 0-5-1-5 2-10 2-5 0-5 1-5-1-5 0-5-1-5 1-5 0-5 1-6 4-20-1-5-2-5-2-3 0-2-2-5-1-5 0-5-1-5 0-5-1-5 0-5-1-5 0-5-2-5-2-3-2-2-3-4-5-5-2-1 1-5 1-1 3-4 2-3 3-2 2-3 4-2 1-2 4-3 1-2 3-3 2-3 2-2 2-5 1-5 0-2 1-4-1 0-3-5-2-1-5-2-5 1-4 2-1 1-5 1-10 0-5-1-5 1-5 0-15 3-8 0-2 1-5 3-2 2-2 5-3 15-3 5-5 4-2 1-3 1-10 2-3 2-2 1-5 5-3 4-1 5-1 3-1 2-1 5 0 5-2 5-2 4 0 1-2 5-1 5 0 15-1 5-1 1-1 4-3 5-2 10 0 5 1 5 0 3 1 2 1 5 2 6 1 2 1 3 2 5 0 15-2 10 0 35 3 15 0 20-2 10 0 5-1 5 0 10-1 5 0 6 1 5 0 10-1 0 0 5-2 10 0 5-1 5 0 5-1 5-1 3 0 7 4 5 1 3 1 2 1 5-1 5-1 2-1 3-4 5-2 5-3 4-1 1 0 5-2 10-2 5-4 20 0 10-1 5 2 6 1 5 2 5 3 5 2 3 1 2 4 5 0 1 3 4 2 4 1 1 0 15-1 0-5 4-5-1-10-6-5-2-5 0-5 4 0 1-1 5 5 5 1 0 10 4 1 1 4 2 5 2 2 1 3 1 5 1 5 3 6 2 5 3 10 4 2 1 3 1 5 0 4-1 1 0 5-1 5 0 5 1 1 0 4 2 5 2 1 1 4 2 5 2 5 1 1 0z"/>
<path fill="#00eaff" d="M652 735l4 1 5 0 2-1 3-2 3-3 2-3 1-2-1-2-5-5-4-3-1-3-1-2 1-5 0-5 2-10 2-5 1-2 2-3 3-3 3-2 2-2 5-3 1 0 4-3 3-2 5-5 2-10 1 0 4-8 3-3 2-1 5-5 2-4 0-5-1-5-1-1-1-4-2-5-1-5 0-5-1-5 0-2-1-3-4-3-1-2-3-15 0-25-1-4 0-1-2-5-3-15 0-5-3-15 0-11 1-5 0-15-1-5 1-5 0-10 1-5 0-5 1-5 0-2 1-3 0-5 1-5 0-5 1-5-1-5 0-10 3-15 0-3 1-2 0-10-1-4 0-12 1-4 0-6 2-10 0-10-1-5-2-5-1-5-2-5-1-5 0-10-1-5 0-5-4-20-1-1-5-4-5-3-4-2-1-1-10-4-4-10-6-6-5-4 0-1-5-3-5 3 0 1-4 5-1 0-4 5-5 5-1 2-3 3-2 1-5 4-5 2-4 3-5 5 0 5-1 4-1 1-2 5-2 4-1 1-3 5-1 4-1 1-4 20-1 1-1 4-2 10 0 15 1 5 2 6 0 2 1 3 1 5 0 10-1 5-1 2 0 3-1 5 0 35 1 5 0 3 1 2 1 5 0 5 1 5 0 10-1 5 0 10-1 5 0 5-1 4 0 17-1 5 0 10-2 10 0 5-1 5-1 2 0 8-1 5 0 5 1 2 2 3 2 5 0 10-2 5-2 2-2 3-1 5-2 4 0 6-1 5 0 5-1 5-2 5-1 3 0 2-4 10 1 5 0 5 1 5 2 4 2 2 3 5 5 5 5 3 4 2 2 0 5 3 1 2 2 5 0 5-1 5 0 5 1 5 2 4 0 1 5 4 1 1 4 2 10 0 10 2 1 1 4 3 3 2 2 5-1 5 1 0 5 4 1 1 4 2 5 3 1 0z"/>
<path fill="#00ffda" d="M639 695l5 0 2-1 3-4 4-10 3-5 0-1 2-4 3-4 2-1 3-5 1 0-1-5 3-5-1-6 3-3 1-2 4-2 5-3 5-2 5-3 0-5 4-10 1-4 0-1 1-5 0-10-1-2 0-3-3-5-1-5 0-5-1-5 0-5 1-5 0-10-6-30 0-10-1-5 0-5-1-5 1-6 0-30 1-5 0-5 1-5 0-10 1-5 0-5 1-5 0-30 2-10 0-2 1-3 0-10-1-5 0-11 1-4 0-26-1-2-1-3-1-5-2-5-1-4 0-1-3-15 0-5-2-10 0-1-1-4-2-5-2-3-2-2-3-1-15-6-10-2-10 0-20 8-3 1-2 2-2 3-3 5 0 1-2 4-3 5 0 1-3 4-2 5-1 0-4 10 0 2-1 3-2 5-2 10 0 6-1 4-1 5 0 5 1 5 0 6 1 2 0 13-4 20 0 15-1 5 0 10 3 15 0 5 1 5 1 3 0 2 1 5 0 10-1 5 0 18-1 2 0 10-1 6 0 10-1 5 0 5-2 10-1 3 0 7-1 5 0 10 1 5 0 2 2 3 0 10-2 2 0 3-2 5 0 25 2 10 0 8 1 2 0 5 10 10 1 0 4 3 5 1 20 0 5 1 5 3 4 3 1 2 0 8-2 5-3 5-5 3-10 2-5 4-1 1-1 5 2 3 3 2 12 0 5 1 5 2 3 2z"/>
<path fill="#00ffa0" d="M625 634l1 1 5 1 5 0 5 1 10 0 5-1 4-2 1 0 10-4 1-1 3-5 1-3 1-2 2-10 0-5 2-10-1-5 1-5 0-6 1-4 2-5 1-5 0-5-1-5 0-10-1-5 0-5-1-5 0-5-1-5 0-10-1-5 0-16 1-5 0-15 1-5 0-10 1-5 0-10 1-5 0-15 1-5 0-30 1-5 0-5-1-5 0-15-1-5 0-11-5-25-2-5-1-3 0-2-2-5-1-5-2-5 0-1-1-4-1-5-2-5-1-4 0-1-3-5-2-3-2-2-3-1-5-2-5-1-10 0-10 4-1 0-5 5-4 5 0 1-2 4-3 5 0 2-2 3-2 5-1 4-1 1-4 10 0 2-1 3-4 10 0 3-1 2-3 15 0 6-1 5 0 2-1 3 0 5-4 20 0 8-1 2 0 25 5 25 1 2 0 57-1 2 0 5-1 5 0 5-2 10 0 10-1 5 0 17-1 3 0 5 1 2 0 3 4 10 0 5 1 2 1 3 0 5 2 10 4 10 3 5 4 5 1 2 4 3 1 1 5 2 5 1 4 1z"/>
<path fill="#00ff66" d="M627 614l4 3 5 2 5 0 5-1 5-3 1-1 3-5 1-1 1-4 2-5 1-5 1-2 1-3 4-10 5-5 3-5 2-3 1-2 1-5-1-5 0-15-1-5 0-20-1-5 0-15 1-6 0-10 1-5 0-10 1-5 0-10 1-5 0-5 1-5 0-10 1-5 0-20-1-5 0-15-1-5 0-5-2-10 0-5-1-5 0-5-2-6-1-5-2-5-1-5-8-20-1-1-2-4-2-5-1-3-1-2-2-5-2-4-1-1-4-5-5-2-5 1-2 1-3 3-1 2-4 5 0 1-2 4-3 5 0 1-2 4-3 5 0 1-3 4-2 3-2 2-2 5-1 3-1 2-4 10 0 2-3 9-2 10 0 1-1 4-1 5-2 5-1 5 0 3-1 2 0 10-1 5 0 5-1 5 0 10 2 10 1 2 0 3 1 5 2 5 2 10 0 25 1 5 0 21-1 5 0 3-1 2 0 5-1 5 0 5-1 5 0 30 1 5 2 4 0 1 4 5 5 5 1 2 1 3 3 5 1 2 1 3 2 5 2 3 1 2 4 5 5 5 1 0z"/>
<path fill="#00ff29" d="M623 574l3 1 10 2 10-2 3-1 2-1 5-3 2-1 3-2 4-3 1-3 1-2 0-10 1-5 0-5 1-5 0-15 1-5 0-20 1-6 0-10 1-5 0-5 1-5 0-10 1-5 0-5 1-5 0-5 1-5 0-5 1-5 0-10-1-5 0-5-1-5 0-5-1-5 0-5-3-15 0-1-1-4-3-15-1-2-1-4-3-5-1-1-2-4-3-4-1-1-4-5-5-4-1-1-4-2-5 0-5 1-3 1-2 1-5 4 0 1-4 4-1 2-2 3-3 5 0 1-3 4-2 6-2 5-1 5-2 5 0 1-2 4-2 10-1 3-1 2 0 5-1 5 0 5-1 5 0 5-1 5 0 5 3 15 1 3 0 2 3 15 0 5 1 5 0 10 1 2 0 13 1 5 0 16-1 5 0 16-1 4 1 2 0 3 4 20 0 5 1 1 2 4 3 2 3 3 2 1 5 3 2 1z"/>
<path fill="#10ff00" d="M623 554l3 1 5 2 5 1 10-2 2-2 3-2 2-3 3-4 0-1 4-10 1-4 0-1 4-20 0-5 1-5 0-5 1-6 0-10 1-5 0-10 1-5 0-5 1-5 0-10 1-5 0-5 1-5 0-15-1-5 0-5-1-5 0-5-1-5 0-5-2-10-1-2-1-3-2-10-2-5 0-2-1-3-3-6-1-1-3-4-5-5-2-1-5-3-3-1-4 0-3 1-5 3-2 1-3 4-2 1-3 5-4 6-1 4-1 1-2 5-1 5-1 2-1 3-2 5-1 5-1 3-1 2 0 5-1 5 0 5-1 5 0 5-1 5 0 10 3 15 0 5 1 1 0 4 1 5 0 10 1 5 0 15 1 5 0 5 1 6 0 5 1 4 0 6 1 5 0 5 1 5 0 5 2 5 1 2 1 3 2 5 2 2 2 3 5 5z"/>
<path fill="#4eff00" d="M624 539l2 1 5 3 5 0 5-1 5-3 4-5 1-2 2-3 2-5 1-2 1-3 3-15 1-3 0-2 1-5 0-6 1-5 0-5 1-5 0-5 1-5 0-5 1-5 0-15 1-5 0-25-1-5 0-5-1-5 0-10-2-10-2-5 0-1-1-4-1-5-2-5-1-3-1-2-2-5-4-6-3-2-3-3-2-1-5-1-5 2-1 0-4 3-3 2-4 6-2 5-1 1-2 4-2 5-1 3-1 2-2 5-1 5-1 2-1 3-1 5 0 5-1 5 0 10-1 5 0 15 1 5 0 10 1 5 0 10 1 5 0 15 1 3 0 7 1 5 0 6 3 15 1 0 1 5 2 5 1 5 1 1 1 4 3 5 1 1 3 4z"/>
<path fill="#8dff00" d="M631 529l5 1 5-1 5-5 0-1 3-4 6-15 1-4 0-1 1-5 1-6 1-5 0-5 2-10 0-5 1-5 0-5 1-5 0-10 1-5 0-20-2-10 0-5-1-5 0-5-1-5 0-5-2-5-1-5-1-2-1-3-4-10-3-5-2-3-5-5-5-2-5 2-3 3-2 1-3 4-2 4-1 1-2 5-2 4-1 1-4 10 0 2-2 3 0 5-1 5 0 5-1 5 0 5-1 5 0 40 1 5 0 10 1 5 0 5 1 5 0 5 1 5 0 6 1 3 0 2 3 5 2 4 0 1 3 5 2 3 1 2 3 5 1 0 5 5z"/>
<path fill="#d0ff00" d="M629 514l2 2 5 1 5-3 4-5 1-2 2-3 2-5 1-2 2-3 1-6 2-10 0-2 1-3 0-5 3-15 0-5 1-5 0-25-1-5 0-5-1-5 0-5-3-15 0-5-2-5-1-5-2-4-1-1-2-5-2-3-1-2-4-5-1 0-4-2-4 2-1 0-5 5-3 5-2 4-1 1-6 15-2 10 0 5-1 5 0 2-1 3-2 10 0 30 1 5 0 5 2 10 0 5 1 5 0 5 2 10 1 6 1 2 1 3 3 5 1 1 3 4 5 5z"/>
<path fill="#ffe900" d="M629 504l2 1 5 0 2-1 3-2 2-3 3-3 1-2 2-6 2-5 4-20 1-4 0-1 2-10 0-40-6-30-1-4-1-1-1-5-3-5 0-1-4-4-1-3-5-2 0-1 0 1-5 2-3 3-2 3-1 2-3 5-1 3-1 2-2 5-2 10 0 2-1 3-4 20 0 35 4 20 1 3 0 2 1 5 2 5 1 5 1 4 0 2 3 5 5 5z"/>
<path fill="#ff9800" d="M634 494l4 0 3-2 2-4 3-5 2-5 1-5 2-5 5-25 0-30-4-20-1-4 0-1-2-5-1-5-2-5 0-1-2-4-3-5-5-3-5 3-4 5-1 3-1 2-4 10 0 1-1 4-2 5-1 5-1 4 0 1-2 5-1 5 0 30 2 10 1 2 1 3 1 5 2 5 1 4 0 1 2 5 3 5 0 1 2 4 3 4 3 2z"/>
<path fill="#ff5100" d="M632 483l4 3 4-3 1-1 2-4 2-5 1-1 1-4 2-5 1-5 1-2 1-3 2-10 0-30-2-10-1-4 0-1-2-5-1-5-2-5 0-1-2-4-2-5-1-3-3-2-2-2-2 2-3 2-2 3-2 5-1 1-2 4-2 5-1 4-1 1-2 10-2 5 0 2-1 3 0 30 1 2 1 3 2 10 2 4 0 1 2 5 3 5 0 1 2 4 3 5 1 0z"/>
<path fill="#ff0900" d="M635 478l1 1 0-1 5-4 0-1 3-5 2-4 0-1 1-5 2-5 1-5 1-4 0-1 1-5 0-25-1-4-1-1-3-15-1-3-1-2-4-10-1 0-4-5-5 4 0 1-4 5-1 2-2 3-1 5-4 10-2 10 0 25 3 15 1 1 1 4 2 5 2 4 1 1 3 5 1 2 4 3z"/>
<path fill="#ff0000" d="M634 468l2 1 5-5 0-1 4-10 1-2 0-3 2-10 0-25-2-10 0-2-1-3-4-10 0-1-5-5-4 1-1 0-2 5-3 4 0 1-4 10-1 4 0 1-1 5 0 25 1 5 0 1 1 4 4 10 3 5 2 4 3 1z"/>
<path fill="none" stroke="#000" stroke-width="3.8" d="M560 821l0-1 0 1M658 826l2-5 1-1 5-3 5-1 5-3 1-2 3-5 1-2 3-9 2-3 1-2 4-5 5-5 3-5 2-2 1-3 4-5 5-5 2-5 3-3 1-2 5-5 2-5 2-3 1-2 4-5 1 0 2-5 2-3 1-2 5-5 1-5 3-5 1-1 0-9 3-5 1-5 0-5 1-3 0-32-1-1-1-5 2-1 0-4 2-5 3-3 0-7 5-4 0-8-5-2-1-1 0-5-2-10 2-5-8-20-1-2-2-3-3-5 0-1-2-4-1-5 2-10 1-3 1-2 2-5-3-5 0-1-5-4-5-5-1-3-2-2-2-5-1-3-3-2-1-6-1 0-4-5 4-3 5-1 10-10 3-1 3-2 5-3 5-5 2-5 0-5-2-5 0-5-5-5 0-10-5 0-5-5-6 0-5-5 1-5 0-5 1-5 3-5 1 0-1-5 0-5 1-5 0-41-1 0-4-5 0-5-1-1-3-4-1-5-1-1-2-4-2-5-2-10-2-5 0-5-1-5 0-15 1-5 2-5 1-4 1-1 0-10 1-5-1-5 0-5-1-5 0-5-1-5 0-10 1-5 0-2 1-3 1-6 1-5 2-3 1-2 0-20-1-1-3-4-1-5-1-2-2-3-5-5-3-1-4-4-1 0-4-5-1 0-5-1-4-4-1 0-10-10 0-1-3-4-1-5-1-2-2-3-2-5 0-5-5-5 4-3 5 1 7 7 3 1 5 2 10 2 5-1 1 1-1 2-1 3 1 5 0 1 3 4 2 2 4 3 1 1 5 1 5 2 10 0 5-2 6-1 1-1 4-3 2-2 3-4 0-9-1-2-4-5 0-1-5-3-4-1-2-1-5-1-5 0-4-3 0-5-1-3-1-2-4-5-5-3-5-2-2 0-3-1-10 0-3 1-2 0-5 2-5-2-5-1-5 0-2 1-3 1-5-1-5-4-2-1-3-1-5-4 0-1-5-4 0-11-2-5-3-5M442 816l3 3 5 2 5-1 5-4 1-5 0-5-1-2-5-5-5 0-5 1-1 1-3 5-1 5 2 5M555 807l-2-1 1-5 1-6 0-2 1 2 1 6 1 5-3 1M721 801l5 2 5 1 11 0 5-1 5-2 0-1 2-5-2-5-5-2-5-1-11 0-5 1-5 2-2 5 2 5 0 1M550 793l-2-3 1-5 1-3 2 3 2 5-4 3M781 785l1 1 5 2 5 0 5-1 4-2 1 0 3-5-2-5-1-1-5-3-5-1-5 1-5 2-4 2-1 5 4 5M756 740l1 0 5 2 5 1 5 0 5-1 5-2 4-5 0-5-4-4-3-1-2-1-5-1-5 0-5 1-4 1-1 1-5 4-1 0 0 5 5 5M766 685l6 0 5 1 5-1 5 0 5-2 5-3-4-5-1-1-10-2-10 0-10 2-2 1-3 5 5 3 4 2M478 614l2 2 5 1 2-3-2-2-5 0-2 2M764 604l3 0 0-20-2 0-2 10 1 5 0 5M540 574l-4-5-1-5 1-5 4-5 5-3 5-1 5 1 5 2 2 1 3 4 1 1 1 5-1 5-1 1-3 4-2 1-5 2-5 1-5-1-5-3M488 448l2 2 5 3 5 0 5-4 1-1 2-5-1-5-2-5-5-3-5-1-5 3-1 1-3 5 0 5 2 5M817 428l5 3 5 2 5 0 5-1 5-2 3-2-3-4-1-1-2-5 2-5-2-5-2-1-5-2-5-1-5 1-5 2-1 1-3 5 3 5 1 2 4 3-4 5M433 292l2 1 5 1 5 0 5-1 2-1 3-2 3-3 2-3 0-8-3-4-2-2-5-3-1 0-4-1-5 0-4 1-1 1-6 3-1 1-3 5 0 5 2 5 2 3 4 2M469 277l1 1 5 1 1-2-1-4-5 2-1 2M455 257l3-5-3-5-4 5 4 5M487 232l3 2 5 1 3-3-3-3-5 0-3 3M761 212l1 1 5 3 5-3 0-1 4-10 1-2 0-3 1-5 0-6 1-5-1-5 0-5-1-5 0-3-1-2-4-10 0-1-5-3-5 3-1 1-4 10 0 2-1 3-1 5 0 21 1 5 1 3 0 2 4 10M596 174l-1-3 1-1 3 1-3 3M626 123l-5-2-4-5-1-5 1-5 4-5 5-2 5 1 3 1 2 1 2 4 2 5-2 5-2 4-2 1-3 1-5 1M485 91l5 2 5 1 5 0 5-1 4-2 1-3 1-2-6-6-5-1-5 0-5 1-2 1-5 5 2 5M832 91l5 3 5 2 5 0 5-1 5-3 2-1-1-5-1-1-5-2-5-1-5 0-5 2-4 2-1 2 0 3M621 20l-5 5-1 5-4 5-3 6-2 3-1 2-3 5-1 2-2 3-2 5-1 3-1 2-3 5-1 3-1 2 0 5-1 5-2 5-1 4-1 1 0 25 1 0 3 5 1 5 1 1 1 4 1 5-1 5 0 5-1 5 0 6-5 4-6 2-5 3-5 4-5 1-5 4-5 1-5 5-6 0-4 4-5 1-5 0 0 1-5 4-5 0-5 5 0 1 5 5 5 0 5 5 5 3 2 2 2 5 1 5 0 3 1 2 0 5-1 1 0 4-3 5-2 3 0 2-1 5-4 5 0 5-1 5 1 4 1 1 2 10 0 5-2 5-1 1-3 4-2 4-1 1-2 5-1 5 0 5-1 5 0 1-2 4-3 2-5 0 0 3-1 6 1 0 4 5 10 10 1 0 4 5 1 0 10 10 5 3 2 2 1 5 2 5 0 10 4 5 1 5 0 2 3 3 0 5-1 5 3 5 4 5 1 5-10 10-1 5-4 4 0 6-1 5-4 4 0 8 4 3 0 5-1 6-3 3-5-2-5 3 0 6-2 5-3 2 0 3-1 5-4 4 0 6-1 5-4 3 0 7-3 15-2 2 0 7 1 1 2 5 2 10 0 9 5 1 3 5 0 10-1 5 0 15-1 5-1 4-1 1-4 2-5 2-2 1-3 2 0 4-1 5-4 3 0 2-1 5-2 5-2 2-1 3 0 5-4 4 0 1-1 5-4 4 0 1-1 5-4 5-1 5 1 4 0 1 4 5 20 20 1 2 3 3 0 10 1 5 0 5 1 5 0 2 1 3 2 5 0 15-2 6 2 5 1 5 0 15M680 20l-4 3-3 2 0 5 3 4 2 1 3 2 10 0 4-2 5-5-1-5-3-2-4-3M596 826l0-6-1-4-4-10-2 0-3-3-6 0-3 3-2 5 1 5 0 5 1 5M614 801l2 0 5 1 5 0 5-1 5-4 4-2 1 0 10-4 0-1 5-3 1-2 10-10 0-5 5-5 4-5 2-10 3-1 5-3 2-1 3-5 5-4 2-1 3-2 5-5 2-3 3-5 4-10 1-5 0-5-2-5-3-2-5-2-3-1-1-5 4-5 1 0 4-3 5-1 5 1 3-2 2-5 0-5-1-5 0-5 1-5 0-3 1-3 2-10 0-15-2-5-1-2-2-3-3-3-1-2-3-5-1-2 0-3-2-5-1-5-2-2-1-3-2-5-2-4 0-17 2-4 2-5 1-5 0-2 1-3 0-5-1-2-1-3-1-5-2-5-1-1-3-4-2-2-1-3-3-5-1-2-1-3 1-6 0-15-1-5 0-15 1-5 0-2 1-3 1-5 2-5 1-5 3-5 1-5 0-15-1-5 0-10 2-10 1 0 1-5 0-10-2-10 1-5 0-5 1-6 1-5 2-5 0-1 1-4 0-10-1-1-2-4-2-5-1-2-1-3-4-20 0-20-1-5-3-5-1-2-2-3-3-5 1-5 4-5 0-1 5-4 0-1 5-4 0-1 3-4 2-4 1-1 0-5 2-10 0-6-1-5-2-2-2-3-3-2-5-1-3-2 3-2 3-3-3-2-4-3-1-5-1 5-2 5-1 5-1 1-5 2-5 1-15 0-5 1-3 0-2 1-10 0-2-1-2-5 3-5 1-1 1-4 0-5-1-2-1-3-3-5-1-2-2-3-2-5 0-5-1 0-5-1-5 1-2 0 2 3 1 2-1 5 0 1-2 4-2 5 0 5 1 5 2 5 1 1 2 4 1 5-3 3-1 2-4 5-1 0-2 6-2 5 0 1-1 4-3 5-1 1-5 2-5 1-4 1-1 0-5 3-3 2-2 2-4 3-2 1-4 4-1 0-5 5-2 5 1 5 0 10-1 5 0 5-1 5 1 5 0 5 1 5 0 5-1 5-2 5-1 2-2 3-3 4-1 1-1 5 0 5 2 10 2 5 1 5 2 5 1 1 3 5 1 2 2 3 2 5 0 10-1 5 0 10-1 5 0 15 1 5 0 5 3 15-1 5 0 10-3 5-2 4 0 1-1 5 0 20 1 5 0 3 1 2 0 6 1 5 0 5-1 5-1 4 0 1-1 5 0 5-1 5 0 5-2 10 0 5 5 5 2 5 1 5-1 5-2 5-5 5-1 2-2 3-2 5-1 1 0 4-2 5-1 5-2 5-5 5-1 5 0 20-1 5 0 6-1 5 0 5-2 3-1 2-4 3-5 5-1 2-2 5-2 3-1 2-2 5-2 3-1 2-3 5-1 2-1 3 1 5 5 4 2 1 3 2 5 2 4 1 1 0 5 3 4 2 1 1 5 3 4 1 1 1 10 0 10 2 5 2 1 0 5 4 1 1 3 5-3 5 1 5 2 5 1 2 1 3 3 5 1 0 3 5 2 3 1 2 2 5 0 5 1 5 1 2 3 4M631 756l-2-1-3-2-1-3-2-5 3-1 5 1 1 0 4 5 1 0-1 4-1 1-4 1M560 202l5 1 5-1 1 0 4-5 0-5-3-6-8 0-4 4-1 2-4 4 0 2 5 4M603 106l3 3 3-3 2-3 1-2 4-5 5-3 5-1 5 0 3-1-3-4-1-1-4-3-10 0-5 1-1 2-2 5-1 5-5 5 1 5M639 695l5 0 2-1 3-4 4-10 3-5 0-1 2-4 3-4 2-1 3-5 1 0-1-5 3-5-1-6 3-3 1-2 4-2 5-3 5-2 5-3 0-5 4-10 1-4 0-1 1-5 0-10-1-2 0-3-3-5-1-5 0-5-1-5 0-5 1-5 0-10-6-30 0-10-1-5 0-5-1-5 1-6 0-30 1-5 0-5 1-5 0-10 1-5 0-5 1-5 0-30 2-10 0-2 1-3 0-10-1-5 0-11 1-4 0-26-1-2-1-3-1-5-2-5-1-4 0-1-3-15 0-5-2-10 0-1-1-4-2-5-2-3-2-2-3-1-15-6-10-2-10 0-20 8-3 1-2 2-2 3-3 5 0 1-2 4-3 5 0 1-3 4-2 5-1 0-4 10 0 2-1 3-2 5-2 10 0 6-1 4-1 5 0 5 1 5 0 6 1 2 0 13-4 20 0 15-1 5 0 10 3 15 0 5 1 5 1 3 0 2 1 5 0 10-1 5 0 18-1 2 0 10-1 6 0 10-1 5 0 5-2 10-1 3 0 7-1 5 0 10 1 5 0 2 2 3 0 10-2 2 0 3-2 5 0 25 2 10 0 8 1 2 0 5 10 10 1 0 4 3 5 1 20 0 5 1 5 3 4 3 1 2 0 8-2 5-3 5-5 3-10 2-5 4-1 1-1 5 2 3 3 2 12 0 5 1 5 2 3 2M623 574l3 1 10 2 10-2 3-1 2-1 5-3 2-1 3-2 4-3 1-3 1-2 0-10 1-5 0-5 1-5 0-15 1-5 0-20 1-6 0-10 1-5 0-5 1-5 0-10 1-5 0-5 1-5 0-5 1-5 0-5 1-5 0-10-1-5 0-5-1-5 0-5-1-5 0-5-3-15 0-1-1-4-3-15-1-2-1-4-3-5-1-1-2-4-3-4-1-1-4-5-5-4-1-1-4-2-5 0-5 1-3 1-2 1-5 4 0 1-4 4-1 2-2 3-3 5 0 1-3 4-2 6-2 5-1 5-2 5 0 1-2 4-2 10-1 3-1 2 0 5-1 5 0 5-1 5 0 5-1 5 0 5 3 15 1 3 0 2 3 15 0 5 1 5 0 10 1 2 0 13 1 5 0 16-1 5 0 16-1 4 1 2 0 3 4 20 0 5 1 1 2 4 3 2 3 3 2 1 5 3 2 1M631 529l5 1 5-1 5-5 0-1 3-4 6-15 1-4 0-1 1-5 1-6 1-5 0-5 2-10 0-5 1-5 0-5 1-5 0-10 1-5 0-20-2-10 0-5-1-5 0-5-1-5 0-5-2-5-1-5-1-2-1-3-4-10-3-5-2-3-5-5-5-2-5 2-3 3-2 1-3 4-2 4-1 1-2 5-2 4-1 1-4 10 0 2-2 3 0 5-1 5 0 5-1 5 0 5-1 5 0 40 1 5 0 10 1 5 0 5 1 5 0 5 1 5 0 6 1 3 0 2 3 5 2 4 0 1 3 5 2 3 1 2 3 5 1 0 5 5M634 494l4 0 3-2 2-4 3-5 2-5 1-5 2-5 5-25 0-30-4-20-1-4 0-1-2-5-1-5-2-5 0-1-2-4-3-5-5-3-5 3-4 5-1 3-1 2-4 10 0 1-1 4-2 5-1 5-1 4 0 1-2 5-1 5 0 30 2 10 1 2 1 3 1 5 2 5 1 4 0 1 2 5 3 5 0 1 2 4 3 4 3 2M634 468l2 1 5-5 0-1 4-10 1-2 0-3 2-10 0-25-2-10 0-2-1-3-4-10 0-1-5-5-4 1-1 0-2 5-3 4 0 1-4 10-1 4 0 1-1 5 0 25 1 5 0 1 1 4 4 10 3 5 2 4 3 1"/>
</g>
<g fill="#000"><circle cx="128.8" cy="10.1" r="1"/><circle cx="146.9" cy="10.6" r="1"/><circle cx="96.0" cy="42.8" r="1"/><circle cx="134.3" cy="42.8" r="1"/><circle cx="111.1" cy="53.4" r="1"/><circle cx="74.4" cy="85.6" r="1"/><circle cx="116.7" cy="103.2" r="1"/><circle cx="188.7" cy="13.2" r="1"/><circle cx="231.4" cy="13.2" r="1"/><circle cx="201.2" cy="33.3" r="1"/><circle cx="206.8" cy="42.8" r="1"/><circle cx="201.7" cy="55.4" r="1"/><circle cx="239.5" cy="57.9" r="1"/><circle cx="221.4" cy="65.5" r="1"/><circle cx="206.8" cy="78.1" r="1"/><circle cx="236.5" cy="78.1" r="1"/><circle cx="124.2" cy="119.9" r="1"/><circle cx="101.6" cy="130.4" r="1"/><circle cx="66.4" cy="138.5" r="1"/><circle cx="114.2" cy="148.0" r="1"/><circle cx="124.7" cy="160.1" r="1"/><circle cx="181.6" cy="114.3" r="1"/><circle cx="209.3" cy="120.4" r="1"/><circle cx="234.5" cy="112.8" r="1"/><circle cx="199.7" cy="155.6" r="1"/><circle cx="213.8" cy="186.3" r="1"/><circle cx="206.8" cy="140.0" r="1"/></g>
<line x1="159.0" y1="5.1" x2="159.0" y2="206.4" stroke="#000" stroke-width="1.9" stroke-dasharray="1.1 1.2"/>
<line x1="58.3" y1="105.8" x2="259.6" y2="105.8" stroke="#000" stroke-width="1.9" stroke-dasharray="1.1 1.2"/>
<path fill="none" stroke="#fff" stroke-width="1.8" d="M98.6 213.2 99.1 212.6 99.6 212.0 100.1 211.4 100.6 210.8 101.1 210.2 101.6 209.6 102.1 209.0 102.6 208.3 103.1 207.7 103.6 207.1 104.1 206.5 104.6 205.9 105.1 205.3 105.6 204.6 106.1 204.0 106.6 203.4 107.1 202.8 107.6 202.1 108.1 201.5 108.6 200.9 109.1 200.2 109.6 199.6 110.1 199.0 110.6 198.3 111.1 197.7 111.6 197.0 112.2 196.4 112.7 195.7 113.2 195.1 113.7 194.4 114.2 193.8 114.7 193.1 115.2 192.4 115.7 191.8 116.2 191.1 116.7 190.4 117.2 189.8 117.7 189.1 118.2 188.4 118.7 187.7 119.2 187.0 119.7 186.4 120.2 185.7 120.7 185.0 121.2 184.3 121.7 183.6 122.2 182.9 122.7 182.2 123.2 181.5 123.7 180.7 124.2 180.0 124.7 179.3 125.2 178.6 125.7 177.9 126.2 177.1 126.7 176.4 127.3 175.7 127.8 174.9 128.3 174.2 128.8 173.4 129.3 172.7 129.8 171.9 130.3 171.2 130.8 170.4 131.3 169.6 131.8 168.8 132.3 168.1 132.8 167.3 133.3 166.5 133.8 165.7 134.3 164.9 134.8 164.1 135.3 163.3 135.8 162.4 136.3 161.6 136.8 160.8 137.3 159.9 137.8 159.1 138.3 158.3 138.8 157.4 139.3 156.5 139.8 155.7 140.3 154.8 140.8 153.9 141.3 153.0 141.8 152.1 142.4 151.2 142.9 150.3 143.4 149.3 143.9 148.4 144.4 147.4 144.9 146.5 145.4 145.5 145.9 144.5 146.4 143.5 146.9 142.5 147.4 141.5 147.9 140.4 148.4 139.4 148.9 138.3 149.4 137.2 149.9 136.1 150.4 134.9 150.9 133.8 151.4 132.6 151.9 131.4 152.4 130.2 152.9 128.9 153.4 127.6 153.9 126.3 154.4 124.9 154.9 123.4 155.4 121.9 155.9 120.3 156.4 118.7 156.9 116.9 157.5 114.9 158.0 112.8 158.5 110.2 159.0 105.8 159.5 110.2 160.0 112.8 160.5 114.9 161.0 116.9 161.5 118.7 162.0 120.3 162.5 121.9 163.0 123.4 163.5 124.9 164.0 126.3 164.5 127.6 165.0 128.9 165.5 130.2 166.0 131.4 166.5 132.6 167.0 133.8 167.5 134.9 168.0 136.1 168.5 137.2 169.0 138.3 169.5 139.4 170.0 140.4 170.5 141.5 171.0 142.5 171.5 143.5 172.0 144.5 172.5 145.5 173.1 146.5 173.6 147.4 174.1 148.4 174.6 149.3 175.1 150.3 175.6 151.2 176.1 152.1 176.6 153.0 177.1 153.9 177.6 154.8 178.1 155.7 178.6 156.5 179.1 157.4 179.6 158.3 180.1 159.1 180.6 159.9 181.1 160.8 181.6 161.6 182.1 162.4 182.6 163.3 183.1 164.1 183.6 164.9 184.1 165.7 184.6 166.5 185.1 167.3 185.6 168.1 186.1 168.8 186.6 169.6 187.1 170.4 187.6 171.2 188.2 171.9 188.7 172.7 189.2 173.4 189.7 174.2 190.2 174.9 190.7 175.7 191.2 176.4 191.7 177.1 192.2 177.9 192.7 178.6 193.2 179.3 193.7 180.0 194.2 180.7 194.7 181.5 195.2 182.2 195.7 182.9 196.2 183.6 196.7 184.3 197.2 185.0 197.7 185.7 198.2 186.4 198.7 187.0 199.2 187.7 199.7 188.4 200.2 189.1 200.7 189.8 201.2 190.4 201.7 191.1 202.2 191.8 202.7 192.4 203.3 193.1 203.8 193.8 204.3 194.4 204.8 195.1 205.3 195.7 205.8 196.4 206.3 197.0 206.8 197.7 207.3 198.3 207.8 199.0 208.3 199.6 208.8 200.2 209.3 200.9 209.8 201.5 210.3 202.1 210.8 202.8 211.3 203.4 211.8 204.0 212.3 204.6 212.8 205.3 213.3 205.9 213.8 206.5 214.3 207.1 214.8 207.7 215.3 208.3 215.8 209.0 216.3 209.6 216.8 210.2 217.3 210.8 217.8 211.4 218.3 212.0 218.9 212.6 219.4 213.2"/>
</g>
<rect x="58.3" y="5.1" width="201.3" height="201.3" fill="none" stroke="#000" stroke-width="1"/>
<path stroke="#000" stroke-width="1" d="M68.4 206.4V201.9M58.3 196.4H62.8M78.4 206.4V201.9M58.3 186.3H62.8M88.5 206.4V201.9M58.3 176.2H62.8M98.6 206.4V201.9M58.3 166.2H62.8M108.6 206.4V197.9M58.3 156.1H66.8M118.7 206.4V201.9M58.3 146.0H62.8M128.8 206.4V201.9M58.3 136.0H62.8M138.8 206.4V201.9M58.3 125.9H62.8M148.9 206.4V201.9M58.3 115.8H62.8M159.0 206.4V197.9M58.3 105.8H66.8M169.0 206.4V201.9M58.3 95.7H62.8M179.1 206.4V201.9M58.3 85.6H62.8M189.2 206.4V201.9M58.3 75.6H62.8M199.2 206.4V201.9M58.3 65.5H62.8M209.3 206.4V197.9M58.3 55.4H66.8M219.4 206.4V201.9M58.3 45.4H62.8M229.4 206.4V201.9M58.3 35.3H62.8M239.5 206.4V201.9M58.3 25.2H62.8M249.6 206.4V201.9M58.3 15.2H62.8"/>
<text x="54.3" y="209.5" font-size="12.2" text-anchor="end">-2</text>
<text x="58.5" y="220.2" font-size="12.2" text-anchor="middle">-2</text>
<text x="54.3" y="159.2" font-size="12.2" text-anchor="end">-1</text>
<text x="108.8" y="220.2" font-size="12.2" text-anchor="middle">-1</text>
<text x="54.3" y="108.9" font-size="12.2" text-anchor="end">0</text>
<text x="159.0" y="220.2" font-size="12.2" text-anchor="middle">0</text>
<text x="54.3" y="58.5" font-size="12.2" text-anchor="end">1</text>
<text x="209.3" y="220.2" font-size="12.2" text-anchor="middle">1</text>
<text x="54.3" y="8.2" font-size="12.2" text-anchor="end">2</text>
<text x="259.6" y="220.2" font-size="12.2" text-anchor="middle">2</text>
<text x="73.4" y="30.9" font-size="14.5" fill="#fff">#3</text>
<text transform="translate(21.0,140.3) rotate(-90)" font-size="21">Q<tspan font-size="12.5" dy="2.5">X</tspan><tspan dy="-2.5">/&lt;</tspan><tspan font-family="Liberation Sans" font-weight="bold" font-size="13.4" dy="-2.9">|</tspan><tspan font-weight="bold" dy="2.9">j</tspan><tspan font-family="Liberation Sans" font-weight="bold" font-size="13.4" dy="-2.9">|</tspan><tspan font-size="13.7" dy="-8.1">2</tspan><tspan dy="11">&gt;</tspan></text>
<text x="117.5" y="246.3" font-size="19.5">R<tspan font-size="13" dy="4">X</tspan><tspan dy="-4">/&lt;</tspan><tspan font-family="Liberation Sans" font-weight="bold" font-size="12.6" dy="-2.7">|</tspan><tspan font-weight="bold" dy="2.7">j</tspan><tspan font-family="Liberation Sans" font-weight="bold" font-size="12.6" dy="-2.7">|</tspan><tspan font-size="13" dy="-6.1">2</tspan><tspan dy="8.8">&gt;</tspan><tspan font-size="13" dy="-11.5">3/2</tspan></text>
<rect x="77.6" y="266.8" width="165.8" height="9.8" fill="url(#cbg)" stroke="#000" stroke-width="1.5"/>
<path stroke="#000" stroke-width="1.3" d="M78.4 276.6V281.1M101.9 276.6V281.6M125.4 276.6V279.1M148.9 276.6V281.6M172.4 276.6V279.1M195.9 276.6V281.6M219.4 276.6V279.1M242.9 276.6V281.6"/>
<text x="101.6" y="293.2" font-size="10.6" text-anchor="middle">-2.0</text>
<text x="148.6" y="293.2" font-size="10.6" text-anchor="middle">-1.0</text>
<text x="195.4" y="293.2" font-size="10.6" text-anchor="middle">0.0</text>
<text x="242.9" y="293.2" font-size="10.6" text-anchor="middle">1.0</text>
<text x="113.6" y="309.5" font-size="14">Log P(R*<tspan font-size="10" dy="3">X</tspan><tspan dy="-3">,Q*</tspan><tspan font-size="10" dy="3">X</tspan><tspan dy="-3">)</tspan></text>
</g>
<g transform="translate(0,333.2)">
<rect x="58.3" y="5.1" width="201.3" height="201.3" fill="#7f00ff"/>
<g clip-path="url(#pc)">
<g transform="scale(.25)">
<path fill="#1300ff" d="M399 826l123 0 3-2 5 0 3 2 29 0 2-5 1-4 1-1 3-5 1-1 5 0 2 1 0 5-2 1-3 4-2 1-3 4 69 0 0-3-5 2-3-4-2-5 1-5 3-5 1-2 2-3 3-4 1-2 4-2 5-3 2-10-1-5 0-5-1-5 0-5 5-4 1-1 4-3 10-2 5 0 5-4 5-1 6 0 4-2 5-3 3 0 2-2 4-3 1-1 5-1 5 0 5-3 6 0 4-5 6 0 5-5 5 0 5-5 5-4 5-1 0-5-4-5-1-5 0-10-5-5 0-6-4-4-1-5 0-1-5-4 0-1-5-4-1-2-5-5-3-4-2-3-1-2-3-5-1-1-5-3-1-1-4-3-1-2-2-5-2-3-1-2-2-5-2-2-1-3-2-10 0-5 2-5 1-5 0-1 3-4 2-3 0-2 1-5 0-15 2-5 2-3 1-2 0-10-1-5 0-20-2-10-3-5 0-1-2-5-6-10 1-5 2-4 0-16 1-5-1-5 0-5-3-5-2-5 0-10 2-10 2-5 1-3 1-2 0-15-1-5 0-1-4-4 0-5-1-5 0-1-3-4-1-5 0-61 2-5 1-5 1-4 0-1 10-10 1 0 4-4 2-1 3-4 3-1 2-2 2-3 3-3 5-2 5-5 1 0 0-5-6-6-5-4-10 0-10-4-1-1 1-2 3-3-2-5 0-26-1 0-5-5-20 0-5-4-2-1-23 0-5-1-5-3-1-1-4 0-5-4-4-1-10 0-1 1-5 4-1 0-4 4-5 1-1 0-4 5 0 1-1 4 0 5-1 6-3 4 0 1-1 5 0 5-4 4-5 1-1 1-3 4-2 1-4 4-1 0-5 4-1 1-4 3-7 7-1 5-2 5 0 11 3 4 1 5 0 35 1 5-1 5-3 5-1 4 0 11-1 5-4 5 0 6 1 5-1 5 0 15-1 5 0 15 1 5 0 10-1 5 11 11 5 4 0 1 5 4 1 0 4 5-3 5-2 4 0 1-10 10 0 5-5 5 0 1-2 4 2 5 5 5 0 1 5 3 2 1 3 2 3 4 1 5-1 5-3 3 0 7-1 5-2 5-1 5-1 2 0 3-4 10-1 1-1 4-4 4 0 1-1 5-4 4 0 26 2 10 0 5-2 3-1 2-3 5-1 2-2 3-3 5-5 3-3 2-2 2-5 3-2 0-3 1-5 4 0 5-1 6 0 10-3 15-1 2-2 3-2 5-1 1-3 4-2 10 2 5-1 5-1 0-5 3-3 2-7 7-5 3-1 5-5 5-4 5-5 5-1 5-4 5-3 5-2 3-2 2-3 4-1 1-4 5-1 0-4 5-1 0-20 20 0 1-5 4 0 1-5 4 0 1-5 4 0 11zM535 640l0-1 1 0-1 1zM540 637l-1-3 1-1 4 1-4 3zM545 632l-1-3 1-1 2 1-2 3zM565 742l-3-2-2-1-2-4 0-5 2-3 3-2 2-1 5-1 10 2 0 1 5 4 0 5-4 5-1 1-10 2-5-1zM681 223l-2-1-5-5 2-5 0-1 5-2 3 3 1 5-2 5-2 1zM691 600l0-6 1 5-1 1zM701 721l-1-1 1-1 1 1-1 1zM795 790l2 1 10 0 0-1 2-5-2 0-5-1-5 0-5 1 3 5z"/>
<path fill="#0029ff" d="M463 826l42 0 3-5 2-3 3-2 2-2 5-2 5-1 11 0 4-2 2-3 0-11 1-5 2-5 0-1 2-4 3-4 2-1 3-1 5 1 1 0 4 4 2 1 3 4 1 1 4 5 1 0 3 5 1 2 4 4 2 0 5 4 5-1 5 0 5-2 2-1 3-3 2-3 3-4 0-1 2-5-1-5-1-2-5-5-2-3-3-1-9-9-1-2-3-3-1-5 0-5 4-2 5 0 5 1 2 1 3 2 10 6 5 1 15-3 3-1 2 0 10-4 2-1 3-1 5-1 5-2 2-1 3-2 5-3 5-5 0-1 1-4 2-5-1-5-2-1-5-3-5-1-3 0 3 0 5-1 5-3 3-1 2 0 5-1 5-2 10-2 2 0 3-1 4 1 1 0 5 3 5 1 5-2 3-2 3-5 0-5-3-5-3-3-10-2-1 0 1-4 1-1 0-5-1-1-2-4-3-2-5 1-4 1-6 0-5-3-1-2 0-5 1-3 4-8 1-3 1-2 0-5-1 0-1-5-3-5-1 0 0-5-5-4 0-1-1-5-5-5 0-5-2-5-1-5 1-5 2-5 0-5 1-5 0-5 2-5 3-15 0-15-2-10 2-10 0-5 1-5 0-5-1-2 0-4-2-10-2-5 1-5-3-15 0-5-1-5-2-5-1-3 0-19 2-3 2-5 1-5 0-2 1-3 2-10 0-5-1-5-2-5-5-25 0-11 1-5 0-30 1-5-1-5-1-1-1-4-1-5-2-5-1-2-1-3 0-5 1-5 0-1 14-14 1-3 1-2 1-5-2-5-5-5-5-4-5 2-5-2-2-1-3-5 0-5 5-3 5-2 5 3 5-2 3-1-1-5 1-5 0-5-1-6-2-2-2-3-3-2-5-2-1-1-4 0-5-1-10 0-10-2-10 0-5 2-2 1-3 1-5 0-10 4 0 1-5 4-1 0-4 8-1 3-2 10-2 1-5 2-3 2-1 5-1 2-2 3-5 5-4 2-4 3-1 0-5 1-3 4-2 4 0 1-1 5 0 10-4 20 0 16 1 4 0 15-3 15 0 10 1 6 1 5 0 5-2 10-2 5 0 5-1 2 0 3-1 5 0 5-1 5 1 5 0 5-2 10 3 5 0 1 3 4 2 3 1 2 4 3 2 2 3 4 1 1-1 3-1 2-1 5 0 10-1 5 0 5-1 5 0 5 1 5 2 5 2 6 0 15-1 2 0 4 1 4 1 5 0 20-1 5-1 2-1 3-3 5-1 0-3 5-2 10 0 10 2 10 0 5-1 5-1 1-3 4 0 5-1 5 0 5 1 5 2 5 1 5 1 0-6 6-5 1-5 2-2 2-3 1-10 10-3 4-2 5 0 6 5 2 4 2 1 0 5 4 1 1 1 5-2 2-5 2-5-1-5-2-2-1-3-2-1 2-3 5 0 5 4 5 0 5-5 2-5 3-1 0 1 1 5 4 2 5 3 2 5 2 1 1 3 5-2 5-2 3-2 2-3 2-5 2-5 0-10-2-5 2-2 1-3 1-5 3-2 1-5 5-3 5-1 0-8 20-1 4-1 1-1 5 0 6 2 1 2 4 0 5-2 5 0 1-2 4 0 5zM570 746l-1-1-4-1-5-2-3-2-2-3-2-2 1-5 1-1 3-4 2-3 5-1 10 0 5 2 6 3 2 4 1 5-3 5-6 3-5 2-1 0-4 1zM646 214l-2-2 2-2 5-1 10 2 3 1-3 1-5 2-5 0-5-1zM656 711l-1-1 3 0-2 1z"/>
<path fill="#0067ff" d="M589 790l2 2 5 2 1-4 4-3 1-2-1-5-5-5-4-5-6-6-5-4-1 0-4-5-1-2-1-3-9 0-5-1-4 1-11 0-5 4 0 1-1 5 1 1 5 1 5-2 5-3 5 0 5 3 1 0 3 5 1 2 2 3 3 5 1 0 4 5 0 1 9 9zM524 780l1 1 5-5 0-1-10-2-5-2-1-1-4-1-5-1-5 0-5 2-1 0 0 5 1 1 5 2 5 1 5 0 5-1 5 1 4 1zM593 730l3 1 5 1 5 0 5-1 2-1 3-3 1-2 1-5-2-2-2-3 2-1 4-4 1 0 5-1 5 0 10-2 3-2 2-1 15-3 5 0 5 1 10 0 5-1 4-1 1 0 5-2 10-2 5 0 2-1 1-5-1-5 1-5-3-2-5-2-5-1-5-3-2-2-3-5 0-8 1-2 4-10 1-1 3-5 1-5 0-5-1-5 0-5-4-3-1-2-1-5-5-5-1-5-2-3 0-2-1-5 0-20 1-5 0-1 1-4 2-10 2-4 1-1 0-5-1-5-3-5-2-3 0-11 1-1 2-5 2-3 1-2 1-5 0-5-1-6 0-5-1-1-1-4-2-5 1-5-2-10-1-2 0-8-1-5 0-5-1-5 0-5-1-5 0-5 2-10 1-4 1-1 1-5 0-15-1-5-1-4 0-1-3-15 0-21 1-5 0-25-1-5 0-5-1-5-1-3-1-2-1-5-2-5-1-1-1-4-2-5 0-5 1-5 2-4 5-5 2-1 3-5 2-5-2-4-1-1-4-3-5-2-1 0-4-1-5-1-5 0-15-3-5-3-3-2-2-3-4-2-1-3-4-2 3-5 1-4 1-1-1-2-2-3-3-2-5-1-1 3-4 3-2 2-3 5 4 5-5 5 0 5-2 5-2 3-3 2-2 2-4 3-1 0-5 4-2 1-3 2-5 3-1 0-5 4-1 1-2 5-2 3 0 2-2 10 0 5-3 4-1 1 0 10 1 5 0 7 1 3 1 5 0 5 1 5 0 51-1 5 0 5-1 5-1 1-1 4-2 5 0 5-1 5 0 5-1 1-1 4 0 5 1 2 2 3 2 5 5 5 1 2 3 3-2 5 2 10 0 5 1 5 0 10-1 5-2 5 2 5 1 6 0 10 1 5 0 4 1 1 0 5 1 5 0 30-1 5-1 1-1 4-2 5-1 5-1 1 0 4-1 5-2 5 0 10-1 5-1 1-3 4-1 5-1 2-2 3 0 5 2 5 1 0 4 4 3 1 2 2 5 3 2 0 0 5-1 6-1 0-5 4-1 1-4 1-5 0-5 1-5 2 0 1-4 5-1 3 0 2 4 10 1 2 1 3 3 5 0 5-3 5-1 2-2 3 2 3 3 2 2 0 5 1 5 0 10 2 5 2 0 2 1 3 5 1 3 4 2 4 2 1zM670 725l1 2 2-2 3-5-7 0 1 5zM529 715l1 0 5 1 5 0 5-1-5-3-5 1-5 2-1 0zM726 700l5 1 3-1 2-2 2-3 0-5-2-2-4-3-1 0-5 1-3 4 0 5 3 5zM676 202l6 0 4-3 1-2-1-1-3-4-2-6-2 0-3 3-1 3-1 5 2 5z"/>
<path fill="#00a9ff" d="M582 710l4 1 5 2 5 1 5 0 5-2 2-2 3-1 5-3 5-1 3 0 2-1 5 0 10-4 2-10 3-1 5-1 5 1 3 1 2 2 5 3 15 0 5-4 1-1 1-5-2-10 0-1-1-4-1-5 0-10 2-5 0-2 2-4 3-5 4-5 1 0 2-5 1-5-1-5-2-2-2-3-1-5-5-5-4-10 0-5-2-10-1-4 0-1-2-10 2-10 2-5 1-5 0-5-2-5-1-4 0-14 1-2 1-5 2-5 2-10 0-6-1-3 0-7-1-5 0-10-1-5 0-15-3-15 0-17 1-3 3-15 0-5-3-15-1-3 0-2-1-5 0-61-2-10-6-15-1-4 0-1-2-5-1-5 0-15 3-5 0-5-5-3-10-4-5-1-10-4-5-3-5-4-4-1-1-1-3 1-2 1-3 4-2 4-1 1-3 5-1 1-5 4-5 3-2 2-3 2-4 3-1 2-4 3-1 3-2 2-3 5-1 0-2 5-3 5-2 10 0 10 1 5 0 10 1 5 0 8 1 2 0 10-1 5 0 6-1 5 0 25-1 5 0 5-1 5-2 4 0 1-1 5 0 10-2 10 0 5 1 5 2 5 4 5 0 5 1 5 1 0 0 5 1 5 0 41 3 15 0 6 1 4 0 30-1 2 0 3-1 5-2 5-2 4 0 1-2 5 0 5-3 4 0 1-1 5 0 5-1 5-3 4-1 1-1 5-2 5-1 5 5 5 2 0 3 2 5 2 5 1 2 0 4 3 3 2-1 5 0 6-2 5 0 2-2 3-4 3-2 2-3 1-5 2-5 1-2 1-3 3-1 2 1 5 0 1 2 4 3 2 5 2 2 1 3 2 4 3-2 5-2 3 0 2 5 3 2 2z"/>
<path fill="#00eaff" d="M590 705l1 0 5 2 5-1 2-1-2-2-5-1-5 2-1 1zM587 685l4 1 5 0 5 1 10 0 5 1 5 0 10-2 3-1 2-3 2-2 3-4 3-1 2-2 5 0 4 2 1 0 5 3 4 2 1 0 5 1 2-1 3-5-2-10 0-15 1-6 1-1 2-4 3-1 5-3 0-1 5-2 2-3 3-1 2-4-1-5-5-5 0-5-1 0-4-5-1-2-2-3-2-10 0-5-1-2-1-3-1-5-2-5-1-4 0-3 1-3 0-5 1-5 0-30 3-15 0-1 1-4 1-5 0-26-1-5 0-20-1-4 0-1-1-5 0-5-1-5 0-10 1-5 0-5 1-5 0-10-1-5 0-5-1-5 0-5-1-5 0-15-1-5 0-21-1-5 0-15-2-10-2-5-1-3-1-2-4-10 0-1-2-4-3-15-5-5-1-5-4-5-5-3-4-2-1-1-5-2-5-1-5 1-4 3-6 6-5 3-1 1-4 3-3 2-2 1-5 5-3 4-2 5-1 0-4 10 0 2-2 3-1 5 0 5-1 5 0 10-1 5 1 5 0 15-2 10 0 6-1 5 0 10-1 5 0 20-2 10 0 15-1 1 0 9-1 5 0 10 1 5 0 2 2 3 2 10 0 5 1 5 0 36 4 20 0 35-3 15-1 0-2 5-1 5-4 10-2 10-1 1-1 4-2 5-2 3-1 2-1 5 1 5 1 2 5 1 5 2 3 0 2 1 6 1 5 2 2 1 3 3 1 2 0 5-1 6 0 3-1 2 0 5-1 5-2 5-1 2-3 3-2 5-1 0 1 0 1 5z"/>
<path fill="#00ffda" d="M614 670l2 1 5 1 4-2 1-1 3-4 2-4 1-1 1-5 0-5-1-6-1-3-1-2 1-5 19 0 1 1 5 0 5 1 5-1 3-1 2 0 10-4 3-1 2 0 5-3 5-2 0-1-1-4-4-5-3-5-2-1-3-4-2-5 0-5-1-5-2-5 0-5-1-5-1-2-1-3 0-30-1-5 0-10 2-10 0-1 1-4 2-10 0-11 1-5 0-40-2-10 0-10-1-5 0-10 1-5 0-20-1-5 0-5-1-5 0-10-1-5 0-10-1-6 0-10-2-10 0-5-1-5 0-5-2-10-2-5-1-2-1-3-2-5-2-4 0-1-4-10-1-3-1-2-3-5-1-1-5-3-2-1-3-3-3-2-2-1-5-1-5 1-3 1-2 1-5 3-2 1-3 2-4 3-1 1-3 4-4 10-1 5-4 10-3 15 0 3-1 2-1 5 0 5-1 5 0 5-2 10 0 5-1 0 0 6-1 5 0 5-1 5 0 10-1 5 0 20-1 5 0 20-1 3 0 7-1 5 0 5 1 5 0 7 1 3 1 5 0 5 1 5 0 20 1 6 0 5 1 5 1 3 0 2 1 5 0 5 1 5 0 20-1 5 0 5-1 5 0 5-4 10-1 5-1 0 0 5-2 5-2 10-1 1-1 4-3 5-1 1-1 4-1 5 2 3 4 2 1 1 5 1 6 1 10 2 1 0 4 2 5 3 3 5-3 5 0 3-1 3 0 5 1 2 0 3 3 5 5 5z"/>
<path fill="#00ffa0" d="M602 624l4 1 5 1 55 0 5-1 3-1 2-1 5-4 0-5-2-5-3-3-1-2-2-5 0-5-1-5 0-5 2-5 0-20-1-5 0-5-2-10 0-20 1-5 0-5 1-5 0-5 1-5 0-6 1-5 0-5 1-5 0-15 1-5 0-20-1-5 0-5-1-5 0-30-1-5 0-10-1-5 0-5-1-5 0-10-1-5 0-6-3-15 0-5-1-5-1-3 0-2-1-5-8-20-1-3-1-2-1-5-3-5 0-1-3-4-2-3-3-2-2-1-5-2-5 0-5 1-4 2-1 1-2 4-2 5-1 2-1 3-3 5-1 4-1 1-3 5-1 5-3 5-6 15-1 5 0 2-1 3-1 5-2 5-1 5 0 3-1 3-1 5 0 5-1 5 0 5-1 5 0 5-1 5 0 50-1 5 0 20 1 2 0 8 1 5 0 15 1 5 0 6 2 10 0 5 1 2 0 8 1 5 0 10-1 5 0 7-1 3 0 5-3 15 0 10 1 5 0 10-2 10 0 2-1 3 0 5 1 2 1 3 4 2 5 2 5 1 1 0z"/>
<path fill="#00ff66" d="M610 609l1 0 5 3 10 2 15 0 10-2 5-3 1-5 0-5 2-10 2-5 5-3 5-5 1-2 1-5-1-5 0-10-1-4-1-1-1-5 0-5-2-10 0-10 1-5 0-20 1-6 0-5 2-10 0-5 2-10 0-5 1-5 0-15-1-5 0-20-1-5 0-10-1-5 0-5-1-5 0-10-1-5 0-5-1-5 0-10-1-6-5-25-1-2-1-3-2-5-1-5-1-1-3-4-2-3-2-2-2-5-1-4-1-1-2-5-2-2-4-3-1-1-4 1-1 0-4 5-1 1-3 4-2 4-1 1-4 10-4 5-1 3-2 2-2 5-1 4-1 1-2 5-1 5-1 3-1 2-2 5-2 10-1 1 0 5-2 10 0 5-2 10 0 4-1 1 0 15 1 5 0 30-1 5 0 15 1 3 0 12 1 5 0 10 1 5 0 5 1 6 0 5 1 5 0 5 1 5 0 5 1 5 0 5-1 5 0 4-1 1 0 5-4 20 0 3-1 2 1 1 2 4 3 5 4 5 1 1 1 4 2 10 2 4 0 1 4 5z"/>
<path fill="#00ff29" d="M612 579l4 1 5 2 10 2 25-5 1 0 4-2 5-3 5-4 0-11-3-5-2-10 0-5-2-5-1-5 0-25 1-5 0-11 2-10 0-5 2-10 0-5 2-10 0-40-1-5 0-5-1-5 0-5-1-5 0-5-1-5 0-5-1-5 0-5-1-5 0-5-1-5-1-6-1-4 0-1-4-10-1-5-4-10-1-1-2-4-3-4 0-1-5-4-4-1-2 0-4 1-5 4-4 5-1 1-3 4-2 5-1 0-4 10-1 0-4 10 0 1-2 4-2 6-1 5 0 2-1 3-4 20 0 3-1 2 0 70 1 1 0 14 1 5 0 10 1 5 0 5 1 6 0 5 1 5 0 5 1 3 0 7 1 5 0 10-4 20 0 5-2 5 0 5 5 4 2 1 3 2 5 3 1 0z"/>
<path fill="#10ff00" d="M617 564l4 2 5 1 20 0 5-1 5-2 4-5 1-5 0-5-1-5 0-5-2-10 1-5 0-10 1-5 0-10 1-5 0-6 2-10 0-5 1-5 0-5 2-10 0-5 1-5 0-30-1-5 0-10-1-5 0-10-1-5 0-5-3-15 0-1-1-4-2-10-3-6-2-5-2-4-1-1-3-5-1-2-2-3-3-3-4-2-5 0-1 1-5 4-1 0-4 5 0 1-3 4-2 4-1 1-3 5-1 4-1 2-2 5-1 5-1 3-1 2-1 5-2 5-1 5 0 2-1 3 0 20-1 5 0 45 1 5 0 10 1 5 0 10 1 5 0 11 3 15 0 5 1 1 0 4 2 10 0 20 1 5 2 4 0 1 5 4 1 1z"/>
<path fill="#4eff00" d="M621 549l5 3 5 2 5 0 5-1 5-2 2-2 3-4 0-1 2-10 0-5 3-15 0-1 1-4 0-5 1-5 0-5 1-6 0-5 1-5 0-5 1-5 0-5 1-5 0-5 1-5 0-55-1-5 0-10-2-10-2-5-1-5-1-4-1-1-4-10 0-1-5-5-4-5-1 0-5-3-5 0-5 3-5 5 0 1-3 5-6 15-1 2-1 3-4 10 0 2-1 3 0 5-1 5 0 10-1 5 0 50 1 5 0 15 1 5 0 10 1 5 0 1 4 20 1 2 0 3 2 5 2 10 1 3 0 2 1 5 4 5z"/>
<path fill="#8dff00" d="M630 539l1 1 5 1 3-2 2-1 2-4 3-5 4-10 1-4 0-1 1-5 2-5 2-10 0-6 1-5 0-5 1-5 0-10 1-5 0-5 1-5 0-50-1-5 0-15-1-5-2-5 0-1-2-4-2-5-1-2-2-3-3-5-5-5-3 0-2-1-3 1-2 0-5 5-4 5-1 1-2 4-3 5-2 5-3 5 0 2-1 3-2 10 0 5-1 5 0 5-1 5 0 45 1 5 0 5 1 5 0 10 1 5 0 5 1 6 1 4 0 1 1 5 8 20 1 2 1 3 3 5 5 5z"/>
<path fill="#d0ff00" d="M629 524l2 2 5 1 5-5 1-3 3-5 1-2 1-3 4-10 1-5 1-6 0-5 1-5 0-5 1-5 0-5 1-5 0-5 1-5 0-40-1-5 0-20-1-5-4-10 0-1-2-4-3-5-1 0-4-5-2 0-3-2-4 2-1 0-5 5-4 5-1 2-2 3-3 5 0 2-2 3-2 10 0 5-1 5 0 2-1 3-1 5 0 15-1 5 0 15 1 5 0 5 2 10 0 5 1 5 0 5 2 10 0 6 2 4 0 1 4 10 1 2 1 3 3 5 1 1 3 4z"/>
<path fill="#ffe900" d="M627 509l4 4 5 1 4-5 1-1 2-4 3-5 2-5 1-6 1-5 0-5 1-2 0-3 1-5 0-5 2-10 0-5 1-5 0-30-2-10 0-5-1-5 0-5-2-10-4-10 0-1-4-4-1-2-5-2-5 2-2 2-3 2-2 3-3 5 0 1-2 4-1 5-2 5 0 3-1 2-4 20 0 35 5 25 0 1 1 4 2 10 1 6 1 2 1 3 2 5 2 4 1 1z"/>
<path fill="#ff9800" d="M630 499l1 1 5 1 3-2 2-4 1-1 2-6 1-5 1-3 0-2 1-5 2-5 1-5 0-5 1-4 0-1 2-10 0-30-1-5-1-3 0-2-2-10-2-5-1-4 0-1-2-5-3-5 0-1-5-5-2 1-3 0-4 5-1 2-1 3-3 5-1 4 0 1-4 10-1 5-2 5-1 5 0 30 2 10 1 4 0 1 2 10 2 5 1 4 0 1 4 10 2 6 3 5z"/>
<path fill="#ff5100" d="M630 488l1 2 5 2 2-4 3-4 0-1 2-5 1-5 2-4 0-1 5-25 0-31-1-4-2-10-2-5 0-1-3-4-1-5-1-2-2-3-3-4-5 2-2 2-3 5 0 1-2 4-3 5 0 1-2 4-1 5-2 5 0 1-2 4 0 20 1 5 0 5 1 4 0 1 2 10 2 5 1 3 1 2 2 5 1 5 1 2 1 3 3 5z"/>
<path fill="#ff0900" d="M629 478l2 3 5 2 4-10 1 0 4-10 1-2 1-3 0-5 2-10 0-5 1-5 0-15-4-20 0-1-3-4-2-4-1-1-3-5-1-2-5 1-1 1-2 5-2 2-2 3-2 5-1 1-2 4-1 5-2 4-1 1 0 5 1 5 0 10 1 5 0 5 1 5 2 5 1 5 4 10 1 3 1 2 2 5z"/>
<path fill="#ff0000" d="M630 468l1 2 5 2 3-4 2-2 1-3 1-5 2-5 1-2 0-3 1-5 0-10 1-5-1-5 0-10-1-5 0-5-4-5-1-5-5-4-5 1-3 3-2 3-1 2-3 5-1 1-1 4-2 5 0 10 1 5 0 10 1 5 1 4 0 1 4 10 1 4 0 1 4 5z"/>
<path fill="none" stroke="#000" stroke-width="3.8" d="M522 826l3-2 5 0 3 2M562 826l2-5 1-4 1-1 3-5 1-1 5 0 2 1 0 5-2 1-3 4-2 1-3 4M636 826l0-3-5 2-3-4-2-5 1-5 3-5 1-2 2-3 3-4 1-2 4-2 5-3 2-10-1-5 0-5-1-5 0-5 5-4 1-1 4-3 10-2 5 0 5-4 5-1 6 0 4-2 5-3 3 0 2-2 4-3 1-1 5-1 5 0 5-3 6 0 4-5 6 0 5-5 5 0 5-5 5-4 5-1 0-5-4-5-1-5 0-10-5-5 0-6-4-4-1-5 0-1-5-4 0-1-5-4-1-2-5-5-3-4-2-3-1-2-3-5-1-1-5-3-1-1-4-3-1-2-2-5-2-3-1-2-2-5-2-2-1-3-2-10 0-5 2-5 1-5 0-1 3-4 2-3 0-2 1-5 0-15 2-5 2-3 1-2 0-10-1-5 0-20-2-10-3-5 0-1-2-5-6-10 1-5 2-4 0-16 1-5-1-5 0-5-3-5-2-5 0-10 2-10 2-5 1-3 1-2 0-15-1-5 0-1-4-4 0-5-1-5 0-1-3-4-1-5 0-61 2-5 1-5 1-4 0-1 10-10 1 0 4-4 2-1 3-4 3-1 2-2 2-3 3-3 5-2 5-5 1 0 0-5-6-6-5-4-10 0-10-4-1-1 1-2 3-3-2-5 0-26-1 0-5-5-20 0-5-4-2-1-23 0-5-1-5-3-1-1-4 0-5-4-4-1-10 0-1 1-5 4-1 0-4 4-5 1-1 0-4 5 0 1-1 4 0 5-1 6-3 4 0 1-1 5 0 5-4 4-5 1-1 1-3 4-2 1-4 4-1 0-5 4-1 1-4 3-7 7-1 5-2 5 0 11 3 4 1 5 0 35 1 5-1 5-3 5-1 4 0 11-1 5-4 5 0 6 1 5-1 5 0 15-1 5 0 15 1 5 0 10-1 5 11 11 5 4 0 1 5 4 1 0 4 5-3 5-2 4 0 1-10 10 0 5-5 5 0 1-2 4 2 5 5 5 0 1 5 3 2 1 3 2 3 4 1 5-1 5-3 3 0 7-1 5-2 5-1 5-1 2 0 3-4 10-1 1-1 4-4 4 0 1-1 5-4 4 0 26 2 10 0 5-2 3-1 2-3 5-1 2-2 3-3 5-5 3-3 2-2 2-5 3-2 0-3 1-5 4 0 5-1 6 0 10-3 15-1 2-2 3-2 5-1 1-3 4-2 10 2 5-1 5-1 0-5 3-3 2-7 7-5 3-1 5-5 5-4 5-5 5-1 5-4 5-3 5-2 3-2 2-3 4-1 1-4 5-1 0-4 5-1 0-20 20 0 1-5 4 0 1-5 4 0 1-5 4 0 11M795 790l2 1 10 0 0-1 2-5-2 0-5-1-5 0-5 1 3 5M565 742l-3-2-2-1-2-4 0-5 2-3 3-2 2-1 5-1 10 2 0 1 5 4 0 5-4 5-1 1-10 2-5-1M701 721l-1-1 1-1 1 1-1 1M535 640l0-1 1 0-1 1M540 637l-1-3 1-1 4 1-4 3M545 632l-1-3 1-1 2 1-2 3M691 600l0-6 1 5-1 1M681 223l-2-1-5-5 2-5 0-1 5-2 3 3 1 5-2 5-2 1M589 790l2 2 5 2 1-4 4-3 1-2-1-5-5-5-4-5-6-6-5-4-1 0-4-5-1-2-1-3-9 0-5-1-4 1-11 0-5 4 0 1-1 5 1 1 5 1 5-2 5-3 5 0 5 3 1 0 3 5 1 2 2 3 3 5 1 0 4 5 0 1 9 9M524 780l1 1 5-5 0-1-10-2-5-2-1-1-4-1-5-1-5 0-5 2-1 0 0 5 1 1 5 2 5 1 5 0 5-1 5 1 4 1M593 730l3 1 5 1 5 0 5-1 2-1 3-3 1-2 1-5-2-2-2-3 2-1 4-4 1 0 5-1 5 0 10-2 3-2 2-1 15-3 5 0 5 1 10 0 5-1 4-1 1 0 5-2 10-2 5 0 2-1 1-5-1-5 1-5-3-2-5-2-5-1-5-3-2-2-3-5 0-8 1-2 4-10 1-1 3-5 1-5 0-5-1-5 0-5-4-3-1-2-1-5-5-5-1-5-2-3 0-2-1-5 0-20 1-5 0-1 1-4 2-10 2-4 1-1 0-5-1-5-3-5-2-3 0-11 1-1 2-5 2-3 1-2 1-5 0-5-1-6 0-5-1-1-1-4-2-5 1-5-2-10-1-2 0-8-1-5 0-5-1-5 0-5-1-5 0-5 2-10 1-4 1-1 1-5 0-15-1-5-1-4 0-1-3-15 0-21 1-5 0-25-1-5 0-5-1-5-1-3-1-2-1-5-2-5-1-1-1-4-2-5 0-5 1-5 2-4 5-5 2-1 3-5 2-5-2-4-1-1-4-3-5-2-1 0-4-1-5-1-5 0-15-3-5-3-3-2-2-3-4-2-1-3-4-2 3-5 1-4 1-1-1-2-2-3-3-2-5-1-1 3-4 3-2 2-3 5 4 5-5 5 0 5-2 5-2 3-3 2-2 2-4 3-1 0-5 4-2 1-3 2-5 3-1 0-5 4-1 1-2 5-2 3 0 2-2 10 0 5-3 4-1 1 0 10 1 5 0 7 1 3 1 5 0 5 1 5 0 51-1 5 0 5-1 5-1 1-1 4-2 5 0 5-1 5 0 5-1 1-1 4 0 5 1 2 2 3 2 5 5 5 1 2 3 3-2 5 2 10 0 5 1 5 0 10-1 5-2 5 2 5 1 6 0 10 1 5 0 4 1 1 0 5 1 5 0 30-1 5-1 1-1 4-2 5-1 5-1 1 0 4-1 5-2 5 0 10-1 5-1 1-3 4-1 5-1 2-2 3 0 5 2 5 1 0 4 4 3 1 2 2 5 3 2 0 0 5-1 6-1 0-5 4-1 1-4 1-5 0-5 1-5 2 0 1-4 5-1 3 0 2 4 10 1 2 1 3 3 5 0 5-3 5-1 2-2 3 2 3 3 2 2 0 5 1 5 0 10 2 5 2 0 2 1 3 5 1 3 4 2 4 2 1M670 725l1 2 2-2 3-5-7 0 1 5M529 715l1 0 5 1 5 0 5-1-5-3-5 1-5 2-1 0M726 700l5 1 3-1 2-2 2-3 0-5-2-2-4-3-1 0-5 1-3 4 0 5 3 5M676 202l6 0 4-3 1-2-1-1-3-4-2-6-2 0-3 3-1 3-1 5 2 5M614 670l2 1 5 1 4-2 1-1 3-4 2-4 1-1 1-5 0-5-1-6-1-3-1-2 1-5 19 0 1 1 5 0 5 1 5-1 3-1 2 0 10-4 3-1 2 0 5-3 5-2 0-1-1-4-4-5-3-5-2-1-3-4-2-5 0-5-1-5-2-5 0-5-1-5-1-2-1-3 0-30-1-5 0-10 2-10 0-1 1-4 2-10 0-11 1-5 0-40-2-10 0-10-1-5 0-10 1-5 0-20-1-5 0-5-1-5 0-10-1-5 0-10-1-6 0-10-2-10 0-5-1-5 0-5-2-10-2-5-1-2-1-3-2-5-2-4 0-1-4-10-1-3-1-2-3-5-1-1-5-3-2-1-3-3-3-2-2-1-5-1-5 1-3 1-2 1-5 3-2 1-3 2-4 3-1 1-3 4-4 10-1 5-4 10-3 15 0 3-1 2-1 5 0 5-1 5 0 5-2 10 0 5-1 0 0 6-1 5 0 5-1 5 0 10-1 5 0 20-1 5 0 20-1 3 0 7-1 5 0 5 1 5 0 7 1 3 1 5 0 5 1 5 0 20 1 6 0 5 1 5 1 3 0 2 1 5 0 5 1 5 0 20-1 5 0 5-1 5 0 5-4 10-1 5-1 0 0 5-2 5-2 10-1 1-1 4-3 5-1 1-1 4-1 5 2 3 4 2 1 1 5 1 6 1 10 2 1 0 4 2 5 3 3 5-3 5 0 3-1 3 0 5 1 2 0 3 3 5 5 5M612 579l4 1 5 2 10 2 25-5 1 0 4-2 5-3 5-4 0-11-3-5-2-10 0-5-2-5-1-5 0-25 1-5 0-11 2-10 0-5 2-10 0-5 2-10 0-40-1-5 0-5-1-5 0-5-1-5 0-5-1-5 0-5-1-5 0-5-1-5 0-5-1-5-1-6-1-4 0-1-4-10-1-5-4-10-1-1-2-4-3-4 0-1-5-4-4-1-2 0-4 1-5 4-4 5-1 1-3 4-2 5-1 0-4 10-1 0-4 10 0 1-2 4-2 6-1 5 0 2-1 3-4 20 0 3-1 2 0 70 1 1 0 14 1 5 0 10 1 5 0 5 1 6 0 5 1 5 0 5 1 3 0 7 1 5 0 10-4 20 0 5-2 5 0 5 5 4 2 1 3 2 5 3 1 0M630 539l1 1 5 1 3-2 2-1 2-4 3-5 4-10 1-4 0-1 1-5 2-5 2-10 0-6 1-5 0-5 1-5 0-10 1-5 0-5 1-5 0-50-1-5 0-15-1-5-2-5 0-1-2-4-2-5-1-2-2-3-3-5-5-5-3 0-2-1-3 1-2 0-5 5-4 5-1 1-2 4-3 5-2 5-3 5 0 2-1 3-2 10 0 5-1 5 0 5-1 5 0 45 1 5 0 5 1 5 0 10 1 5 0 5 1 6 1 4 0 1 1 5 8 20 1 2 1 3 3 5 5 5M630 499l1 1 5 1 3-2 2-4 1-1 2-6 1-5 1-3 0-2 1-5 2-5 1-5 0-5 1-4 0-1 2-10 0-30-1-5-1-3 0-2-2-10-2-5-1-4 0-1-2-5-3-5 0-1-5-5-2 1-3 0-4 5-1 2-1 3-3 5-1 4 0 1-4 10-1 5-2 5-1 5 0 30 2 10 1 4 0 1 2 10 2 5 1 4 0 1 4 10 2 6 3 5M630 468l1 2 5 2 3-4 2-2 1-3 1-5 2-5 1-2 0-3 1-5 0-10 1-5-1-5 0-10-1-5 0-5-4-5-1-5-5-4-5 1-3 3-2 3-1 2-3 5-1 1-1 4-2 5 0 10 1 5 0 10 1 5 1 4 0 1 4 10 1 4 0 1 4 5"/>
</g>
<g fill="#000"><circle cx="91.5" cy="25.2" r="1"/><circle cx="153.9" cy="16.2" r="1"/><circle cx="154.9" cy="23.2" r="1"/><circle cx="129.3" cy="70.0" r="1"/><circle cx="191.7" cy="7.1" r="1"/><circle cx="194.2" cy="28.3" r="1"/><circle cx="221.9" cy="68.5" r="1"/><circle cx="186.6" cy="73.5" r="1"/><circle cx="125.7" cy="151.1" r="1"/><circle cx="123.7" cy="161.1" r="1"/><circle cx="111.6" cy="173.7" r="1"/><circle cx="196.7" cy="153.6" r="1"/><circle cx="211.8" cy="181.3" r="1"/><circle cx="211.8" cy="194.3" r="1"/><circle cx="234.5" cy="123.4" r="1"/></g>
<line x1="159.0" y1="5.1" x2="159.0" y2="206.4" stroke="#000" stroke-width="1.9" stroke-dasharray="1.1 1.2"/>
<line x1="58.3" y1="105.8" x2="259.6" y2="105.8" stroke="#000" stroke-width="1.9" stroke-dasharray="1.1 1.2"/>
<path fill="none" stroke="#fff" stroke-width="1.8" d="M98.6 213.2 99.1 212.6 99.6 212.0 100.1 211.4 100.6 210.8 101.1 210.2 101.6 209.6 102.1 209.0 102.6 208.3 103.1 207.7 103.6 207.1 104.1 206.5 104.6 205.9 105.1 205.3 105.6 204.6 106.1 204.0 106.6 203.4 107.1 202.8 107.6 202.1 108.1 201.5 108.6 200.9 109.1 200.2 109.6 199.6 110.1 199.0 110.6 198.3 111.1 197.7 111.6 197.0 112.2 196.4 112.7 195.7 113.2 195.1 113.7 194.4 114.2 193.8 114.7 193.1 115.2 192.4 115.7 191.8 116.2 191.1 116.7 190.4 117.2 189.8 117.7 189.1 118.2 188.4 118.7 187.7 119.2 187.0 119.7 186.4 120.2 185.7 120.7 185.0 121.2 184.3 121.7 183.6 122.2 182.9 122.7 182.2 123.2 181.5 123.7 180.7 124.2 180.0 124.7 179.3 125.2 178.6 125.7 177.9 126.2 177.1 126.7 176.4 127.3 175.7 127.8 174.9 128.3 174.2 128.8 173.4 129.3 172.7 129.8 171.9 130.3 171.2 130.8 170.4 131.3 169.6 131.8 168.8 132.3 168.1 132.8 167.3 133.3 166.5 133.8 165.7 134.3 164.9 134.8 164.1 135.3 163.3 135.8 162.4 136.3 161.6 136.8 160.8 137.3 159.9 137.8 159.1 138.3 158.3 138.8 157.4 139.3 156.5 139.8 155.7 140.3 154.8 140.8 153.9 141.3 153.0 141.8 152.1 142.4 151.2 142.9 150.3 143.4 149.3 143.9 148.4 144.4 147.4 144.9 146.5 145.4 145.5 145.9 144.5 146.4 143.5 146.9 142.5 147.4 141.5 147.9 140.4 148.4 139.4 148.9 138.3 149.4 137.2 149.9 136.1 150.4 134.9 150.9 133.8 151.4 132.6 151.9 131.4 152.4 130.2 152.9 128.9 153.4 127.6 153.9 126.3 154.4 124.9 154.9 123.4 155.4 121.9 155.9 120.3 156.4 118.7 156.9 116.9 157.5 114.9 158.0 112.8 158.5 110.2 159.0 105.8 159.5 110.2 160.0 112.8 160.5 114.9 161.0 116.9 161.5 118.7 162.0 120.3 162.5 121.9 163.0 123.4 163.5 124.9 164.0 126.3 164.5 127.6 165.0 128.9 165.5 130.2 166.0 131.4 166.5 132.6 167.0 133.8 167.5 134.9 168.0 136.1 168.5 137.2 169.0 138.3 169.5 139.4 170.0 140.4 170.5 141.5 171.0 142.5 171.5 143.5 172.0 144.5 172.5 145.5 173.1 146.5 173.6 147.4 174.1 148.4 174.6 149.3 175.1 150.3 175.6 151.2 176.1 152.1 176.6 153.0 177.1 153.9 177.6 154.8 178.1 155.7 178.6 156.5 179.1 157.4 179.6 158.3 180.1 159.1 180.6 159.9 181.1 160.8 181.6 161.6 182.1 162.4 182.6 163.3 183.1 164.1 183.6 164.9 184.1 165.7 184.6 166.5 185.1 167.3 185.6 168.1 186.1 168.8 186.6 169.6 187.1 170.4 187.6 171.2 188.2 171.9 188.7 172.7 189.2 173.4 189.7 174.2 190.2 174.9 190.7 175.7 191.2 176.4 191.7 177.1 192.2 177.9 192.7 178.6 193.2 179.3 193.7 180.0 194.2 180.7 194.7 181.5 195.2 182.2 195.7 182.9 196.2 183.6 196.7 184.3 197.2 185.0 197.7 185.7 198.2 186.4 198.7 187.0 199.2 187.7 199.7 188.4 200.2 189.1 200.7 189.8 201.2 190.4 201.7 191.1 202.2 191.8 202.7 192.4 203.3 193.1 203.8 193.8 204.3 194.4 204.8 195.1 205.3 195.7 205.8 196.4 206.3 197.0 206.8 197.7 207.3 198.3 207.8 199.0 208.3 199.6 208.8 200.2 209.3 200.9 209.8 201.5 210.3 202.1 210.8 202.8 211.3 203.4 211.8 204.0 212.3 204.6 212.8 205.3 213.3 205.9 213.8 206.5 214.3 207.1 214.8 207.7 215.3 208.3 215.8 209.0 216.3 209.6 216.8 210.2 217.3 210.8 217.8 211.4 218.3 212.0 218.9 212.6 219.4 213.2"/>
</g>
<rect x="58.3" y="5.1" width="201.3" height="201.3" fill="none" stroke="#000" stroke-width="1"/>
<path stroke="#000" stroke-width="1" d="M68.4 206.4V201.9M58.3 196.4H62.8M78.4 206.4V201.9M58.3 186.3H62.8M88.5 206.4V201.9M58.3 176.2H62.8M98.6 206.4V201.9M58.3 166.2H62.8M108.6 206.4V197.9M58.3 156.1H66.8M118.7 206.4V201.9M58.3 146.0H62.8M128.8 206.4V201.9M58.3 136.0H62.8M138.8 206.4V201.9M58.3 125.9H62.8M148.9 206.4V201.9M58.3 115.8H62.8M159.0 206.4V197.9M58.3 105.8H66.8M169.0 206.4V201.9M58.3 95.7H62.8M179.1 206.4V201.9M58.3 85.6H62.8M189.2 206.4V201.9M58.3 75.6H62.8M199.2 206.4V201.9M58.3 65.5H62.8M209.3 206.4V197.9M58.3 55.4H66.8M219.4 206.4V201.9M58.3 45.4H62.8M229.4 206.4V201.9M58.3 35.3H62.8M239.5 206.4V201.9M58.3 25.2H62.8M249.6 206.4V201.9M58.3 15.2H62.8"/>
<text x="54.3" y="209.5" font-size="12.2" text-anchor="end">-2</text>
<text x="58.5" y="220.2" font-size="12.2" text-anchor="middle">-2</text>
<text x="54.3" y="159.2" font-size="12.2" text-anchor="end">-1</text>
<text x="108.8" y="220.2" font-size="12.2" text-anchor="middle">-1</text>
<text x="54.3" y="108.9" font-size="12.2" text-anchor="end">0</text>
<text x="159.0" y="220.2" font-size="12.2" text-anchor="middle">0</text>
<text x="54.3" y="58.5" font-size="12.2" text-anchor="end">1</text>
<text x="209.3" y="220.2" font-size="12.2" text-anchor="middle">1</text>
<text x="54.3" y="8.2" font-size="12.2" text-anchor="end">2</text>
<text x="259.6" y="220.2" font-size="12.2" text-anchor="middle">2</text>
<text x="73.4" y="30.9" font-size="14.5" fill="#fff">#4</text>
<text transform="translate(21.0,140.3) rotate(-90)" font-size="21">Q<tspan font-size="12.5" dy="2.5">X</tspan><tspan dy="-2.5">/&lt;</tspan><tspan font-family="Liberation Sans" font-weight="bold" font-size="13.4" dy="-2.9">|</tspan><tspan font-weight="bold" dy="2.9">j</tspan><tspan font-family="Liberation Sans" font-weight="bold" font-size="13.4" dy="-2.9">|</tspan><tspan font-size="13.7" dy="-8.1">2</tspan><tspan dy="11">&gt;</tspan></text>
<text x="117.5" y="246.3" font-size="19.5">R<tspan font-size="13" dy="4">X</tspan><tspan dy="-4">/&lt;</tspan><tspan font-family="Liberation Sans" font-weight="bold" font-size="12.6" dy="-2.7">|</tspan><tspan font-weight="bold" dy="2.7">j</tspan><tspan font-family="Liberation Sans" font-weight="bold" font-size="12.6" dy="-2.7">|</tspan><tspan font-size="13" dy="-6.1">2</tspan><tspan dy="8.8">&gt;</tspan><tspan font-size="13" dy="-11.5">3/2</tspan></text>
<rect x="77.6" y="266.8" width="165.8" height="9.8" fill="url(#cbg)" stroke="#000" stroke-width="1.5"/>
<path stroke="#000" stroke-width="1.3" d="M78.4 276.6V281.1M101.9 276.6V281.6M125.4 276.6V279.1M148.9 276.6V281.6M172.4 276.6V279.1M195.9 276.6V281.6M219.4 276.6V279.1M242.9 276.6V281.6"/>
<text x="101.6" y="293.2" font-size="10.6" text-anchor="middle">-2.0</text>
<text x="148.6" y="293.2" font-size="10.6" text-anchor="middle">-1.0</text>
<text x="195.4" y="293.2" font-size="10.6" text-anchor="middle">0.0</text>
<text x="242.9" y="293.2" font-size="10.6" text-anchor="middle">1.0</text>
<text x="113.6" y="309.5" font-size="14">Log P(R*<tspan font-size="10" dy="3">X</tspan><tspan dy="-3">,Q*</tspan><tspan font-size="10" dy="3">X</tspan><tspan dy="-3">)</tspan></text>
</g>
<g transform="translate(298,333.2)">
<rect x="58.3" y="5.1" width="201.3" height="201.3" fill="#7f00ff"/>
<g clip-path="url(#pc)">
<g transform="scale(.25)">
<path fill="#1300ff" d="M545 826l69 0 1-5 1-2 1-3 4-5 1 0 4-1 5 5 0 1 2 5 0 5 41 0 1-5 1-4 0-1 20-20 0-1 5-4 0-1 5-5 5-4 5-1 5-4 5 0 1-1 4-3 5-1 6 0 0-1 5-4 5 0 0-1 5-4 5 0 0-1 5-4 5-1 5-5 1 0 4-3 1-2-1-5 0-9-1-1-4-5 0-11-9-9-1-2-3-3-2-4-1-1-2-5-2-4-5-5-3-1-2-2-5-2-1-1-5-3 0-2-5-4-1-1-3-5-1-1-1-4-4-5 0-1-2-5 0-5 1-5 1-1 3-4 2-5 5-3 3-2 2-2 5-3 1-1 5-3 0-1 5-4 1-1-5-5-1-2-3-3-2-3-6-6 0-1-5-5-2-5-3-3-1-2 1-2 3-3 2-4 1-1 4-5 1 0 10-10-5-5 0-3-2-2-3-5-1-2-1-3-8-10-1-1-3-4-2-3-2-2-6-10-2-2-3-4 0-35-1-5 0-10 1-5-2-3-3-2 1-5 2-2 4 2 1 1 1-1-1-3 0-2-4-10-1-3-1-2-3-5-1-4-1-1-2-5-2-4 0-1-1-5 0-10-3-15 0-26 2-10 0-5 1-5 1-2 1-3 0-5 4-10 0-1 1-4 0-20-1-5 0-1-3-4-2-2-1-3-1-5 0-5 2-5-2-5-3-5 3-5 2-2 3 2 2 5-2 5-1 5 3 4 2-4 2-5 1-2 1-3 2-10 0-5-2-10-1-3-2-2-2-6-1 0-4-5 0-5 4-5 1-5 8-10 1-2 2-3 3-5 0-1 3-4 2-3 0-2 5-5 1 0 0-5 2-5-3-1-3-4-2-1-4-4-1 0-4-5-1 0-5-5-1 0-4-1-4-4-1 0-4-5-6-6-3-4-5-5-2-1-5-5-5-4-5 0-5-3-5-2-5 0-5-1-15 0-5 1-5 4-5 1-5 4-5 5-5 1-1 0-4-1-5-1-11 0-5-1-15 0-5 1-5 0-5 1-5 0-3 1-2 1-5 3-2 1 2 1 5 3 2 1 3 0 10 2 35 0 6-1 4 4 0 20-1 5 0 5 1 5 0 10 1 1 2 4 1 5-1 5-2 5 0 1-3 4-2 5 0 1-2 4-3 5-1 1-10 8-5 1-1 0-4 3-5 2-4 1-1 0-5 4-5 1-5 4-3 1 3 0 4 5 1 0 10 10 5 2 4 3 1 5 0 6 3 4 2 10 0 5 4 5 1 5 0 3 1 2 4 10-1 5-3 5-1 2 0 3-3 5-2 10-5 5-1 0-4 2-5 3-5 0-5 5-3 0-2 2-5 3-1 0-4 5 0 1 5 0 5 4 0 1 5 1 5 3 5 0 6 6 4 5 0 1 2 4 3 5 0 2 2 3 3 5 0 1 2 4 2 5 1 5 0 6 2 4 1 5 0 5-1 5-2 3-3 2 3 3 1 2 1 5-2 3-2 2 0 5-1 5 0 5-1 5-1 3 0 2-3 5-2 4 0 1-4 5-1 2-2 3-2 5-1 1-2 4-2 6-1 1-2 4-2 5-1 0-3 5-2 4 0 1-3 5-2 3-1 2 1 1 1 4 2 5 0 10 2 5 0 10 4 5-1 5-3 3-5 2-2 0-3 2-5 3-3 0-5 5 3 5 0 3 3 2 2 5 0 6 5 4 0 6 5 1 5 3 0 1 3 4-1 5 3 1 2-1 1-5 2-1 1 1 1 5 0 5-1 5-1 3-2 2-3 4-1-4-2-5-2-4-5 5-10 4-5 5 0 1-1 5-4 5-3 5-2 1-4 4-1 0-4 5-1 1-3 4-2 4 0 1-3 5-1 5-1 2-1 3-2 10 0 15 1 5 0 5 2 5 0 1 1 4 2 5 2 4 1 1 3 5 1 2 3 3 2 3 3 2 2 2 5 3 2 0 3 1 5 1 5 0 5-1 5 3 2 1 3 4 2 1 1 5-1 5-1 6-1 3 0 22zM575 807l-2-1 0-21 2-10 1 0 1 5 3 5 0 1 4 4 2 4 0 8-2 4-4 4-5-3zM686 141l-5-1-5-4-2-5 1-5 1-3 1-2 4-3 5-1 5 1 4 3 1 2 2 3 0 5-2 5-5 4-5 1zM742 716l-3-1-3-2-1-3 1-1 6-2 3 3-2 5-1 1zM762 736l-1-1 1-4 0-1 5-3 5-1 4 4 0 5-4 4-5 0-5-3zM837 806l5 1 5 0 5-1 1 0 5-5 1-6-2-2-2-3-3-1-5-1-5 0-5 1-2 1-3 4 0 7 5 5zM829 650l3 2 5 1 5-1 3-2 3-6 0-5-1-1-3-4-2-1-5-1-5 1-2 1-3 4 0 1-1 5 3 6z"/>
<path fill="#0029ff" d="M593 826l12 0 1-5 0-2-1-3-4-4-5 3-1 1-2 5 0 5zM641 821l0 2 2 3 9 0 2-5-1-5 0-5 2-5-2-5-1-6-1-5 0-5 1-5 2-5 2-2 2-3 3-2 5-2 1-1 4-1 10-10 5-1 2 2-2 5 0 1-4 4-1 5 3 5 2 2 5 0 5-1 1-1 4-1 5-2 4-2 1 0 5-3 3-2 2-1 5-3 4-1 1 0 5-1 6 0 5-1 5-5 1-3-1-4-1-1-4-5 0-1-2-4 1-5 1 0 2-5 3-3 1-2 3-5-1-5-3-5-5-4-1-1 1-2 0-6-1-2-4-5-1 0-5-5 0-5-2-5-5-5-3-4-1-1-1-5-3-4-1-1-1-6-1-5 1-5 2-3 2-2 1-5 2-2 5-2 2-1 3-3 3-2 5-5 3-4 1-1-1-2-1-3-4-5-3-5-3-3-1-2-5-5-2-5-2-2-2-3 2-3 2-2 3-5 0-1 4-4 1-5 0-3 1-2-1-1-2-4-3-4-11-11-3-5-1-2 0-6 1-2 0-5-1-1-2-4-2-5-1-1-4-5 0-35-1-4 0-1-2-5-3-5-4-10 0-10 2-10 0-10-2-5-1-4 0-1-2-5 0-5-1-5 0-5-1-5-1-2-1-3-1-5 0-5-1-5 0-16 1-5 0-5 2-5 0-2 1-3 2-5 1-5 1-4 0-1 3-5 1-5 0-15-2-5-2-4-1-1-3-5-1-2-1-3-1-5 0-5 1-5 0-5-1-5 1-5 1-1 5-3 5-1 0-4 1-1-1-5 0-1-2-4-3-5-5-5 0-1-5-4-1-1-2-5 1-5 2-5 0-5 3-5 2-5 0-1 1-4-1 0-10-2-3-3-2-1-3-4-1-5 0-5 2-5 2-2 4-3 1-1 5-1 5 0 5 5 4 2 1 5 4-5 1-3 1-2-1-1-5-3-1-1-4-3-5-2-5-4-1-1-8-10-1-2-2-3-3-4-2-1-3-1-10-4-2 0-3-1-5-2-10-2-5 0-5 1-5 5-3 4-2 3-7 7-3 5 0 1-1 4-3 5-1 4-1 1-1 5-3 5 0 10 1 5 0 5-1 2-1 3-1 5-2 5-1 2-2 3-2 5-1 4-1 1-2 5-5 5-3 4-3 1-2 3-1 3-4 2-5 1-2 2-3 1-4 4 0 5 8 10 5 5 1 3 1 2 1 5 3 5 0 2 1 3 6 15 3 5 0 1 2 4 0 15-1 5-1 4 0 6-1 5 0 5 1 5 0 4 1 1 0 10-1 2-1 3-2 5-2 3-1 3-2 5 1 5 0 10 1 5 1 3 1 2 0 5 1 5 0 10 2 10 0 10-1 5 2 5 0 4 1 1-1 4 0 1-1 5-3 5 1 5-1 5-1 4 0 1-1 5 0 15-1 5-2 5-3 6-3 2-1 3-3 5-1 1-1 4 1 5 0 1 1 4 1 5-2 5-3 5-2 2-2 3-2 5-1 5 0 5 2 10-1 5-1 3-1 2-4 5-3 5 3 5 0 10 2 10 3 5 1 0 3 5 1 2 1 3 1 5-1 5 0 10-1 6-4 10 0 5 1 5 3 5 0 1 5 5 5 3 1 1-1 1-5 3 0 1-5 4-2-4-3-5-4-5-1-1-5-4-1 0-4-2-10-2-5 1-10 6-1 2-5 5-3 5-1 2-1 3-2 5-3 15 0 5 1 5 0 5 1 5 4 10 0 1 2 4 3 4 1 1 4 5 1 0 4 3 4 2 1 1 5 1 10-2 5-2 3-3 2-1 3-4 2-2 2-3 3-5 0-2 5-2 10 2 5-3 5-5 0-2 3-3 3-5 5-3 5 1 3 2 2 1 4 4 1 2 2 3 0 5-2 3-7 7-3 4-2 1-2 5-1 4-1 1 0 5-1 5 2 3 1 2 3 5 1 1 3 4 2 3 2 2 2 6 2 0 4-1 5-4 0-1 3-5 2-4 0-1 1-5 2-5 2 0 5 3 3 2 5 5 2 5 1 5-1 6-1 5 0 10 1 5zM706 732l-1-2-4-5 0-6 5-2 5 0 5-1 1 4-1 5-3 5-2 2-5 0zM736 718l-3-3-1-5 4-4 3-1 3-3 3 3 2 1 3 4-3 3-1 2-4 4-6-1zM641 139l-4-3 1-5 3-4 2-1 3-4 3 4 2 2 1 3 1 5-2 2-5 2-5-1zM646 117l0-1-5-5 0-5 5-4 5 2 1 2-1 3-1 2-4 5 0 1zM837 801l5 2 5 0 5-2 1 0 0-6-1-1-5-2-5 0-5 3 0 6zM831 644l1 3 5 2 5-2 1-3 0-5-1-1-5-2-5 2-1 1 0 5z"/>
<path fill="#0067ff" d="M519 750l1 1 5 1 5 0 5-1 1-1 4-3 2-2 3-5 4-10 1-5 0-10-2-10-2-5-1-2-2-3-3-4-1-1-4-3-10-2-5 2-4 3-1 0-4 5-1 1-2 4-2 5-1 4 0 1-1 5 0 10 1 4 0 1 4 10 1 2 3 3 2 3 4 2zM656 745l0 1 5 3 5-3 1-1 4-5 5-4 2-1 3-2 5-3 0-1 2-4 1-5 2-5 0-1 5-3 5-1 3 0 2-1 10-2 5-2 5-4 2-1 2-5-2-5-2-1-5-4 0-5 5-1 5 0 3-4-1-5-5-5-2-3-2-2-1-5-2-3-2-2-1-6-1-5 1-5 3-4 1-1 1-5 3-3 5-2 1 0 5-5 2-5 3-4 0-7-2-4-2-5-2-1-2-4-5-5-1-5-2-1-3-4 3-4 1-1 2-5 2-4 2-1-1-5-1-2-2-3-8-8-3-2-2-2-5-3-1 0-4-4 0-1-1-5 0-5 1-4 1-1 3-5 1-3 1-2-1-2-5-5-3-4 0-5 2-10 0-20-3-5-1-2-2-3-3-4 0-1-2-5-2-10 0-10 1-5 0-20-1-5 0-5-1-5 0-2-1-3-1-5-2-5-1-4 0-6-1-5 0-21 1-5 0-1 1-4 6-15 1-5 2-5 1-5 0-15-1-1-3-4-5-5-2-3-1-2-1-5 0-5 1-5 0-5 3-15 3-4 2-1 3-5 1 0-1-1-2-4-1-5-2-2-4-3-1-2-5-1-4-3-1 0-4-5-1-3 0-12 1-5 0-10-1 0-5-3-15 3-5 0-5-1-5-2-10-2-10 0-5-1-5 0-5 1-1 0-4 3-1 2-1 5-3 4-1 1-2 5-1 5-1 3-2 2-3 5-1 2-1 3 0 11-3 5-1 0-5 3-2 2-3 5 2 5 3 5 0 5 4 5 1 5 5 5 3 5 2 5 1 2 0 3 1 5 0 20-1 5 0 4-1 1-1 5 0 5-1 5 0 15-1 5 0 5-1 5 0 6-1 4 0 1-1 5 0 45 1 5 0 10 1 5 0 20-1 2-2 3 0 5-1 5 0 30-1 5-1 3 0 3-4 10 0 10 1 5-1 5-1 3 0 2-2 5-3 4 0 1-4 5-1 1-1 4 0 5 1 5 0 5-2 10-2 5-1 1-2 4-2 5-1 3 0 9 2 3 3 5 0 1 2 4 2 10 0 15 1 4 1 1 0 11-1 1-1 4 0 5 1 5 4 5 1 1 5 3 2 1 3 1 5 3 3 1 3 4 0 1 1 5 4 4 0 1 5 3 5 1 5 0 5-3 10-10 2-1 13 0 5 2 5 1 0 2 2 5 1 5-1 5 0 10 2 10 1 2 1 3 4 10zM562 720l3 2 2-2-1-5-1 0-3 5zM600 126l1 1 5 3 5 0 5-2 2-2 3-2 3-3-3-3-3-2-1-5-1-1-5-1-1 2 0 5-4 3-5 1-1 1 0 5zM666 116l5 3 2-3 3-4 5-1-5-2-5-1-2 3-3 5z"/>
<path fill="#00a9ff" d="M666 720l5-4 1-1-1-3-5 0-2 3 2 5zM596 685l5 2 10 0 5-1 30 0 5-1 3 0 2-1 5-1 5 0 5 1 5 0 5 1 5-1 5-2 5 0 5-2 0-1 5-2 5-1 5 0 5-1 11 0-1-5-4-5-1-1-3-4-1-5-1-1-3-4-1-6-1-2-1-3 1-2 1-3 2-10 2-3 7-7 2-5 1-4 1-1 3-5 1-3 1-2 0-5-1 0-3-5-2-1-3-4-1-5-5-5 4-5 1 0 0-10-6-6-5-4-5-2-10-2-2-1-3-3-1-2-1-5 2-10 0-4 1-1 0-5 2-5 2-4 2-1-2-3-5-5-2-3-1-5 2-5 1 0 2-5 2-10 0-10-4-5-3-5-2-4 0-1-4-20 0-10 1-5 0-5 1-5 0-5 1-5-3-15-1-2-1-3-2-10 0-10-1-6 0-20 1-5 2-5 1-3 1-2 2-5 1-5 1-3 1-2 0-5 1-5-1-5-1-3-1-2-4-3-5-5-1-2-2-5 0-5 1-5 0-25 2-5 0-2 1-3-1-1-5-3-5 0-5-1-3-5-1-5-1-6 0-1-1-4-2-5-1-5-1-2-2-3-3-2-5-2-1-1-4-2-5-3-10-2-15 0-5-1-5 0-5 2-1 1-4 5 0 1-1 4-1 5-3 5 0 4-1 1 1 2 0 3 3 6 2 2 2 3 3 2 5 3 1 5 4 4 0 1 3 5 2 2 1 3 1 5 0 5-2 5-5 5-5 4-1 1-3 5-1 2-1 3-2 10 0 5-2 10 0 2-1 3-4 20 0 11-1 4-2 10 0 5-1 6 0 25-1 5 0 35 1 5 0 5 1 5 0 5-1 5 0 5-2 4 0 1-1 5 0 40-1 6 0 5-1 5 0 20-1 5-1 4 0 1-1 5-2 5-1 5-1 2 0 3-2 5-1 5-2 5-2 10-2 5-1 1-2 4-1 5 0 5 2 10 1 3 1 2 2 10 0 5 1 5 0 5 1 5 1 0 1 6 1 5-1 5 0 5 3 5 5 3 3 2 8 4 1 1 4 2 5 2 0 1z"/>
<path fill="#00eaff" d="M670 670l1 0 5 2 5 1 5 0 5-2 3-1 2-3 4-2 1-2 5-1 4 3 8 0 0-5-1-5-1-2-2-3-3-9 0-3 1-4 0-5-1-1 0-9-1-5-3-5-1 0-2-5 0-5-1-5 2-5-1-5 2-2 5-1 5 2 1 1 3 5 1 1 5 3 5-4 0-2 1-3-1 0-4-5-5-5-1 0-4-5 5-5-1-4 0-1-5-3-5-2-2 0-3-1-2 1-3 1-5 0-5-5 0-1-4-10 0-15 1-5 0-10-2-5 0-1-2-4-3-5-1-6 0-5 1-5 0-7 1-3 1-5 2-5 1-5 0-1 1-4-1-5 0-5-1-5 0-5-2-10 0-15 1-5 0-5 1-5 0-10-4-20 0-5-1-5 0-5-1-6 0-25 2-5 0-1 1-4 2-5 1-5 1-4 0-6-2-5-3-5-2-5-5-5-3-5-2-5 2-5 0-2 1-3 0-5-1-3-1-2-4-4-2-1-3-2-5-2-2-1-3-2-4-3-1-2-4-3-1-2-3-3-2-3-3-2-2-3-5 0-2 3-2 5 2 10 2 3 0 2 2 5 0 5-2 5 0 1-3 4-2 3-2 2-3 5-5 3-4 2-6 6-3 4 0 5-1 5-1 4-1 1-2 10-2 5 0 3-1 2-1 5 0 5-1 5 0 5-2 5 0 3-1 2-1 5 0 11-1 5 0 55 1 5 0 15-1 5 0 5-2 5 0 25 1 5 0 21-1 5 0 10 1 5 0 5-1 5 0 10-1 0 0 5-1 5-2 5-1 5-1 3 0 2-4 10-1 1-1 4-2 5-1 5-1 0-3 5-1 5 0 5 1 5 2 5 1 5 0 2 2 3 2 10 0 5 1 5 0 1 3 4 1 6 1 1 3 4 1 5 1 4 1 1 10 2 5 0 10-2 5 1 5 0 5-1 2 0 3-1 20 4 5-1 10 0 5 1 4 2zM593 181l3 3 5 2 10-2 10-6 2-2 3-4 0-1-3-5-2 0-5-1-5-2-10-2-5 3-3 2-2 5 0 5 2 5z"/>
<path fill="#00ffda" d="M634 650l14 0 3-1 20 0 1 1 14 0 10-4 7-7 1-5-6-10-2-2-1-3-3-5-1-1-1-4-2-10 1-5 0-15-3-15 0-5-3-15-2-5 0-20-1-5 0-5-2-5-1-5-1-3 0-13 1-5 0-5 2-10 0-5 2-10 0-20-1-5 0-30 1-5 0-10-2-10 0-5-1-5 0-5-1-5 0-5-1-6 0-5-1-5 0-20 1-3 0-2 2-10-1-5-1-3-1-2-2-5-2-4 0-1-2-5-3-3-3-2-2-3-2-2-3-5-1 0-1-5-3-3-5 2-1 1-4 3-3 2-2 1-5 3-2 1-3 1-5 1-10 6-4 2-1 5-4 10-1 3-1 2-4 10 0 2-1 3-2 5-2 10 0 3-1 2-3 15-1 4-1 2 0 85-1 5 0 5-1 5 0 20 1 5 0 5 1 5 0 31 1 1 0 20-1 4-4 20-1 3 0 2-2 5-1 5-2 3-1 2-1 5-2 5-1 2-2 3 0 5 2 10 3 5 2 5 0 1 2 4 1 5 0 10 2 5 0 1 5 4 1 1 5 2 15 0 5 1 5 0 5 1 10 0 3 1z"/>
<path fill="#00ffa0" d="M611 639l20 4 15 0 5-1 5 0 10-2 4-1 1 0 5-2 5-3-1-5-2-5-2-4 0-1-2-10 0-10 2-2 2-3 2-5 4-20 0-5-2-10-1-1-1-4 0-5-4-20 0-5-1-5 0-5-2-10 0-11 1-5 0-10 1-5 0-5 1-5 0-5 1-5 0-45-1-5 0-25-1-5 0-5-1-5 0-5-1-5 0-5-1-6 0-5-1-3 0-2-4-20-1-1-1-4-1-5 0-5-1-5-2-5 0-1-1-4-2-5-2-3-2-2-3-1-10-2-5 0-10 2-3 1-5 5-2 3-2 2-2 5-1 2-2 3-2 5-1 2-2 3-2 5-1 4-1 1-2 5-1 5-1 4-1 1-1 5-2 5-1 5 0 1-2 5 0 25-1 5 0 40-1 5 0 5-1 5 0 3-1 2 0 20 1 3 0 2 1 5 0 5 1 5 0 5 1 5 0 21 1 5 0 10-1 5 0 10-3 15 0 3-1 2-2 10 0 5-1 5 0 10 1 5 0 5 2 10 1 2 1 3 2 5 2 4 0 1 2 5 3 5 4 5 1 1 10 4z"/>
<path fill="#00ff66" d="M630 629l1 1 10 0 1-1 4-1 5-4 3-5 1-5 1-3 0-2 2-10 3-1 5-2 3-2 2-3 1-2 3-5 1-1 2-4 1-5 2-4 1-1 1-5-2-4 0-1-2-5-3-15 0-1-1-4-2-10 0-5-1-5 0-5-1-5 0-1-1-4 0-5 1-6 0-10 1-5 0-10 1-5 0-10 1-5 0-30-1-5 0-10-1-5 0-5-1-5 0-15-1-5 0-10-1-5 0-5-1-6-1-5-1-2-1-3-1-5-2-5-1-3-1-2-3-5-1-2-3-3-2-5 0-2-1-3-2-5-2-4-1-1-4-5-1 0-4-1-2 1-3 1-5 4-4 5-1 2-2 3-6 10-2 4-1 1-2 5-2 4-1 1-4 10 0 2-2 3-1 5-2 6 0 8-1 2 0 10-1 5 0 5-1 5 0 10-1 5 0 10-1 5 0 14-1 1 0 10-1 5 0 5 1 5 0 5 1 2 0 8 1 5 0 5 1 5 0 5 1 5 0 41-3 15 0 4-1 1 0 5-2 10 2 10 1 3 0 2 4 10 1 1 1 4 1 5 6 10 2 2 2 3 8 8 3 2 2 2 5 2 4 1z"/>
<path fill="#00ff29" d="M623 594l3 2 5 2 20-4 1 0 4-2 5-3 10-10 4-5 1-2 1-3 2-5-2-5 0-5-1-5-4-10-1-5 0-1-1-4-1-5 0-5-1-5 0-5-1-5 0-21 1-5 0-10 1-5 0-5 1-5 0-45-1-5 0-5-1-5 0-5-1-5 0-5-1-5 0-5-1-5 0-5-1-5 0-5-1-5-2-6 0-1-2-4-2-5-1-2-1-3-8-10-1-1-5-4-5-1-5 1-5 3-2 2-3 4-1 1-4 5 0 1-3 4-2 5-1 0-2 5-2 6-8 40 0 5-1 5 0 5-1 5 0 7-1 3 0 35 1 1 0 9 1 5 0 10 1 5 0 10 1 6 0 40-1 5 0 5-2 10 0 8-1 2 1 0 2 5 3 4 0 1 4 5 6 6 10 8 2 1z"/>
<path fill="#10ff00" d="M625 574l1 1 5 2 5 1 5 0 5-1 5-2 2-1 3-1 5-3 2-1 5-5 1-5 0-5-3-15 0-1-1-4-1-5 0-20-1-5 0-10 1-6 0-10 1-5 0-10 1-5 0-10 1-5 0-25-1-5 0-15-1-5 0-10-1-5 0-5-2-10-1-4 0-1-2-10-2-5-1-3-2-3-3-5-4-5-1-1-5-4-5-1-5 1-1 0-4 3-2 2-3 4-2 1-3 5 0 1-3 5-2 5 0 1-2 4-1 5-2 5 0 2-1 3-1 5-2 5 0 5-1 5 0 8-1 2 0 10-1 5 0 35 1 5 0 10 1 4 0 11 1 5 0 11 1 5 0 10 1 5 0 5 1 5 0 20 1 1 0 4 1 5 2 5 2 4 0 1 5 5 5 3 4 2z"/>
<path fill="#4eff00" d="M631 559l5 1 5 0 5-1 1 0 4-2 5-5 1-3 0-10-1-5 0-5 1-5 0-5 2-10 0-10 1-5 0-11 1-5 0-10 1-5 0-10 1-5 0-50-1-5 0-15-1-5-2-5-2-10-1-3-1-2-4-10-6-6-4-3-4-2-4 0-2 1-5 3-1 1-4 5 0 1-3 5-2 3-1 2-6 15-1 5-2 5 0 2-1 3 0 10-1 5 0 5-1 5 0 45 1 5 0 15 1 5 0 10 1 4 0 2 1 5 0 5 3 15 1 2 0 3 4 20 1 1 2 4 3 4 1 1 4 3 5 2z"/>
<path fill="#8dff00" d="M633 544l4 0 4-3 1-2 3-5 1-2 1-3 2-5 1-5 1-2 1-3 4-20 0-6 1-5 0-5 1-5 0-10 1-5 0-5 1-5 0-45-1-5 0-20-1-5-2-5 0-1-2-4-2-5-1-2-2-3-3-5-5-5-3 0-2-1-3 1-2 0-5 5-4 5-1 1-2 4-3 5-4 10-1 2-1 3-1 5 0 5-2 10 0 5-1 5 0 45 1 5 0 5 1 5 0 10 1 5 0 5 1 6 2 10 2 5 1 5 1 1 1 4 2 5 2 4 0 1 2 5 3 4 5 5 2 1z"/>
<path fill="#d0ff00" d="M631 529l5 1 1-1 4-5 3-5 2-5 0-1 1-4 4-10 1-5 1-6 0-5 1-5 0-5 1-5 0-5 1-5 0-5 1-5 0-40-1-5 0-20-1-5-4-10 0-1-2-4-3-5-1 0-4-5-1 0-4-2-5 2-5 4 0 1-4 5-1 1-2 4-3 5 0 1-2 4-2 10 0 5-1 5 0 1-1 4-2 10 0 30 1 5 0 5 2 10 0 5 1 5 0 5 2 10 0 6 2 5 1 5 2 5 2 4 0 1 3 5 2 4 1 1 4 5z"/>
<path fill="#ffe900" d="M628 514l3 3 5 0 3-3 2-3 1-2 3-5 1-3 1-2 1-5 1-6 2-10 0-5 2-10 0-5 1-5 0-5 1-5 0-30-2-10 0-5-1-5 0-5-2-10-4-10 0-1-4-4-1-2-5-2-5 1-5 5-2 3-3 5 0 1-2 4-1 5-2 5 0 2-1 3-4 20 0 35 3 15 0 5 1 5 1 3 0 2 2 10 1 6 2 4 0 1 4 10 1 2 2 3z"/>
<path fill="#ff9800" d="M632 504l4 1 1-1 4-5 2-5 1-6 2-5 0-1 1-4 4-20 0-5 2-10 0-30-1-5-1-3 0-2-2-10-2-5-1-4 0-1-2-5-3-5 0-1-5-5-2 1-3 0-4 5-1 2-1 3-3 5-1 4 0 1-4 10-1 5-2 5-1 5 0 30 2 10 1 4 0 1 3 15 2 5 1 5 2 5 2 6 2 5 3 4 1 1z"/>
<path fill="#ff5100" d="M634 494l2 0 3-6 2-3 1-2 2-10 2-4 0-1 2-5 1-5 0-5 2-10 0-31-1-4-2-10-2-5-3-5-1-5-1-2-2-3-3-4-5 2-2 2-3 5 0 1-2 4-2 5-1 2-1 3-2 5-1 5-1 2-1 3 0 30 1 3 0 2 2 10 2 5 1 4 0 1 4 10 1 4 1 1 2 5 2 4 3 2z"/>
<path fill="#ff0900" d="M634 483l2 1 0-1 4-10 1 0 4-10 1-2 1-3 0-5 2-10 0-5 1-5 0-15-4-20-3-5-2-4-1-1-3-5-1-2-5 1-1 1-2 5-2 2-2 3-2 5-1 3-1 2-1 5-2 5 0 25 3 15 1 4 0 1 2 5 1 5 2 3 1 2 2 5 2 4 3 1z"/>
<path fill="#ff0000" d="M630 468l1 2 5 2 3-4 2-2 1-3 1-5 2-5 1-2 0-3 1-5 0-5 1-5 0-10-1-5 0-5-1-5 0-4-1-1-3-5-1-5-5-4-5 2-2 2-3 4-1 1-4 10-1 5 0 30 1 2 1 3 1 5 2 5 1 3 1 2 3 5z"/>
<path fill="none" stroke="#000" stroke-width="3.8" d="M614 826l1-5 1-2 1-3 4-5 1 0 4-1 5 5 0 1 2 5 0 5M674 826l1-5 1-4 0-1 20-20 0-1 5-4 0-1 5-5 5-4 5-1 5-4 5 0 1-1 4-3 5-1 6 0 0-1 5-4 5 0 0-1 5-4 5 0 0-1 5-4 5-1 5-5 1 0 4-3 1-2-1-5 0-9-1-1-4-5 0-11-9-9-1-2-3-3-2-4-1-1-2-5-2-4-5-5-3-1-2-2-5-2-1-1-5-3 0-2-5-4-1-1-3-5-1-1-1-4-4-5 0-1-2-5 0-5 1-5 1-1 3-4 2-5 5-3 3-2 2-2 5-3 1-1 5-3 0-1 5-4 1-1-5-5-1-2-3-3-2-3-6-6 0-1-5-5-2-5-3-3-1-2 1-2 3-3 2-4 1-1 4-5 1 0 10-10-5-5 0-3-2-2-3-5-1-2-1-3-8-10-1-1-3-4-2-3-2-2-6-10-2-2-3-4 0-35-1-5 0-10 1-5-2-3-3-2 1-5 2-2 4 2 1 1 1-1-1-3 0-2-4-10-1-3-1-2-3-5-1-4-1-1-2-5-2-4 0-1-1-5 0-10-3-15 0-26 2-10 0-5 1-5 1-2 1-3 0-5 4-10 0-1 1-4 0-20-1-5 0-1-3-4-2-2-1-3-1-5 0-5 2-5-2-5-3-5 3-5 2-2 3 2 2 5-2 5-1 5 3 4 2-4 2-5 1-2 1-3 2-10 0-5-2-10-1-3-2-2-2-6-1 0-4-5 0-5 4-5 1-5 8-10 1-2 2-3 3-5 0-1 3-4 2-3 0-2 5-5 1 0 0-5 2-5-3-1-3-4-2-1-4-4-1 0-4-5-1 0-5-5-1 0-4-1-4-4-1 0-4-5-6-6-3-4-5-5-2-1-5-5-5-4-5 0-5-3-5-2-5 0-5-1-15 0-5 1-5 4-5 1-5 4-5 5-5 1-1 0-4-1-5-1-11 0-5-1-15 0-5 1-5 0-5 1-5 0-3 1-2 1-5 3-2 1 2 1 5 3 2 1 3 0 10 2 35 0 6-1 4 4 0 20-1 5 0 5 1 5 0 10 1 1 2 4 1 5-1 5-2 5 0 1-3 4-2 5 0 1-2 4-3 5-1 1-10 8-5 1-1 0-4 3-5 2-4 1-1 0-5 4-5 1-5 4-3 1 3 0 4 5 1 0 10 10 5 2 4 3 1 5 0 6 3 4 2 10 0 5 4 5 1 5 0 3 1 2 4 10-1 5-3 5-1 2 0 3-3 5-2 10-5 5-1 0-4 2-5 3-5 0-5 5-3 0-2 2-5 3-1 0-4 5 0 1 5 0 5 4 0 1 5 1 5 3 5 0 6 6 4 5 0 1 2 4 3 5 0 2 2 3 3 5 0 1 2 4 2 5 1 5 0 6 2 4 1 5 0 5-1 5-2 3-3 2 3 3 1 2 1 5-2 3-2 2 0 5-1 5 0 5-1 5-1 3 0 2-3 5-2 4 0 1-4 5-1 2-2 3-2 5-1 1-2 4-2 6-1 1-2 4-2 5-1 0-3 5-2 4 0 1-3 5-2 3-1 2 1 1 1 4 2 5 0 10 2 5 0 10 4 5-1 5-3 3-5 2-2 0-3 2-5 3-3 0-5 5 3 5 0 3 3 2 2 5 0 6 5 4 0 6 5 1 5 3 0 1 3 4-1 5 3 1 2-1 1-5 2-1 1 1 1 5 0 5-1 5-1 3-2 2-3 4-1-4-2-5-2-4-5 5-10 4-5 5 0 1-1 5-4 5-3 5-2 1-4 4-1 0-4 5-1 1-3 4-2 4 0 1-3 5-1 5-1 2-1 3-2 10 0 15 1 5 0 5 2 5 0 1 1 4 2 5 2 4 1 1 3 5 1 2 3 3 2 3 3 2 2 2 5 3 2 0 3 1 5 1 5 0 5-1 5 3 2 1 3 4 2 1 1 5-1 5-1 6-1 3 0 22M575 807l-2-1 0-21 2-10 1 0 1 5 3 5 0 1 4 4 2 4 0 8-2 4-4 4-5-3M837 806l5 1 5 0 5-1 1 0 5-5 1-6-2-2-2-3-3-1-5-1-5 0-5 1-2 1-3 4 0 7 5 5M762 736l-1-1 1-4 0-1 5-3 5-1 4 4 0 5-4 4-5 0-5-3M742 716l-3-1-3-2-1-3 1-1 6-2 3 3-2 5-1 1M829 650l3 2 5 1 5-1 3-2 3-6 0-5-1-1-3-4-2-1-5-1-5 1-2 1-3 4 0 1-1 5 3 6M686 141l-5-1-5-4-2-5 1-5 1-3 1-2 4-3 5-1 5 1 4 3 1 2 2 3 0 5-2 5-5 4-5 1M519 750l1 1 5 1 5 0 5-1 1-1 4-3 2-2 3-5 4-10 1-5 0-10-2-10-2-5-1-2-2-3-3-4-1-1-4-3-10-2-5 2-4 3-1 0-4 5-1 1-2 4-2 5-1 4 0 1-1 5 0 10 1 4 0 1 4 10 1 2 3 3 2 3 4 2M656 745l0 1 5 3 5-3 1-1 4-5 5-4 2-1 3-2 5-3 0-1 2-4 1-5 2-5 0-1 5-3 5-1 3 0 2-1 10-2 5-2 5-4 2-1 2-5-2-5-2-1-5-4 0-5 5-1 5 0 3-4-1-5-5-5-2-3-2-2-1-5-2-3-2-2-1-6-1-5 1-5 3-4 1-1 1-5 3-3 5-2 1 0 5-5 2-5 3-4 0-7-2-4-2-5-2-1-2-4-5-5-1-5-2-1-3-4 3-4 1-1 2-5 2-4 2-1-1-5-1-2-2-3-8-8-3-2-2-2-5-3-1 0-4-4 0-1-1-5 0-5 1-4 1-1 3-5 1-3 1-2-1-2-5-5-3-4 0-5 2-10 0-20-3-5-1-2-2-3-3-4 0-1-2-5-2-10 0-10 1-5 0-20-1-5 0-5-1-5 0-2-1-3-1-5-2-5-1-4 0-6-1-5 0-21 1-5 0-1 1-4 6-15 1-5 2-5 1-5 0-15-1-1-3-4-5-5-2-3-1-2-1-5 0-5 1-5 0-5 3-15 3-4 2-1 3-5 1 0-1-1-2-4-1-5-2-2-4-3-1-2-5-1-4-3-1 0-4-5-1-3 0-12 1-5 0-10-1 0-5-3-15 3-5 0-5-1-5-2-10-2-10 0-5-1-5 0-5 1-1 0-4 3-1 2-1 5-3 4-1 1-2 5-1 5-1 3-2 2-3 5-1 2-1 3 0 11-3 5-1 0-5 3-2 2-3 5 2 5 3 5 0 5 4 5 1 5 5 5 3 5 2 5 1 2 0 3 1 5 0 20-1 5 0 4-1 1-1 5 0 5-1 5 0 15-1 5 0 5-1 5 0 6-1 4 0 1-1 5 0 45 1 5 0 10 1 5 0 20-1 2-2 3 0 5-1 5 0 30-1 5-1 3 0 3-4 10 0 10 1 5-1 5-1 3 0 2-2 5-3 4 0 1-4 5-1 1-1 4 0 5 1 5 0 5-2 10-2 5-1 1-2 4-2 5-1 3 0 9 2 3 3 5 0 1 2 4 2 10 0 15 1 4 1 1 0 11-1 1-1 4 0 5 1 5 4 5 1 1 5 3 2 1 3 1 5 3 3 1 3 4 0 1 1 5 4 4 0 1 5 3 5 1 5 0 5-3 10-10 2-1 13 0 5 2 5 1 0 2 2 5 1 5-1 5 0 10 2 10 1 2 1 3 4 10M562 720l3 2 2-2-1-5-1 0-3 5M600 126l1 1 5 3 5 0 5-2 2-2 3-2 3-3-3-3-3-2-1-5-1-1-5-1-1 2 0 5-4 3-5 1-1 1 0 5M666 116l5 3 2-3 3-4 5-1-5-2-5-1-2 3-3 5M634 650l14 0 3-1 20 0 1 1 14 0 10-4 7-7 1-5-6-10-2-2-1-3-3-5-1-1-1-4-2-10 1-5 0-15-3-15 0-5-3-15-2-5 0-20-1-5 0-5-2-5-1-5-1-3 0-13 1-5 0-5 2-10 0-5 2-10 0-20-1-5 0-30 1-5 0-10-2-10 0-5-1-5 0-5-1-5 0-5-1-6 0-5-1-5 0-20 1-3 0-2 2-10-1-5-1-3-1-2-2-5-2-4 0-1-2-5-3-3-3-2-2-3-2-2-3-5-1 0-1-5-3-3-5 2-1 1-4 3-3 2-2 1-5 3-2 1-3 1-5 1-10 6-4 2-1 5-4 10-1 3-1 2-4 10 0 2-1 3-2 5-2 10 0 3-1 2-3 15-1 4-1 2 0 85-1 5 0 5-1 5 0 20 1 5 0 5 1 5 0 31 1 1 0 20-1 4-4 20-1 3 0 2-2 5-1 5-2 3-1 2-1 5-2 5-1 2-2 3 0 5 2 10 3 5 2 5 0 1 2 4 1 5 0 10 2 5 0 1 5 4 1 1 5 2 15 0 5 1 5 0 5 1 10 0 3 1M623 594l3 2 5 2 20-4 1 0 4-2 5-3 10-10 4-5 1-2 1-3 2-5-2-5 0-5-1-5-4-10-1-5 0-1-1-4-1-5 0-5-1-5 0-5-1-5 0-21 1-5 0-10 1-5 0-5 1-5 0-45-1-5 0-5-1-5 0-5-1-5 0-5-1-5 0-5-1-5 0-5-1-5 0-5-1-5-2-6 0-1-2-4-2-5-1-2-1-3-8-10-1-1-5-4-5-1-5 1-5 3-2 2-3 4-1 1-4 5 0 1-3 4-2 5-1 0-2 5-2 6-8 40 0 5-1 5 0 5-1 5 0 7-1 3 0 35 1 1 0 9 1 5 0 10 1 5 0 10 1 6 0 40-1 5 0 5-2 10 0 8-1 2 1 0 2 5 3 4 0 1 4 5 6 6 10 8 2 1M633 544l4 0 4-3 1-2 3-5 1-2 1-3 2-5 1-5 1-2 1-3 4-20 0-6 1-5 0-5 1-5 0-10 1-5 0-5 1-5 0-45-1-5 0-20-1-5-2-5 0-1-2-4-2-5-1-2-2-3-3-5-5-5-3 0-2-1-3 1-2 0-5 5-4 5-1 1-2 4-3 5-4 10-1 2-1 3-1 5 0 5-2 10 0 5-1 5 0 45 1 5 0 5 1 5 0 10 1 5 0 5 1 6 2 10 2 5 1 5 1 1 1 4 2 5 2 4 0 1 2 5 3 4 5 5 2 1M632 504l4 1 1-1 4-5 2-5 1-6 2-5 0-1 1-4 4-20 0-5 2-10 0-30-1-5-1-3 0-2-2-10-2-5-1-4 0-1-2-5-3-5 0-1-5-5-2 1-3 0-4 5-1 2-1 3-3 5-1 4 0 1-4 10-1 5-2 5-1 5 0 30 2 10 1 4 0 1 3 15 2 5 1 5 2 5 2 6 2 5 3 4 1 1M630 468l1 2 5 2 3-4 2-2 1-3 1-5 2-5 1-2 0-3 1-5 0-5 1-5 0-10-1-5 0-5-1-5 0-4-1-1-3-5-1-5-5-4-5 2-2 2-3 4-1 1-4 10-1 5 0 30 1 2 1 3 1 5 2 5 1 3 1 2 3 5"/>
</g>
<g fill="#000"><circle cx="85.5" cy="7.1" r="1"/><circle cx="71.4" cy="23.2" r="1"/><circle cx="116.2" cy="15.2" r="1"/><circle cx="106.6" cy="30.8" r="1"/><circle cx="151.9" cy="10.1" r="1"/><circle cx="131.8" cy="61.5" r="1"/><circle cx="126.2" cy="103.7" r="1"/><circle cx="181.6" cy="10.6" r="1"/><circle cx="183.6" cy="20.7" r="1"/><circle cx="204.3" cy="25.2" r="1"/><circle cx="121.2" cy="130.9" r="1"/><circle cx="78.9" cy="148.5" r="1"/><circle cx="111.1" cy="189.3" r="1"/><circle cx="109.1" cy="195.3" r="1"/><circle cx="226.4" cy="168.7" r="1"/><circle cx="209.8" cy="183.8" r="1"/><circle cx="181.6" cy="200.4" r="1"/></g>
<line x1="159.0" y1="5.1" x2="159.0" y2="206.4" stroke="#000" stroke-width="1.9" stroke-dasharray="1.1 1.2"/>
<line x1="58.3" y1="105.8" x2="259.6" y2="105.8" stroke="#000" stroke-width="1.9" stroke-dasharray="1.1 1.2"/>
<path fill="none" stroke="#fff" stroke-width="1.8" d="M98.6 213.2 99.1 212.6 99.6 212.0 100.1 211.4 100.6 210.8 101.1 210.2 101.6 209.6 102.1 209.0 102.6 208.3 103.1 207.7 103.6 207.1 104.1 206.5 104.6 205.9 105.1 205.3 105.6 204.6 106.1 204.0 106.6 203.4 107.1 202.8 107.6 202.1 108.1 201.5 108.6 200.9 109.1 200.2 109.6 199.6 110.1 199.0 110.6 198.3 111.1 197.7 111.6 197.0 112.2 196.4 112.7 195.7 113.2 195.1 113.7 194.4 114.2 193.8 114.7 193.1 115.2 192.4 115.7 191.8 116.2 191.1 116.7 190.4 117.2 189.8 117.7 189.1 118.2 188.4 118.7 187.7 119.2 187.0 119.7 186.4 120.2 185.7 120.7 185.0 121.2 184.3 121.7 183.6 122.2 182.9 122.7 182.2 123.2 181.5 123.7 180.7 124.2 180.0 124.7 179.3 125.2 178.6 125.7 177.9 126.2 177.1 126.7 176.4 127.3 175.7 127.8 174.9 128.3 174.2 128.8 173.4 129.3 172.7 129.8 171.9 130.3 171.2 130.8 170.4 131.3 169.6 131.8 168.8 132.3 168.1 132.8 167.3 133.3 166.5 133.8 165.7 134.3 164.9 134.8 164.1 135.3 163.3 135.8 162.4 136.3 161.6 136.8 160.8 137.3 159.9 137.8 159.1 138.3 158.3 138.8 157.4 139.3 156.5 139.8 155.7 140.3 154.8 140.8 153.9 141.3 153.0 141.8 152.1 142.4 151.2 142.9 150.3 143.4 149.3 143.9 148.4 144.4 147.4 144.9 146.5 145.4 145.5 145.9 144.5 146.4 143.5 146.9 142.5 147.4 141.5 147.9 140.4 148.4 139.4 148.9 138.3 149.4 137.2 149.9 136.1 150.4 134.9 150.9 133.8 151.4 132.6 151.9 131.4 152.4 130.2 152.9 128.9 153.4 127.6 153.9 126.3 154.4 124.9 154.9 123.4 155.4 121.9 155.9 120.3 156.4 118.7 156.9 116.9 157.5 114.9 158.0 112.8 158.5 110.2 159.0 105.8 159.5 110.2 160.0 112.8 160.5 114.9 161.0 116.9 161.5 118.7 162.0 120.3 162.5 121.9 163.0 123.4 163.5 124.9 164.0 126.3 164.5 127.6 165.0 128.9 165.5 130.2 166.0 131.4 166.5 132.6 167.0 133.8 167.5 134.9 168.0 136.1 168.5 137.2 169.0 138.3 169.5 139.4 170.0 140.4 170.5 141.5 171.0 142.5 171.5 143.5 172.0 144.5 172.5 145.5 173.1 146.5 173.6 147.4 174.1 148.4 174.6 149.3 175.1 150.3 175.6 151.2 176.1 152.1 176.6 153.0 177.1 153.9 177.6 154.8 178.1 155.7 178.6 156.5 179.1 157.4 179.6 158.3 180.1 159.1 180.6 159.9 181.1 160.8 181.6 161.6 182.1 162.4 182.6 163.3 183.1 164.1 183.6 164.9 184.1 165.7 184.6 166.5 185.1 167.3 185.6 168.1 186.1 168.8 186.6 169.6 187.1 170.4 187.6 171.2 188.2 171.9 188.7 172.7 189.2 173.4 189.7 174.2 190.2 174.9 190.7 175.7 191.2 176.4 191.7 177.1 192.2 177.9 192.7 178.6 193.2 179.3 193.7 180.0 194.2 180.7 194.7 181.5 195.2 182.2 195.7 182.9 196.2 183.6 196.7 184.3 197.2 185.0 197.7 185.7 198.2 186.4 198.7 187.0 199.2 187.7 199.7 188.4 200.2 189.1 200.7 189.8 201.2 190.4 201.7 191.1 202.2 191.8 202.7 192.4 203.3 193.1 203.8 193.8 204.3 194.4 204.8 195.1 205.3 195.7 205.8 196.4 206.3 197.0 206.8 197.7 207.3 198.3 207.8 199.0 208.3 199.6 208.8 200.2 209.3 200.9 209.8 201.5 210.3 202.1 210.8 202.8 211.3 203.4 211.8 204.0 212.3 204.6 212.8 205.3 213.3 205.9 213.8 206.5 214.3 207.1 214.8 207.7 215.3 208.3 215.8 209.0 216.3 209.6 216.8 210.2 217.3 210.8 217.8 211.4 218.3 212.0 218.9 212.6 219.4 213.2"/>
</g>
<rect x="58.3" y="5.1" width="201.3" height="201.3" fill="none" stroke="#000" stroke-width="1"/>
<path stroke="#000" stroke-width="1" d="M68.4 206.4V201.9M58.3 196.4H62.8M78.4 206.4V201.9M58.3 186.3H62.8M88.5 206.4V201.9M58.3 176.2H62.8M98.6 206.4V201.9M58.3 166.2H62.8M108.6 206.4V197.9M58.3 156.1H66.8M118.7 206.4V201.9M58.3 146.0H62.8M128.8 206.4V201.9M58.3 136.0H62.8M138.8 206.4V201.9M58.3 125.9H62.8M148.9 206.4V201.9M58.3 115.8H62.8M159.0 206.4V197.9M58.3 105.8H66.8M169.0 206.4V201.9M58.3 95.7H62.8M179.1 206.4V201.9M58.3 85.6H62.8M189.2 206.4V201.9M58.3 75.6H62.8M199.2 206.4V201.9M58.3 65.5H62.8M209.3 206.4V197.9M58.3 55.4H66.8M219.4 206.4V201.9M58.3 45.4H62.8M229.4 206.4V201.9M58.3 35.3H62.8M239.5 206.4V201.9M58.3 25.2H62.8M249.6 206.4V201.9M58.3 15.2H62.8"/>
<text x="54.3" y="209.5" font-size="12.2" text-anchor="end">-2</text>
<text x="58.5" y="220.2" font-size="12.2" text-anchor="middle">-2</text>
<text x="54.3" y="159.2" font-size="12.2" text-anchor="end">-1</text>
<text x="108.8" y="220.2" font-size="12.2" text-anchor="middle">-1</text>
<text x="54.3" y="108.9" font-size="12.2" text-anchor="end">0</text>
<text x="159.0" y="220.2" font-size="12.2" text-anchor="middle">0</text>
<text x="54.3" y="58.5" font-size="12.2" text-anchor="end">1</text>
<text x="209.3" y="220.2" font-size="12.2" text-anchor="middle">1</text>
<text x="54.3" y="8.2" font-size="12.2" text-anchor="end">2</text>
<text x="259.6" y="220.2" font-size="12.2" text-anchor="middle">2</text>
<text x="73.4" y="30.9" font-size="14.5" fill="#fff">#5</text>
<text transform="translate(21.0,140.3) rotate(-90)" font-size="21">Q<tspan font-size="12.5" dy="2.5">X</tspan><tspan dy="-2.5">/&lt;</tspan><tspan font-family="Liberation Sans" font-weight="bold" font-size="13.4" dy="-2.9">|</tspan><tspan font-weight="bold" dy="2.9">j</tspan><tspan font-family="Liberation Sans" font-weight="bold" font-size="13.4" dy="-2.9">|</tspan><tspan font-size="13.7" dy="-8.1">2</tspan><tspan dy="11">&gt;</tspan></text>
<text x="117.5" y="246.3" font-size="19.5">R<tspan font-size="13" dy="4">X</tspan><tspan dy="-4">/&lt;</tspan><tspan font-family="Liberation Sans" font-weight="bold" font-size="12.6" dy="-2.7">|</tspan><tspan font-weight="bold" dy="2.7">j</tspan><tspan font-family="Liberation Sans" font-weight="bold" font-size="12.6" dy="-2.7">|</tspan><tspan font-size="13" dy="-6.1">2</tspan><tspan dy="8.8">&gt;</tspan><tspan font-size="13" dy="-11.5">3/2</tspan></text>
<rect x="77.6" y="266.8" width="165.8" height="9.8" fill="url(#cbg)" stroke="#000" stroke-width="1.5"/>
<path stroke="#000" stroke-width="1.3" d="M78.4 276.6V281.1M101.9 276.6V281.6M125.4 276.6V279.1M148.9 276.6V281.6M172.4 276.6V279.1M195.9 276.6V281.6M219.4 276.6V279.1M242.9 276.6V281.6"/>
<text x="101.6" y="293.2" font-size="10.6" text-anchor="middle">-2.0</text>
<text x="148.6" y="293.2" font-size="10.6" text-anchor="middle">-1.0</text>
<text x="195.4" y="293.2" font-size="10.6" text-anchor="middle">0.0</text>
<text x="242.9" y="293.2" font-size="10.6" text-anchor="middle">1.0</text>
<text x="113.6" y="309.5" font-size="14">Log P(R*<tspan font-size="10" dy="3">X</tspan><tspan dy="-3">,Q*</tspan><tspan font-size="10" dy="3">X</tspan><tspan dy="-3">)</tspan></text>
</g>
</svg></body></html>
